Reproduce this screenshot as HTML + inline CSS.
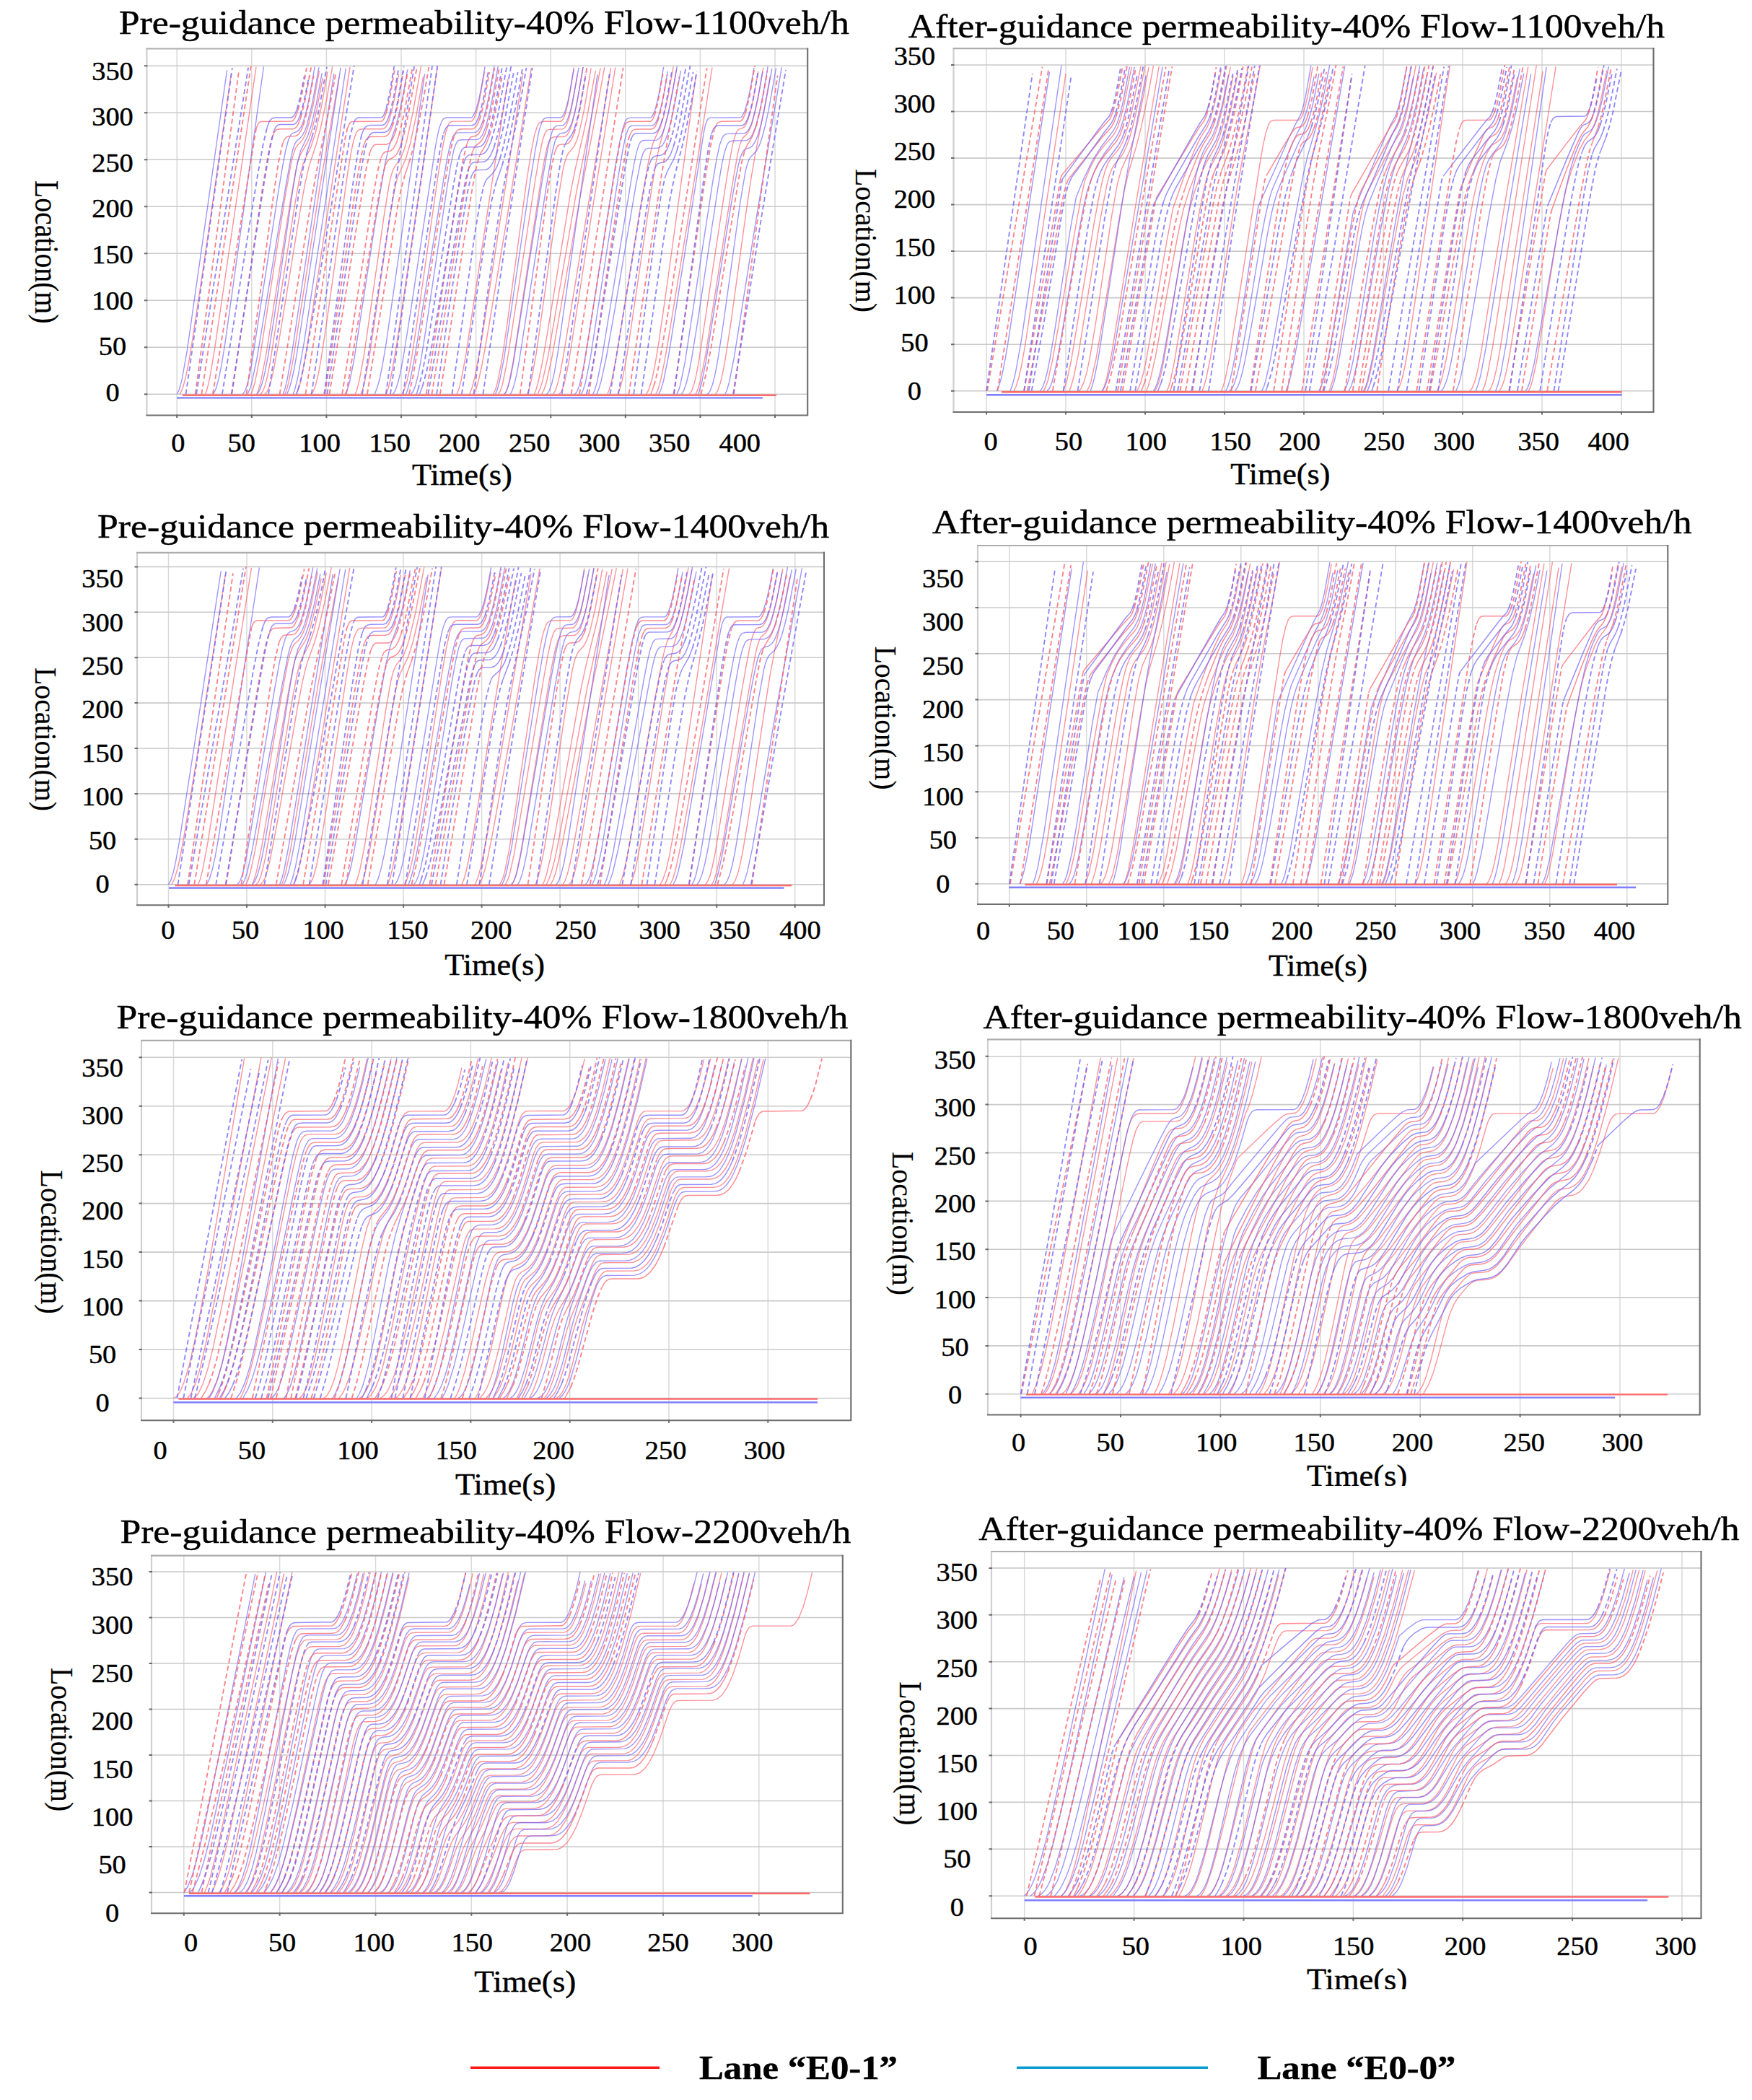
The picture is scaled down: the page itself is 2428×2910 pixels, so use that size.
<!DOCTYPE html>
<html lang="en"><head><meta charset="utf-8"><title>Trajectories</title>
<style>html,body{margin:0;padding:0;background:#fff}svg{display:block}text{font-family:"Liberation Serif","Times New Roman",serif;fill:#000;stroke:#000;stroke-width:.45px}</style></head><body>
<svg width="2428" height="2910" viewBox="0 0 2428 2910">
<rect width="2428" height="2910" fill="#fff"/>
<g>
<path d="M245.2 67.5V575.5M348.8 67.5V575.5M452.4 67.5V575.5M556.0 67.5V575.5M659.6 67.5V575.5M763.2 67.5V575.5M866.8 67.5V575.5M970.4 67.5V575.5M1074.0 67.5V575.5" stroke="#d9d9d9" stroke-width="1.5" fill="none"/>
<path d="M203.4 91.2H1119.2M203.4 156.2H1119.2M203.4 221.2H1119.2M203.4 286.2H1119.2M203.4 351.2H1119.2M203.4 416.2H1119.2M203.4 481.2H1119.2M203.4 546.2H1119.2" stroke="#cacaca" stroke-width="1.6" fill="none"/>
<g>
<path d="M249.3 546.2l3.7-7.7 4.1-14.7 4.2-20.2 4.6-27.4 16.6-110.7 37.8-262.6M284.6 546.2l2.6-7.6 3.1-12.9 6.7-38.8 58-394.1M347.8 546.2l2.6-6.5 3.1-10.9 6.7-33.6 34.2-218.1 8.8-49.5 3.1-12.9 3.1-8.8 2.6-4.2 5.2-5.4 3.1-4.3 3.1-6.5 3.1-9 7.3-30 8.8-48.6M356.1 546.2l2.5-7.4 3.2-11.7 6.7-34.3 33.7-212.6 7.7-44 2.6-11 2.6-8 2.6-5.5 8.3-14 3.1-7.6 3.1-9.7 6.7-28.2 8.3-44.4M361.2 546.2l3.1-4 3.1-8.3 3.2-12.4 3.6-18.6 33.1-211.6 7.8-44.9 5.2-20.1 10.9-23.5 6.2-19.3 8.3-37.1 8.3-46.9M366.9 546.2l3.1-3.5 3.1-6.7 3.2-10.4 3.1-13.5 8.2-45.8 28-171.8 6.8-38.5 5.7-25.1 10.8-33.2 5.7-21.7 8.3-39.7 7.8-44.2M394.9 546.2l2.6-7 2.6-9.5 6.2-31.8 36.8-238.1 26.9-153.5M410.4 546.2l3.1-6.4 3.2-10.8 7.2-38.2 61.1-398M430.6 546.2l1.6-1.1 1.6-2.1 3.6-9.1 3.6-14.6 3.6-19.4 7.8-51 29-206.2 5.2-32.1 3.6-16.8 3.6-10 2.1-2.8 2.1-1.4 4.6-.8 27.5-.1 2.6-.8 2.6-2.6 3.6-7.4 4.1-14.3 4.2-20 5.2-30.6M492.3 546.2l2.6-7.2 3.1-12 6.7-36.3 28-195 6.7-40.9 2.6-11.3 2.6-7.8 2.6-5 5.7-7.6 3.1-5.4 3.6-9 3.7-12.1 8.8-40.1 11.4-64.6M500.1 546.2l2.5-6.8 2.6-9.7 6.3-33 27.9-189.6 6.8-41.1 2.5-12 2.6-9 10.9-24.7 6.2-20.8 8.3-38.7 9.9-54.7M535.3 546.2l3.1-9.5 3.6-15.3 7.8-44.3 56.4-383.9M557 546.2l3.1-5.7 3.7-11.4 3.6-16.3 3.6-20.2 8.3-54.5 27.5-193.2 6.2-38.4 4.6-22.8 3.7-10.8 1.5-2.5 2.1-1.7 2.6-.6 25.4 0 1.5-.8 2.1-2.6 3.6-8.6 3.6-13.7 7.8-43.1M633.2 546.2l3.1-8.4 3.1-12.2 6.7-36.4 27.5-182.6 30.5-197.2M650.8 546.2l3.6-9.5 3.6-14 8.3-44.4 58.6-377.3M656.5 546.2l3.6-8.3 3.6-12.8 4.2-19.2 5.7-30.9 28-166.6 34.7-214.1M683.4 546.2l3.1-6 3.1-10.5 6.3-32.7 7.7-53.4 26.4-194.1 6.3-40 4.6-23.4 3.7-11.4 2-3.5 2.1-1.8 4.7-1.1 23.8-.1 1.5-.9 1.6-2.1 3.1-7.5 3.6-14.3 3.7-19.6 4.6-30.5M690.7 546.2l2.6-4.5 3.1-9.5 6.2-30 38.3-247.2 6.2-37.4 4.2-20.6 3.6-11.7 1.6-2.9 2-2.1 3.7-1.1 17.6-.3 2.6-1.6 2.6-3.8 3.1-8.1 3.6-14.1 8.8-49M699.5 546.2l2.6-5 3.1-10.1 6.2-31.2 37.3-243.8 5.2-31.6 3.6-18 3.1-10.2 1.6-3 2-2.3 3.7-1.3 12.4-.2 3.1-.6 3.1-2.5 3.1-5.5 3.6-10.6 4.2-17.4 5.2-27.7 5.1-32M730.6 546.2l2.6-7.1 3.1-11.8 6.7-36.3 29-205.9 7.8-47.7 3.1-13.4 2.6-7.5 2-3.8 5.7-6.5 3.2-5 3.1-7.3 3.1-10 7.2-33.2 9.3-56.2M740.4 546.2l2.6-6.7 2.6-9 5.2-24 7.2-41.3 32.7-198.1 6.7-33.8 15.5-67.6 12.5-67.9M745.1 546.2l3.6-8.2 3.1-9.8 7.8-34.9 39.3-227.7 22.3-111.8 10.9-59.6M750.8 546.2l3.6-7.4 3.1-9.8 7.8-35.7 40.4-229.8 23.3-121.7 8.8-48.7M766.8 546.2l3.1-5.6 3.1-9.7 3.2-13.3 4.1-21.8 66.3-401.7M775.1 546.2l3.1-4.1 3.1-8.4 3.7-14.9 3.6-19.3 32.6-210.5 31.6-195.4M841.9 546.2l2.6-6.8 3.1-11.4 6.2-31.4 33.2-206.4 11.9-67.8 5.7-23 2.6-6.5 7.3-14.8 5.1-16.5 6.3-28.3 7.2-41M855.9 546.2l3.1-7.3 3.1-11.2 6.8-35.2 32.1-217.6 7.8-48.2 4.6-22.2 8.8-32.3 4.7-19.5 10.9-57.5M895.3 546.2l2.1-2.8 2-4.5 4.2-13.6 4.1-19.5 4.7-27.4 11.9-82.4 40.4-293.4M908.8 546.2l3.1-6.6 3.6-12.5 4.1-19.4 4.7-25.8 28-170.6 34.7-217.8M955.4 546.2l3.1-4.3 3.1-8.6 3.1-12.6 3.6-19 35.3-232.3 6.7-41.6 4.6-25.1 3.2-12.8 3.1-7.9 2.6-3 5.1-1.4 2.6-1.7 3.1-4.8 2.6-6.6 3.1-10.9 3.1-14.1 7.3-40.7M964.2 546.2l3.1-7.2 3.1-10.7 7.3-36.1 36.7-233.5 7.8-45 2.6-11.1 2.6-7.6 2.1-3.6 5.7-5.8 2.5-3.8 3.1-6.8 2.6-7.9 6.8-29 7.7-44.2M991.6 546.2l3.1-5.1 3.7-10.7 3.1-13.1 3.6-19.3 7.3-47.3 21.2-154.1 7.2-49 6.3-36.3 12.9-65.4 7.3-40.4" stroke="#ff5a64" stroke-width="1.4" fill="none" opacity=".66"/>
<path d="M245.2 546.2l3.1-6.2 3.6-12.9 7.3-40.5 55.4-389.3M295.4 546.2l3.7-7 4.1-14.5 3.6-17.8 4.7-28.2 53.9-386.3M336.4 546.2l3.1-4.2 3.1-8.6 3.1-12.8 3.1-16.2 36.3-234.8 6.2-37.4 4.6-24.1 3.7-13.8 3.1-7 2.6-2.7 6.2-2.2 2.6-2 3.1-4.6 3.1-7.3 3.6-12.1 3.6-15.6 8.8-48.4M343.1 546.2l3.1-7.1 3.1-10.5 6.8-32.3 39.8-237.9 7.8-42.2 2.6-10.4 2.6-7 2.6-3.8 5.2-4.4 2.5-3.2 3.2-5.9 3.1-8.6 7.2-29.5 9.3-50.1M356.1 546.2l3.6-5.1 4.1-11.6 3.6-14.9 4.2-21.7 8.3-52.6 25.4-174 6.7-40.1 4.7-17.8 9.8-20.2 5.2-15.7 6.7-29.1 7.8-42.1M392.3 546.2l2.6-7.3 3.1-12.6 6.7-37.8 58.1-386.7M397.5 546.2l3.1-6.7 3.6-12.5 3.7-17 4.6-26.5 59.6-389.6M406.3 546.2l3.1-9.5 3.6-15.1 8.3-46.5 58-380.5M478.3 546.2l2.6-4.9 3.1-9.7 6.7-33 31.6-205.1 10.9-64.6 5.7-25.2 9.3-27.8 4.7-17.1 5.7-27.1 6.2-35.4M519.2 546.2l3.6-9.1 3.7-13.6 4.1-20.6 4.7-27.9 53.3-372.6M544.6 546.2l3.1-4.8 3.6-10.3 3.7-15.1 4.1-22 10.4-65.1 33.6-223.5 2.6-14.6 3.1-13.6 3.7-9.7 2-2.7 2.1-1.3 3.6-.5 32.1 0 1.6-.5 2.1-2.1 3.6-7.8 3.6-12.8 4.2-20.1 4.6-27.4M562.7 546.2l2.6-7.4 3.1-11.9 6.2-31.4 40.5-249.3 5.1-29.3 4.2-18.4 3.6-9.8 1.6-2.3 2-1.7 3.7-.8 23.3-.3 3.6-2.1 3.1-4.3 4.1-10.1 4.7-17.4 5.2-25.3 5.7-32.9M569.5 546.2l3.1-3.9 3.6-9.6 3.1-12.3 3.6-18.6 6.8-42.1 30-201.1 5.2-31.3 4.1-19.6 3.1-8.9 1.6-2.5 2.1-1.8 3.1-.7 22.8-.4 3.6-2.1 3.6-5 4.7-11.8 4.6-17.8 5.2-25.5 6.8-39.1M686.5 546.2l2.6-6.2 3.1-11 6.8-35 35.7-242.3 7.3-44.7 5.1-25.9 3.7-11.6 2-3.7 2.1-1.9 3.6-.9 18.7 0 1.5-.9 2.1-2.6 3.1-7.3 3.6-13.4 7.8-42.8M698.5 546.2l2.5-2.8 3.1-7.4 3.2-11.8 3.6-18.3 39.3-248.3 6.3-37 4.6-23.7 3.7-13.4 3.1-6.4 1.5-1.6 2.1-1.1 7.8-.6 2-.8 3.1-3.3 2.6-5.4 3.1-9.5 3.7-15.3 8.2-45.7M707.3 546.2l2.5-5 3.2-9.6 3.1-13.3 3.6-19.2 36.8-236.7 5.7-34.3 4.1-21.4 3.1-11.6 3.1-6.7 3.7-3.3 6.7-1.3 3.1-1.8 3.1-4.2 3.1-7.1 3.6-12.1 3.7-16 8.8-49.6M757.5 546.2l1.6-1.3 2-3.3 3.7-10.4 3.6-15.8 4.6-26.6 55-385.4M796.4 546.2l1.5-1.2 1.6-2.2 3.1-7.8 3.1-11.9 3.6-18.2 8.8-53.3 34.7-221.4 5.7-32.1 4.7-20.7 3.6-9.8 2.1-2.7 2-1.3 3.7-.5 26.4 0 1.5-.6 1.6-1.7 3.1-6.6 3.6-13.1 3.7-17.8 5.1-30.4M805.7 546.2l2.6-5.9 3.1-10.3 6.7-33.4 38.9-252.9 6.2-36.9 4.1-19.2 3.6-9.7 1.6-2.1 2.1-1.3 2.6-.4 26.4-.1 2.6-1 2.6-3 3.6-8.1 4.1-15.1 4.2-20.5 4.6-27.6M821.7 546.2l2.6-5.9 3.1-10.7 6.2-30.5 40.5-245.6 4.6-26.4 3.6-16.7 3.1-9.7 1.6-3 2.1-2.2 3.1-1 18.1-.4 3.6-2.3 3.7-5.7 4.1-11.3 4.7-18.6 5.7-28.7 6.2-35.7M826.9 546.2l3.1-7.8 3.1-10.3 7.3-33.6 12.4-70.1 28.5-167.9 7.3-36.2 3.1-9.2 3.1-4.4 3.6-1.3 12.4-.2 3.1-.6 4.2-3.2 3.6-6.2 4.2-11.4 4.6-18.3 5.7-27.7 7.3-39.9M912.9 546.2l3.1-6.5 3.6-12.2 7.3-36.4 48.7-309.1 2.1-9.6 2.5-6.2 1.6-1.9 2.1-1.2 41.4-.2 1.6-.5 1.5-1.4 3.6-7 4.2-14 4.1-19.7 4.7-26.5M937.8 546.2l2.6-5.1 2.5-8.2 6.3-30.7 38.3-248.8 5.7-33.5 4.1-18.9 3.7-10.2 2-3.1 2.1-1.6 4.7-1 21.2-.2 3.6-1.8 3.1-3.8 4.2-9.4 4.6-16.7 5.2-24.8 5.2-29.6M944.5 546.2l3.1-4.9 3.6-10.3 3.7-15 3.6-18.9 8.3-51.3 28.5-187.8 5.1-30.6 3.7-16.7 3.6-10.2 1.5-2.4 2.1-1.9 4.2-1.2 16-.1 3.7-.5 4.1-2.7 3.6-5.4 4.7-12 5.2-20 5.7-28.5 5.7-33.9M967.8 546.2l4.7-15.9 5.7-29.1 34.2-212.8 6.2-35.9 4.6-23.3 3.1-11.9 3.2-7.4 3.1-3.2 6.7-2.1 3.6-2.7 3.6-5.4 3.7-8.7 4.1-14 4.7-20.1 10.9-58.7M980.2 546.2l1.6-1.1 2.1-3 3.6-9.4 3.6-14.6 3.6-19.1 7.8-51 23.3-167.5 7.3-43.2 2.1-8.4 2.5-7.2 2.6-4.3 6.2-6.2 3.2-4.4 3.6-7.8 3.1-9.3 4.1-15.7 4.7-21.7 10.4-57.9M1005.1 546.2l2.6-6.5 3.1-11.1 6.7-34 30.6-192.3 35.2-209.2" stroke="#6c60ff" stroke-width="1.4" fill="none" opacity=".66"/>
<path d="M355 178.2l2.6-6.6 2.1-2.3 2.1-.9 42.9-.4 2.1-1.6 2.1-3.1 4.1-10.8M377.3 190l3.1-7.2 1.6-1.9 2-1.4 4.2-.7 17.6 0 3.1-1.1 2.1-1.9 2-3.3 3.7-9.1M391.3 200.3l2.6-6.7 3.1-3.8 3.1-1 9.3-.3 2.1-.7 2-1.5 3.7-5.4 3.1-7.7M481.4 177.9l3.1-6.9 1.6-1.6 2-1 41-.4 1.5-1.3 1.6-2.4 3.1-8M504.2 201l3.1-7.5 1.6-2 2-1.5 3.7-.6 17.6-.1 3.6-1 2.1-1.8 2-2.9 3.7-8.3M512.5 211.8l3.1-7.9 3.1-3 2.6-.6 14.5-.1 4.1-1.8 4.2-5.6 3.6-9M528 219l2.1-4.7 2.6-3.1 2.1-.9 6.2-1.1 4.1-3.4 4.2-7.6 3.6-10.6M533.7 230.1l2.1-4.9 2.1-2.9 2-1.6 5.7-2.7 3.7-3.7 3.6-6.6 3.6-10M560.7 244l6.2-18.4M629 189.6l3.1-7 1.6-1.9 2.1-1.3 3.6-.6 15-.1 3.1-1 3.7-4.3 3.1-7.2M646.6 200.8l2.6-6.7 2.6-3.5 2.1-1.2 5.7-1.1 3.6-2.9 3.1-5.1 3.1-8.1M654.4 211.6l2.1-5.6 2.1-3.4 6.7-5.4 3.6-4.6 3.1-6.6 3.1-9.2M663.7 218l2.6-5.9 7.3-12.2 4.6-11.9M768.4 212.5l2.1-6.1 2.5-4.3 3.2-1.9 8.2-.5 3.7-1.5 3.6-4.4 3.6-8.3M863.2 181.2l3.1-8.1 1.5-2.3 2.1-1.7 4.2-.8 27.4-.1 2.6-2.2 2.6-5.5M872 189.3l3.1-6.7 1.5-1.8 2.1-1.2 4.2-.6 19.6-.1 2.6-.6 3.1-3.2 3.1-6.7M902 546.2l4.2-11.6M989.6 181l3.1-8 1.5-2.3 2.1-1.6 4.1-.8 25.9-.3 3.2-3.1 3.6-8.4M1031.5 210.5l3.1-7.7 8.3-14.2 5.2-14.1" stroke="#ff5a64" stroke-width="1.5" fill="none" opacity=".7"/>
<path d="M370 177l3.1-8.3 1.6-2.5 2.1-1.9 4.6-1.2 23.3-.2 3.2-3.1 3.6-8M378.8 183.9l3.2-7.7 3.1-3.1 3.1-.5 17.6 0 3.1-.9 3.6-4 3.6-8.1M426 209.2l6.2-18.8M411 546.2l2-6.5M489.7 171.3l2.6-5.3 1.5-1.7 2.1-1 33.2-.5 1.5-1.4 1.6-2.5 3.1-8.4M501.1 187l3.1-8 2.1-2.9 2-1.5 4.7-1 17.1-.1 3.1-1.3 3.6-5.1 3.7-10.1M509.4 192.9l3.1-6.1 3.1-2.5 3.6-.7 13.5-.2 4.1-1.6 2.1-2.1 2.1-3.4 3.6-8.9M614.5 185.5l3.1-7.7 2.1-2.5 2.1-1.1 4.1-.5 28-.1 2.6-.5 2.1-1.6 2-2.9 3.7-8.7M577.2 546.2l2.1-6.4M637.3 213.6l3.1-6.7 3.1-2.5 3.7-.6 15.5-.1 4.7-1.6 2.6-2.5 2-3 4.7-10.9M581.4 546.2l4.1-10.9M643.5 223.2l2.6-5.4 3.1-2.7 3.1-.7 14-.1 4.7-1.9 2.6-2.5 2.6-3.9 4.6-11M649.2 234.2l2.6-5.6 3.1-3 3.1-.8 12-.5 2.5-.8 2.6-1.8 4.7-6.2 4.7-11.1M652.9 245.3l2.6-5.9 3.1-3.2 3.1-.7 10.8-.3 3.2-1 2.5-1.9 2.6-3 2.6-4.3 4.7-11.5M670 259.2l2-6.1 2.6-5 8.3-7.8 3.6-5.2 3.1-6.4 3.2-8.6M687.6 253l8.3-23.8M781.8 202.9l3.2-6.6 7.2-9.3 4.2-9.5M875.1 191.3l2.6-4.7 3.1-1.9 24.3-.2 3.1-.6 2.1-1.5 2.1-2.7 4.1-9.5M899.4 229.2l2.6-6.9 3.1-4.4 3.1-1.6 8.8-1.4 4.2-3 3.6-5.6 3.6-9M906.7 235.5l2.1-4.9 2.5-3.4 2.6-1.3 6.8-1.5 2.6-1.6 2-2.2 4.2-7.2 4.1-11.2M921.7 245.7l3.1-8.2 8.8-16.6 4.7-12.9M985.9 186l3.1-7.9 2.1-2.6 2.1-1.2 3.1-.4 30.6 0 3.1-.6 2-1.6 2.1-2.9 3.6-8.2" stroke="#6c60ff" stroke-width="1.5" fill="none" opacity=".7"/>
<path d="M270.6 546.2l60.1-445.8M279.4 546.2l68.4-454.7M294.9 546.2l60.1-368M413 152.5l5.2-21.4 6.7-36.9M321.3 546.2l41.5-279.2 8.8-52.4 3.1-15 2.6-9.6M416.7 163.4l6.2-25 8.3-45.1M341.5 546.2l37.9-278.6 6.7-43.4 5.2-23.9M420.3 173.2l3.1-10.7 3.6-15.8 7.8-42M387.6 546.2l44.1-270.1 7.7-42.2 17.7-87.6 8.3-45M423.4 546.2l54.9-354.4 3.1-13.9M535.3 156.3l5.2-22.2 6.2-36.8M450.3 546.2l42.5-285.2 6.7-39.9 4.7-20.1M543.6 175.3l3.1-10.5 3.6-16 8.8-49.9M456.5 546.2l46.7-287.2 5.1-29.2 4.2-18M547.7 183.8l3.6-12.8 3.7-16.2 9.8-54M474.2 546.2l42.4-271.6 6.8-37.4 4.6-18.2M552.9 187.6l7.8-33.4 10.8-59.9M479.9 546.2l44-268.5 5.7-31.2 4.1-16.4M556.5 197.7l4.2-15.4 4.6-21.2 12.5-67.9M508.9 546.2l41.4-255.4 5.2-27.1 5.2-19.7M566.9 225.6l5.7-20 6.2-27.4 8.3-42.7 7.2-42.3M566.9 546.2l5.7-26.2 7.2-40.5 40.4-248.2 5.2-27.6 3.6-14.1M664.3 166.2l3.1-10.4 3.1-13.3 7.7-42.4M590.7 546.2l43-278.5 7.8-44.8 5.1-22.1M669.4 172.2l3.7-13 3.6-16.4 8.8-48.7M598.5 546.2l45.6-282.1 6.2-35 4.1-17.5M675.1 176.8l3.7-14 4.1-19.2 9.3-51.4M609.9 546.2l43-275.5 6.2-35 4.6-17.7M678.2 188l3.7-12.9 4.1-18 10.4-54.4M720.7 546.2l37.3-274.1 5.7-37.4 4.7-22.2M795.3 185.5l3.6-12.4 4.2-18.8 10.3-61.2M791.7 546.2l72-452.3M803.1 546.2l49.2-309.9 6.2-35 4.7-20.1M906.7 160.5l2.6-8.5 2.6-11.4 6.7-38.2M816 546.2l44.1-294.1 7.2-43.3 4.7-19.5M911.3 168.4l2.6-8.5 3.1-13.3 7.8-43.3M871.5 546.2l44-295.8 7.2-42.8 18.7-101.1M906.2 534.6l3.6-13.3 3.6-16.7 9.3-52.4 57-358.1M933.6 546.2l44.1-302.1 6.7-40.2 5.2-22.9M1033.1 156.5l5.7-23 7.2-42.3M971.4 546.2l6.8-26.7 7.2-37.4 38.4-234.7 4.1-22.4 3.6-14.5M1048.1 174.5l7.3-30.3 8.2-45.9M1017 546.2l31.6-233.6 29-207.9" stroke="#ff5a64" stroke-width="1.85" stroke-dasharray="6.8 4" fill="none" opacity=".76"/>
<path d="M257.6 546.2l64.3-451.8M272.1 546.2l72-452.7M307.9 546.2l49.7-306.9 7.3-40.2 5.1-22.1M411.5 151.8l4.6-17.2 5.7-29.3M320.8 546.2l45.1-292.4 7.8-46.4 5.1-23.5M416.1 159.6l5.7-21.1 6.3-32.3M372.1 546.2l42.5-281.7 5.7-32.5 5.7-22.8M432.2 190.4l5.2-18.3 4.6-20.3 10.9-58.9M413 539.7l3.7-12.8 4.1-18.5 11.4-62.1 26.9-160.4 31.6-194.2M431.7 546.2l47.6-323.6 5.7-32.9 4.7-18.4M535.3 150.5l4.6-20.5 6.3-37.8M449.3 546.2l38.8-285 7.8-50.4 5.2-23.8M540.5 157l5.7-25.4 6.2-37.6M453.4 546.2l46.1-305 5.7-32.5 4.2-15.8M544.6 167.4l3.1-10.8 3.6-16.3 8.3-47.9M502.1 546.2l39.4-254.6 32.6-199.5M534.8 546.2l64.2-454.7M541 546.2l65.2-454.8M558.6 546.2l47.1-314.6 5.2-30.6 3.6-15.5M664.3 159.9l5.7-22.9 6.7-37.8M579.3 539.8l5.7-22 6.2-32.1 37.8-232.5 4.7-25.4 3.6-14.2M676.7 185.7l4.1-14.5 4.2-18.3 10.9-59.6M585.5 535.3l5.7-20.6 6.8-33 11.4-65.1 26.4-158.3 4.1-21.6 3.6-13.5M680.8 195l4.7-16.2 4.7-20.6 11.9-64.9M593.3 546.2l47.7-274.2 4.6-24.2 3.6-13.6M684.5 204.4l4.6-15.9 5.7-24.9 13.5-71.7M605.2 546.2l14.5-101.5 17.1-111.7 10.4-62.7 3.1-15.4 2.6-9.6M688.1 213.5l4.7-16.3 5.1-22.7 14-74.3M626.4 546.2l31.6-222.3 6.8-41.1 5.2-23.6M692.8 220.1l4.6-16.6 5.7-25.4 7.8-39.7 6.7-38.2M639.9 546.2l34.7-230.5 6.8-37.9 6.2-24.8M695.9 229.2l6.2-22 6.2-27.6 8.8-45 7.3-41.8M656.5 546.2l25.4-184.6 10.9-73.4 7.2-40.9 19.7-97.8 9.8-55.6M669.4 546.2l34.7-235.3 33.7-217M732.1 546.2l38.4-281.6 6.2-39.5 2.6-12.8 2.5-9.4M796.4 177.5l3.6-12.5 3.6-16 8.3-46.2M778.7 546.2l65.8-443.2M812.9 546.2l5.2-21.6 6.2-32.9 42-259.4 5.2-28 3.6-13M916.5 170.2l3.1-10.9 3.1-13.8 8.3-46.3M845.6 546.2l43.5-265.4 6.2-34.3 4.1-17.3M928.4 197.3l4.2-14.2 5.2-22.4 12.9-68.3M857 546.2l38.3-252.3 6.7-39.3 4.7-19.1M933.6 202.2l4.7-17.4 5.2-23.6 12.9-69.7M878.2 546.2l32.1-239.1 6.2-38.9 5.2-22.5M938.3 208l4.1-15.3 5.2-23.2 13-69.6M888.6 546.2l29.5-203.7 9.8-63.4 6.8-34.4 10.8-42.7 5.7-25.4 7.8-39.3 6.7-38.1M934.1 546.2l42.5-308 5.2-33.1 4.1-19.1M1037.7 160.6l3.1-10.5 3.2-13.5 6.7-37.2M1016 546.2l38.8-242.6 34.2-206.7" stroke="#6c60ff" stroke-width="1.85" stroke-dasharray="6.8 4" fill="none" opacity=".76"/>
</g>
<path d="M245.0 551.4H1057.0" stroke="#7f7fff" stroke-width="2.4" fill="none"/>
<path d="M253.0 547.7H1076.0" stroke="#ff6a6a" stroke-width="2.4" fill="none"/>
<path d="M203.4 575.5V67.5" stroke="#cfcfcf" stroke-width="2.2" fill="none"/>
<path d="M202.4 67.5H1120.2" stroke="#adadad" stroke-width="2.2" fill="none"/>
<path d="M1119.2 66.5V575.5M202.4 575.5H1120.2" stroke="#6e6e6e" stroke-width="2.1" fill="none"/>
<path d="M245.2 574.5v4.5M348.8 574.5v4.5M452.4 574.5v4.5M556.0 574.5v4.5M659.6 574.5v4.5M763.2 574.5v4.5M866.8 574.5v4.5M970.4 574.5v4.5M1074.0 574.5v4.5M204.4 91.2h-4.5M204.4 156.2h-4.5M204.4 221.2h-4.5M204.4 286.2h-4.5M204.4 351.2h-4.5M204.4 416.2h-4.5M204.4 481.2h-4.5M204.4 546.2h-4.5" stroke="#6a6a6a" stroke-width="2" fill="none"/>
<text transform="translate(164.70,47.30) scale(1.1245,1)" font-size="46.00">Pre-guidance permeability-40% Flow-1100veh/h</text>
<text transform="translate(49.03,250.00) rotate(90) scale(0.3972,0.4571)" font-size="100">Location(m)</text>
<text transform="translate(571.00,672.40) scale(1.0551,1)" font-size="42.00">Time(s)</text>
<text transform="translate(127.25,110.83) scale(1.0890,1)" font-size="35.20">350</text>
<text transform="translate(127.25,174.43) scale(1.0890,1)" font-size="35.20">300</text>
<text transform="translate(127.25,237.63) scale(1.0890,1)" font-size="35.20">250</text>
<text transform="translate(127.25,301.23) scale(1.0890,1)" font-size="35.20">200</text>
<text transform="translate(127.25,364.93) scale(1.0890,1)" font-size="35.20">150</text>
<text transform="translate(127.25,428.53) scale(1.0890,1)" font-size="35.20">100</text>
<text transform="translate(136.83,491.93) scale(1.0890,1)" font-size="35.20">50</text>
<text transform="translate(146.42,555.93) scale(1.0890,1)" font-size="35.20">0</text>
<text transform="translate(237.22,625.73) scale(1.0890,1)" font-size="35.20">0</text>
<text transform="translate(315.53,625.73) scale(1.0890,1)" font-size="35.20">50</text>
<text transform="translate(414.35,625.73) scale(1.0890,1)" font-size="35.20">100</text>
<text transform="translate(511.45,625.73) scale(1.0890,1)" font-size="35.20">150</text>
<text transform="translate(607.85,625.73) scale(1.0890,1)" font-size="35.20">200</text>
<text transform="translate(704.95,625.73) scale(1.0890,1)" font-size="35.20">250</text>
<text transform="translate(801.95,625.73) scale(1.0890,1)" font-size="35.20">300</text>
<text transform="translate(898.95,625.73) scale(1.0890,1)" font-size="35.20">350</text>
<text transform="translate(996.55,625.73) scale(1.0890,1)" font-size="35.20">400</text>
</g>
<g>
<path d="M1367.0 67.2V571.0M1477.0 67.2V571.0M1587.0 67.2V571.0M1697.0 67.2V571.0M1807.0 67.2V571.0M1917.0 67.2V571.0M2027.0 67.2V571.0M2137.0 67.2V571.0M2247.0 67.2V571.0" stroke="#d9d9d9" stroke-width="1.5" fill="none"/>
<path d="M1321.5 90.0H2291.5M1321.5 154.5H2291.5M1321.5 219.1H2291.5M1321.5 283.6H2291.5M1321.5 348.1H2291.5M1321.5 412.6H2291.5M1321.5 477.2H2291.5M1321.5 541.7H2291.5" stroke="#cacaca" stroke-width="1.6" fill="none"/>
<g>
<path d="M1405 541.7l3.2-6.4 3.9-12.6 3.9-17.6 4.9-28.1 56.1-374.5M1446.2 541.7l2.8-5 3.2-9.5 6.6-28.9 32-184.8 7.1-38.3 5.5-25.1 7.7-18.4 8.2-15.6 8.9-12 14.8-16.9 2.8-4.2 2.7-5.8 4.4-12.8 4.4-17.2 11-54.5M1473.7 541.7l5-14.8 6-28.4 31.3-187.8 6.7-36.4 4.9-23.4 3.9-14.2 4.3-11.1 4.4-7 8.3-9.6 3.8-5.5 3.9-7.5 3.3-8.7 5-16.8 4.9-20.7 11.6-58.2M1482 541.7l2.7-7.5 3.3-11.9 6.6-32.1 29.7-183.1 9.4-50 3.3-12.7 3.8-10.3 3.9-6.5 8.2-9.7 3.9-5.7 4.4-9.2 3.8-10.7 5-17.7 4.9-21.2 12.1-62.6M1494.6 541.7l2.2-1.6 1.7-2.2 3.8-8.8 3.9-13.5 4.3-20.8 8.3-49.3 22-147 7.7-43.3 5.5-20.3 11.5-25.5 7.2-22.4 9.3-41 10-52.9M1506.2 541.7l2.7-4.6 3.3-9.4 6.6-29.6 7.7-44.4 24.2-148.5 7.7-42.4 5.5-23.6 11-37 6.6-25.8 8.8-41 8.2-44.5M1527.6 541.7l2.7-6 3.4-11.2 7.1-35.7 31.9-197.4 33.5-199.4M1575.5 541.7l2.7-4.6 3.3-8.8 3.3-12.3 3.9-18 28-162.2 8.8-46.9 14.8-42.3 14.4-37 8.8-18.5 9.8-15.5 3.9-9.3 6.6-25 8.8-45.5M1588.7 541.7l2.7-7.2 3.3-11.1 6.6-29 29.7-161.9 5-24.5 4.3-18.7 7.7-25.2 13.8-35.5 7.7-16.5 11-18.2 5.5-13.6 4.4-15.3 4.4-18.7 10.4-53.9M1599.7 541.7l2.7-3.2 3.3-8 2.8-9.9 3.3-15.4 6-34.9 20.9-130.8 5.5-30 5-22.3 6.6-22.7 8.7-23.3 7.7-16.8 12.1-20.8 6.1-15.2 3.8-13.2 4.5-18.1 10.4-52.2M1617.2 541.7l2.3-5.4 2.7-9.6 5.5-26.4 28.6-173.6 6.6-36.9 5.5-27 3.8-15.5 3.9-11.8 3.3-7.5 9.9-18.6 3.9-9.7 3.3-10.4 9.3-38.3 9.9-50.7M1666.2 541.7l2.8-7.7 2.7-10.2 6.1-29.9 35.7-227.6 8.3-46 18.7-96.1 6-33.9M1692.6 541.7l2.7-6.9 2.8-10 6.1-30.4 42.8-273.8 3.9-21.6 3.9-16.9 3.8-10.7 2.2-3 2.2-1.4 3.8-.5 32.5 0 1.7-.6 1.6-1.7 3.3-6.8 3.9-13.5 4.4-21.6 4.9-29.2M1842.2 541.7l5-15.7 4.9-23.7 29.1-177.2 5-27.1 3.9-16.7 3.8-12.4 4.4-9.3 28.6-53.6 12.7-20.8 3.2-7.3 3.9-11.9 4.4-17.8 11-57.2M1891.2 541.7l2.7-6.6 2.8-9.2 6-27.3 33.5-186.2 8.3-42 6.1-22.4 12.1-28.9 7.1-22.5 9.4-39 11.5-57M1935.7 541.7l3.3-4.7 3.8-11.2 3.9-16.8 4.4-24.7 58.3-393.9M1991.8 541.7l2.8-5.4 3.2-9.8 6.7-29.5 7.1-40.7 24.7-150.6 6.1-32.5 5.5-24.6 6.6-21.5 4.4-11 3.9-8 4.9-6.9 7.7-4.8 3.3-2.9 3.3-4.9 3.3-7.2 3.9-11.5 3.8-14.8 9.9-48.5M2036.9 541.7l3.3-4.1 3.9-9.9 3.8-15.2 4.4-22.5 32.5-203.8 33-193.8M2054.5 541.7l3.3-8.4 3.3-12.6 7.7-41.3 60.5-388.9M2062.8 541.7l2.1-2 1.7-2.8 3.8-10.9 3.9-16.5 4.4-24.1 59.4-386.8M2077.6 541.7l3.3-4.5 3.9-10.9 3.8-16.4 4.4-23.5 63.2-394.2M2118.3 541.7l2.8-5.9 2.7-8.8 6-27.9 28.1-173.2 7.2-39.4 6-27.9 6.1-20.6 12-31.2 6.1-11.4 9.9-13 5-11.1 3.2-10.7 3.9-15.7 9.4-47.6" stroke="#ff5a64" stroke-width="1.4" fill="none" opacity=".66"/>
<path d="M1381.3 541.7l3.3-7.4 3.3-11.5 3.9-18.2 4.4-25 58.3-379.8M1400 541.7l3.3-9.1 3.9-15.2 8.8-49.3 55-377.4M1441.8 541.7l3.3-5.4 3.3-9.3 3.3-13.2 3.3-16.4 7.2-42.5 20.8-135.5 8.3-45.9 11-26.8 11.5-23.8 12.7-19.9 16.5-22 5-9.7 3.8-11.5 4.4-17.7 9.3-49.5M1451.2 541.7l3.3-3.9 3.3-7.9 3.2-11.9 3.3-15.2 7.2-39.7 23.7-142 6-32 5.5-24.4 6.6-19.5 7.7-17.2 9.3-15 16.5-22.3 3.4-6 2.7-6.6 4.4-13.9 4.4-17.9 10.5-53.7M1511.1 541.7l2.7-7.5 2.8-10.2 5.5-27.5 35.7-232.9 7.7-42.9 22.6-116.1M1527 541.7l1.7-1.7 2.2-3.7 3.9-10.4 4.4-17.4 4.9-24.7 67.1-391.4M1598.5 541.7l2.8-4.6 3.3-9 3.3-12.3 3.9-17.9 33.5-193.1 7.2-38.3 5.5-26 3.8-14.7 4.4-12.6 4.4-9 9.9-16.2 6-15.2 7.2-26.7 8.8-42.4M1698.7 541.7l2.7-5.5 3.3-10.2 3.3-13.9 3.8-20 7.2-43.8 24.8-162.3 44-98 7.7-16.1 7.1-13.2 3.3-10.5 3.3-14.1 7.7-43.2M1703.6 541.7l2.2-1.6 1.7-2.2 3.3-6.8 3.8-12.4 3.9-16.6 8.2-44.8 21.5-130.3 5.5-28.4 5.5-23.2 3.3-11 2.7-6.8 30.3-68.3 8.7-17.4 3.3-7.9 3.3-10.3 3.4-13 7.1-35.4M1711.8 541.7l3.4-5.5 3.3-8.6 3.3-11.8 3.8-17.2 8.2-44 22.6-129.7 5.5-28.1 3.9-16.3 3.8-12.8 5.5-14.3 23.7-53.6 9.3-19 3.9-9.7 3.8-12.4 3.9-15.5 8.2-41.2M1748.7 541.7l2.8-6.1 2.7-8.7 6.6-29.7 32.4-187.1 12.7-67.2 6.6-28.2 11-37.4 5.5-21.2 6.6-29.5 7.2-36.6M1782.2 541.7l3.3-8.7 3.3-12.3 7.7-38.3 67.2-390.7M1827.9 541.7l3.3-7 3.3-10.4 7.2-32.5 33.5-197.4 5-12.9 38.5-89.5 8.2-18.4 6.1-11.1 2.2-5.2 3.3-10.7 3.3-13.7 7.7-40.5M1844.4 541.7l4.9-14.2 5.5-24.5 28.7-163.6 4.9-25.7 4.4-19.3 4.4-13.3 7.7-19.5 24.2-58.8 10.5-22.1 3.8-9.6 7.2-25.4 8.2-39.8M1862.6 541.7l2.7-4.6 3.3-9 6.6-28.3 6-34 23.1-140.2 6.7-35.9 5.5-26 4.9-19.2 5.5-16.9 7.2-17.9 11-23.7 5.5-15.9 8.2-33.2 8.8-45.5M1869.2 541.7l3.3-6.7 2.7-8.2 7.1-30.9 31.9-182.3 10.5-52.8 4.4-17.2 4.4-13.9 5-12.6 10.4-23 6.6-19.5 8.8-36 8.8-44.8M1889.5 541.7l2.7-5.1 2.8-8.2 6.6-29.9 31.9-188.9 11.6-63.3 6.6-30.3 15.4-62.4 10.4-50.2M1997.3 541.7l3.3-4 3.9-9.4 3.3-11.9 3.8-17.9 7.7-43.7 25.3-154.7 6.1-33.3 4.9-23 3.8-13.5 3.9-9.2 4.4-6.9 8.2-9.9 3.9-5.6 3.9-7.5 3.2-8.7 4.4-14.8 4.5-18.4 10.4-54M2017.7 541.7l2.7-6 3.3-10.7 6.6-30.6 31.9-188.7 10.5-56 6.5-26.3 11.6-31.2 5.5-18.3 7.1-30.3 8.3-41.6M2045.2 541.7l3.2-8.7 3.4-12.4 7.1-36.8 29.7-183.2 33-198M2072.7 541.7l3.2-8.6 3.9-15.1 8.3-46.5 55-378.7M2114.4 541.7l2.8-4.6 2.7-7.5 6.1-25.3 34.7-195.3 8.2-42.4 6.6-29 7.2-24 4.4-11.4 4.3-9.6 2.8-4.6 2.2-2.6 7.2-3.9 2.7-2.4 3.3-5.1 2.7-6.4 3.9-12.3 3.9-15.8 9.3-47.5" stroke="#6c60ff" stroke-width="1.4" fill="none" opacity=".66"/>
<path d="M1469.8 248l1.2-4.2 1-2 52.3-61.8 12.7-13.4 2.7-4.9 2.8-7.4M1478.7 253.3l1.6-4.2 2.2-3.2 43.5-53.8 14.2-16.1 3.3-5.8 3.3-8.7M1511.7 250.8l4.9-12.6 5.5-10.6 8.2-11.8 17.1-20 4.4-8 3.9-10.2M1601.8 276.2l1.7-3.9 49-80.7 10.4-16.5 6.1-7.9 3.2-7.8M1581.5 541.7l4.4-10.5M1640.9 264.9l7.1-19.7 13.2-32.5 6.1-12.4 9.9-16 5.5-13.8M1621.7 541.7l2.1-6.1M1681 243.1l3.9-9.7 8.8-17.9 5-13.1M1692.6 237.5l8.8-23.5M1754.8 243.6l25.8-44.2 10.4-16.8 2.8-3.5 2.2-1.8 2.2-.8 5-.7 2.7-1.9 3.3-5.2 2.8-7.1M1787.8 206.2l3.8-9.5 3.9-6.3 3.8-3.5 7.2-1.6 2.7-1.7 3.8-5.3 3.3-7.8M1801.5 204.2l1.7-3.6 2.1-3.1 6.7-4.2 3.2-3.5 3.3-5.9 2.8-7M1871.3 273.8l2.3-5.9 22.5-39.4 25.3-43.9 6.6-10.7 5-6.7 2.2-4.7M1884 269.3l2.8-6.3 31.9-58.4 9.9-17.5 7.1-10.8 3.3-7.1M1918.7 241.2l7.6-17.7 6.7-12 9.3-15.1 4.9-11.1M1927.5 242l5.5-13.3 13.2-22.5 5.5-12.6M1935.7 240.9l4.4-9.8 10.5-18.1 4.9-11.8M1941.8 247.6l4.4-11.2 9.9-19.1 5.5-14.6M1958.8 249l8.8-23.9M2022.6 177.9l3.3-7.7 3.3-3.2 3.3-.6 31.3-.1 1.7-.8 1.7-1.7 3.8-7.6M2023.7 261.7l19.8-47.3 13.2-29 2.7-4.5 2.3-2.3 6.5-2.7 2.8-2.4 2.8-4.3 2.7-6.5M2036.9 250.5l9.3-23.6 13.8-30 4.4-6.2 8.3-4.8 3.2-3.5 3.9-6.9 3.3-8.8M2066.6 221.5l2.2-5.8 2.8-4.6 2.2-2.2 6-3.9 3.9-4.3 3.8-7.3 3.3-8.8M2141.9 239.2l1.7-4.2 28.6-37.6 17-22 7.7-8.4 2.3-4 2.1-5.7M2150.8 289.8l20.3-55.1 13.2-33.1 6.6-13.3 3.3-4.9 6.6-7.8 5-10.3M2205.8 200.1l8.8-23.4" stroke="#ff5a64" stroke-width="1.5" fill="none" opacity=".7"/>
<path d="M1472 249.5l1.2-2.6 46.1-63.3 11.6-15.3 6.1-6.8 3.2-7M1480.3 256.7l4.9-11.2 16.6-21.9 29.1-41.1 9.3-11.8 3.3-6.4 2.8-7.7M1522.1 246.2l3.3-8.6 3.8-7.5 6.6-9.9 14.4-19.3 3.8-7.1 3.3-8M1546.3 228.2l3.3-8.5 7.7-15.3 4.4-10.7M1599.1 282.8l55.6-98.4 8.8-14.8 6-8.5 4.4-11.3M1612.3 280.1l3.9-10.6 5.5-11.2 38.5-67.6 12-19 3.9-8.4M1621.7 278.7l3.8-10 4.4-9 33-57.7 12.6-20.4 5.5-12.4M1604.6 541.7l4.4-10.6M1668.4 228.9l5.5-14 11.6-20.6 4.9-13M1679.4 223.8l10.4-22.5 5-13.4M1788.8 243.9l7.7-20.3 15.5-33.1 5.5-14.7M1754.2 541.7l2.2-6M1885.1 289.9l3.9-10.5 15.3-34.1 23.7-56.2 8.8-18.1 3.3-8.4M1895 541.7l4.4-11.4M1901.1 541.7l2.1-6.2M2000.1 244.1l52.2-67.9 7.1-8.8 5.5-5.7 3.3-6.5M2014.9 245.9l3.9-10.1 4.4-7.7 32.4-42.3 12.1-14.2 3.3-5.7 3.3-8.6M2031.4 238l3.3-8.3 3.9-6.8 20.8-27.1 11.6-13.9 3.3-5.5 3.3-7.9M2041.3 242.4l4.4-11.3 4.4-8.4 6.1-8.5 18.6-23 4.4-8 3.9-10.1M2149.1 169.9l3.3-5.8 2.2-1.7 2.2-.8 39.6-.5 1.7-1.1 2.1-3.1 3.9-9.5M2144.7 285.1l28.1-68.2 14.8-34.1 2.7-5 2.8-3.6 2.2-1.4 4.9-1.9 2.8-2.5 2.8-4.5 2.7-6.8M2191.4 213.7l3.4-8.8 2.7-5.2 3.3-3.9 6.6-4.3 3.3-3.3 3.9-6.8 3.2-8.5M2206.3 214l3.3-8.3 8.2-14.4 3.9-9.5M2216.8 213.1l8.8-22.6" stroke="#6c60ff" stroke-width="1.5" fill="none" opacity=".7"/>
<path d="M1368.1 541.7l76.4-449.1M1382.4 541.7l70.9-446.6M1419.2 541.7l50.6-293.7M1542.5 154.3l6-24 7.2-37.7M1423.7 541.7l16.5-84.8 31.8-177.6 3.3-14.9 3.4-11.1M1546.8 161.5l6.7-25.8 8.7-45.2M1458.8 541.7l40.2-234.8 6.6-34.1 6.1-22M1555.7 177.6l3.8-13.2 4.4-18.5 10.4-52.8M1533.1 541.7l4.4-13.8 3.8-15 9.9-49.5 64.4-370.7M1549 541.7l75.4-449.6M1555.7 541.7l46.1-265.5M1672.2 159.4l5.6-22.4 7.7-43.8M1585.9 531.2l5.5-18.5 6.6-30.9 30.2-170 5.6-23.4 7.1-23.5M1682.7 170.5l3.8-13.6 3.9-16.6 9.4-49.2M1623.8 535.6l5.5-18.7 6.1-28.1 34.6-197.6 6.1-29.9 4.9-18.2M1698.7 202.4l5.5-19.1 5.5-23.3 6.5-31.8 6.6-35.8M1635.4 541.7l43.4-246.7 7.2-34.7 6.6-22.8M1701.4 214l6.1-19.6 6.5-26.4 7.8-35.8 7.7-40.3M1643.1 541.7l29.1-171 16.6-91.4 7.1-30.2 12.6-38.1 7.2-26.1 9.3-41.6 10-50.8M1652.5 541.7l22-140.2 19.7-115.6 7.2-31.7 13.2-43 7.2-27.1 8.2-37 8.8-44.5M1706.3 541.7l44-278.1 2.2-13.1 2.3-6.9M1812 161.6l6-24.1 8.2-45.5M1732.8 541.7l24.2-163.4 14.2-91.6 9.4-52.3 3.9-16.9 3.3-11.3M1816.3 170.5l3.4-10.8 3.8-16.3 8.3-44.4M1739.9 541.7l48.4-278.1 7.7-39.2 5.5-20.2M1821.3 176.9l3.9-13 3.8-16.2 9.3-47.9M1765.2 541.7l32.5-206.2 12.6-76.6 7.2-36.8 15.3-64.9 10.5-51.8M1776.2 541.7l26.4-176.6 16.5-105.4 7.7-43.2 17.6-86.8 7.1-39.6M1783.9 541.7l43.4-254.1 34.2-195.7M1804.2 541.7l68.8-434.7M1829.5 541.7l41.8-267.9M1935.2 162.5l3.3-10.7 3.3-14.5 8.2-47.2M1833.4 541.7l40.2-226.4 5.5-27 4.9-19M1939 169.2l3.3-10.2 3.9-15.8 9.9-51.9M1863.7 541.7l26.9-162.4 11.6-66.3 9.3-46.6 3.3-13 3.9-12.2M1947.2 185.3l3.9-12 4.4-17.5 11.6-57.1M1874.7 541.7l23.1-143.7 15.4-91.9 7.6-39.7 6.7-24.4M1951.7 193.6l4.9-16 5.5-22.6 6.6-31.7 6.1-32.8M1882.9 541.7l38.5-237.5 7.7-39.9 3.3-13.2 3.3-10.2M1955.5 201.2l5.5-17.9 5.5-22.7 7.2-34.1 6.5-35.7M1886.8 541.7l44-245.7 6-29.9 5-18.5M1961.6 202.7l4.9-17.2 6.1-25.4 7.1-34.2 6.6-35.1M1908.2 541.7l18.1-116.1 18.8-113.8 7.1-37.9 6.6-24.9M1967.6 225.1l6.6-21.1 6.6-26.1 8.3-37.9 7.7-39.5M1963.2 541.7l48.4-309.8 6.1-33.6 4.9-20.4M2071 156.2l3.3-10.6 3.3-13.8 7.7-41.8M1977.5 541.7l35.7-218.9 10.5-61.1M2076.5 162.7l3.3-10.7 3.3-13.5 8.8-45.4M1981.9 541.7l15.4-82.1 28.6-165.9 4.9-22.7 6.1-20.5M2083.1 166.7l7.1-27.8 8.9-46.2M2013.8 541.7l38.5-248.7 8.3-46.4 6-25.1M2090.8 184.6l4.4-15.4 5-21.5 10.4-55.3M2091.3 541.7l50.6-302.5M2201.3 157.3l2.8-9.5 3.3-14.6 7.2-39.9M2108.9 541.7l35.3-217.3 4.4-25.8 2.2-8.8M2205.8 165.3l3.3-10.5 3.8-15.6 8.8-45.7M2144.2 541.7l46.1-272.3 8.9-45.4 3.2-13.4 3.4-10.5M2214.6 176.7l3.8-13.3 4.4-18.2 10.4-52.8" stroke="#ff5a64" stroke-width="1.85" stroke-dasharray="6.8 4" fill="none" opacity=".76"/>
<path d="M1367 541.7l63.8-439.4M1419.2 541.7l65.5-437.5M1425.8 541.7l44.6-284.1 1.6-8.1M1540.2 154.5l2.8-8.9 3.3-14.2 7.2-40.4M1429.7 541.7l16.5-91.8 27-163.5 3.3-16.1 3.8-13.6M1546.3 156.6l6-24.6 7.2-39.3M1473.7 541.7l21.5-145.6 12.6-82.1 7.7-42.2 3.3-14.2 3.3-11.4M1557.3 185.8l3.9-12.2 4.3-17.3 10.5-52.1M1493.5 541.7l37.4-239.1 8.8-48.1 3.3-14.6 3.3-11.7M1561.7 193.7l5-15.9 5.5-22.6 6.6-32 5.4-30.8M1546.3 541.7l73.7-443.7M1552.9 541.7l44.6-252.1 1.6-6.8M1673.9 149.8l4.9-19.6 5.5-28.2M1566.1 541.7l34.7-209.5 6-30.8 5.5-21.3M1676.1 163.3l3.3-10.3 3.8-15.5 8.8-45.1M1573.2 541.7l35.8-207 6.6-33.2 6.1-22.8M1681 169.2l3.9-12.4 4.4-17.9 9.4-47.4M1609 531.1l5-17.2 5.5-25.5 37.3-207.9 6.7-32.6 4.9-19M1690.4 181.3l8.3-30.9 9.8-48.1M1626.6 541.7l22.6-149.9 16.5-105 7.6-41.5 2.8-11.2 3.3-10.3M1694.8 187.9l5-17.4 5.4-23.4 6.1-29.4 4.4-24.7M1632.1 541.7l40.7-235.5 8.8-48.1 6.6-29.1 11.6-37.5 6.5-25 7.7-34.7 7.2-37.3M1651.3 541.7l41.3-240.1 37.9-210.4M1662.3 541.7l36.9-220.5 39.6-230.3M1675 541.7l33.5-222.9 36.9-227.6M1733.8 541.7l38.5-226.5 8.9-43.3 7.6-28M1817.5 175.8l4.3-15.4 4.4-18.5 10-50.7M1756.4 535.7l6.1-20.9 6.5-31.7 32.5-183.9 9.9-52.3 6.1-26.4 11.5-41.7 5.5-22 6.6-30 6.6-33.8M1809.2 541.7l64.4-439.3M1814.7 541.7l33.5-193.7 43.5-257M1834.5 541.7l6.6-21.7 6.1-27.2 9.3-50.7 20.3-119 3.9-17.8 4.4-15.4M1940.1 162.6l3.3-11 3.8-16 8.3-43M1899.4 530.3l4.9-17.9 6.1-28.5 42.9-233.2 24.8-118.3 7.7-39.9M1903.2 535.5l6.1-21.1 7.2-32.8 41.7-227.6 30.9-150.9M1924.2 541.7l40.1-237 36.9-212.2M1936.8 541.7l35.8-234.3 35.2-215.9M1949.5 541.7l47.8-288 1.1-5.5 1.7-4.1M2068.2 155.2l2.8-8.5 3.3-13.3 7.7-40.5M1966.5 541.7l35.2-231.1 7.1-39.8 6.1-24.9M2074.3 157.3l6-23.6 7.8-40.5M1980.8 541.7l36.9-237.5 7.6-42.4 6.1-23.8M2077.6 168.5l3.8-12.7 3.9-16.1 9.4-49.1M1992.9 541.7l23.7-162.3 13.2-86.8 4.9-28.1 6.6-22.1M2083.1 173.1l7.1-27.3 8.9-45.6M2091.9 541.7l50.6-343.3 3.3-17.5 3.3-11M2204.1 147.4l4.4-17.1 4.4-22.8M2102.9 541.7l40.2-248.9 1.6-7.7M2208.5 157.1l3.3-11.1 3.3-14.1 7.7-41.4M2134.2 541.7l24.2-151.9 16.5-99.6 8.9-46.6 3.8-16.6 3.8-13.3M2217.8 172.9l7.2-27.1 8.8-43.4M2153.5 541.7l39.6-260.3 7.7-44.5 5.5-22.9M2221.7 181.8l4.4-14.7 4.4-18.3 10.4-53.7M2159.6 541.7l45.1-275.5 6.5-33.9 5.6-19.2M2225.6 190.5l4.9-15.9 4.9-19.7 11-54.9" stroke="#6c60ff" stroke-width="1.85" stroke-dasharray="6.8 4" fill="none" opacity=".76"/>
</g>
<path d="M1367.0 547.3H2247.8" stroke="#7f7fff" stroke-width="2.4" fill="none"/>
<path d="M1388.0 543.2H2247.8" stroke="#ff6a6a" stroke-width="2.4" fill="none"/>
<path d="M1321.5 571.0V67.2" stroke="#cfcfcf" stroke-width="2.2" fill="none"/>
<path d="M1320.5 67.2H2292.5" stroke="#adadad" stroke-width="2.2" fill="none"/>
<path d="M2291.5 66.2V571.0M1320.5 571.0H2292.5" stroke="#6e6e6e" stroke-width="2.1" fill="none"/>
<path d="M1367.0 570.0v4.5M1477.0 570.0v4.5M1587.0 570.0v4.5M1697.0 570.0v4.5M1807.0 570.0v4.5M1917.0 570.0v4.5M2027.0 570.0v4.5M2137.0 570.0v4.5M2247.0 570.0v4.5M1322.5 90.0h-4.5M1322.5 154.5h-4.5M1322.5 219.1h-4.5M1322.5 283.6h-4.5M1322.5 348.1h-4.5M1322.5 412.6h-4.5M1322.5 477.2h-4.5M1322.5 541.7h-4.5" stroke="#6a6a6a" stroke-width="2" fill="none"/>
<text transform="translate(1258.80,52.10) scale(1.1216,1)" font-size="46.00">After-guidance permeability-40% Flow-1100veh/h</text>
<text transform="translate(1186.43,233.90) rotate(90) scale(0.3984,0.4154)" font-size="100">Location(m)</text>
<text transform="translate(1705.30,671.30) scale(1.0505,1)" font-size="42.00">Time(s)</text>
<text transform="translate(1238.65,90.23) scale(1.0890,1)" font-size="35.20">350</text>
<text transform="translate(1238.65,156.33) scale(1.0890,1)" font-size="35.20">300</text>
<text transform="translate(1238.65,222.03) scale(1.0890,1)" font-size="35.20">250</text>
<text transform="translate(1238.65,287.83) scale(1.0890,1)" font-size="35.20">200</text>
<text transform="translate(1238.65,354.63) scale(1.0890,1)" font-size="35.20">150</text>
<text transform="translate(1238.65,421.23) scale(1.0890,1)" font-size="35.20">100</text>
<text transform="translate(1248.23,487.13) scale(1.0890,1)" font-size="35.20">50</text>
<text transform="translate(1257.82,553.73) scale(1.0890,1)" font-size="35.20">0</text>
<text transform="translate(1363.42,623.53) scale(1.0890,1)" font-size="35.20">0</text>
<text transform="translate(1461.83,623.53) scale(1.0890,1)" font-size="35.20">50</text>
<text transform="translate(1559.45,623.53) scale(1.0890,1)" font-size="35.20">100</text>
<text transform="translate(1676.55,623.53) scale(1.0890,1)" font-size="35.20">150</text>
<text transform="translate(1772.35,623.53) scale(1.0890,1)" font-size="35.20">200</text>
<text transform="translate(1889.45,623.53) scale(1.0890,1)" font-size="35.20">250</text>
<text transform="translate(1986.45,623.53) scale(1.0890,1)" font-size="35.20">300</text>
<text transform="translate(2103.45,623.53) scale(1.0890,1)" font-size="35.20">350</text>
<text transform="translate(2200.45,623.53) scale(1.0890,1)" font-size="35.20">400</text>
</g>
<g>
<path d="M233.5 765.8V1254.3M342.0 765.8V1254.3M450.6 765.8V1254.3M559.1 765.8V1254.3M667.6 765.8V1254.3M776.1 765.8V1254.3M884.6 765.8V1254.3M993.2 765.8V1254.3M1101.7 765.8V1254.3" stroke="#d9d9d9" stroke-width="1.5" fill="none"/>
<path d="M190.0 785.4H1142.0M190.0 848.3H1142.0M190.0 911.2H1142.0M190.0 974.1H1142.0M190.0 1037.0H1142.0M190.0 1099.9H1142.0M190.0 1162.8H1142.0M190.0 1225.7H1142.0" stroke="#cacaca" stroke-width="1.6" fill="none"/>
<g>
<path d="M237.8 1225.7l3.8-7.5 4.4-14.2 4.3-19.5 4.9-26.6 17.4-107.1 39.6-254M274.7 1225.7l2.8-7.3 3.2-12.6 7.1-37.5 60.7-381.4M340.9 1225.7l2.8-6.3 3.2-10.6 7.1-32.4 35.8-211.1 9.2-47.9 3.3-12.5 3.2-8.5 2.7-4.1 5.5-5.1 3.2-4.3 3.3-6.3 3.2-8.6 3.8-13.2 3.8-15.9 9.2-47M349.6 1225.7l2.7-7.1 3.3-11.4 7-33.2 35.3-205.7 8.2-42.6 2.7-10.6 2.7-7.8 2.7-5.3 8.7-13.5 3.2-7.4 3.3-9.4 7-27.3 8.7-42.9M355 1225.7l3.3-3.8 3.3-8.1 3.2-12 3.8-18 34.7-204.7 8.2-43.5 2.7-11.1 2.7-8.4 2.7-6.2 8.7-16.5 6.5-18.7 8.7-35.9 8.7-45.3M361 1225.7l3.3-3.4 3.2-6.5 3.3-10 3.2-13.1 8.7-44.3 29.3-166.2 7.1-37.3 5.9-24.3 11.4-32.1 6-21 8.7-38.5 8.1-42.8M390.3 1225.7l2.7-6.7 2.7-9.3 6.6-30.7 38.5-230.5 28.2-148.5M406.6 1225.7l3.3-6.2 3.2-10.4 7.6-37 64-385.2M427.8 1225.7l1.6-1.1 1.6-2 3.8-8.8 3.8-14.2 3.8-18.7 8.2-49.4 30.3-199.5 5.5-31 3.8-16.3 3.8-9.7 2.1-2.7 2.2-1.4 4.9-.7 28.7-.1 2.8-.8 2.7-2.5 3.8-7.2 4.3-13.9 4.4-19.3 5.4-29.5M492.3 1225.7l2.7-7 3.3-11.6 7.1-35.1 29.3-188.7 7-39.6 2.7-10.9 2.7-7.6 2.8-4.8 5.9-7.4 3.3-5.2 3.8-8.7 3.8-11.7 9.2-38.8 11.9-62.5M500.5 1225.7l2.7-6.5 2.7-9.4 6.5-32 29.3-183.4 7.1-39.8 2.7-11.7 2.7-8.7 11.4-23.8 6.5-20.2 8.7-37.4 10.3-53M537.4 1225.7l3.2-9.2 3.8-14.8 8.2-42.9 59.1-371.5M560.2 1225.7l3.2-5.5 3.8-11.1 3.8-15.7 3.8-19.6 8.7-52.7 28.8-186.9 6.5-37.2 4.8-22.1 3.8-10.5 1.7-2.4 2.1-1.6 2.8-.6 26.5 0 1.7-.8 2.1-2.5 3.8-8.3 3.8-13.3 3.8-17.6 4.4-24.1M639.9 1225.7l3.3-8.1 3.2-11.8 7.1-35.2 28.8-176.8 32-190.8M658.4 1225.7l3.8-9.2 3.8-13.5 8.7-43 61.3-365.1M664.3 1225.7l3.8-8.1 3.8-12.3 4.4-18.6 6-29.9 29.3-161.2 36.3-207.2M692.6 1225.7l3.2-5.8 3.3-10.2 6.5-31.6 8.1-51.7 27.7-187.8 6.5-38.7 4.9-22.7 3.8-11 2.2-3.4 2.1-1.7 4.9-1.1 25-.1 1.6-.9 1.6-2 3.3-7.3 3.8-13.8 3.8-18.9 4.9-29.5M700.2 1225.7l2.7-4.4 3.2-9.1 6.5-29.1 40.2-239.1 6.5-36.3 4.3-19.9 3.8-11.3 1.7-2.8 2.1-2.1 3.8-1.1 18.5-.2 2.7-1.6 2.7-3.7 3.3-7.8 3.8-13.6 9.2-47.5M709.4 1225.7l2.7-4.9 3.3-9.7 6.5-30.2 39-236 5.5-30.5 3.8-17.4 3.2-9.9 1.6-2.9 2.2-2.3 3.8-1.2 13-.1 3.3-.6 3.2-2.5 3.3-5.3 3.8-10.2 4.3-16.9 5.5-26.8 5.4-31M741.9 1225.7l2.8-6.8 3.2-11.5 7.1-35.1 7.6-47.5 22.7-151.7 8.2-46.2 3.2-13 2.8-7.2 2.1-3.7 6-6.3 3.3-4.8 3.2-7.1 3.3-9.7 7.6-32.1 9.7-54.4M752.2 1225.7l2.8-6.5 2.7-8.7 5.4-23.2 7.6-40 34.2-191.7 7-32.7 16.3-65.4 13-65.7M757.1 1225.7l3.8-7.9 3.3-9.5 3.8-14.2 4.3-19.6 41.3-220.3 23.3-108.2 11.4-57.7M763.1 1225.7l3.8-7.2 3.3-9.5 8.1-34.5 42.3-222.3 24.4-117.8 9.3-47.1M779.9 1225.7l3.3-5.4 3.2-9.4 3.3-12.9 4.3-21.1 69.5-388.7M788.6 1225.7l3.3-4 3.2-8.1 3.8-14.4 3.8-18.7 34.2-203.7 33.1-189M858.6 1225.7l2.7-6.6 3.3-11 6.5-30.4 34.7-199.8 12.5-65.5 3.2-13.5 2.8-8.8 2.7-6.3 7.6-14.3 5.4-16 6.5-27.4 7.6-39.7M873.3 1225.7l3.2-7.1 3.3-10.8 7-34.1 33.7-210.5 8.1-46.6 4.9-21.6 9.2-31.2 4.9-18.9 5.4-24.7 6-30.9M914.5 1225.7l2.2-2.8 2.1-4.3 4.4-13.2 4.3-18.8 4.9-26.5 12.5-79.7 42.3-284M928.6 1225.7l3.3-6.4 3.8-12.1 4.3-18.8 4.9-25 29.3-165.1 36.3-210.6M977.4 1225.7l3.3-4.2 3.3-8.3 3.2-12.2 3.8-18.4 36.9-224.7 7.1-40.3 4.8-24.3 3.3-12.4 3.3-7.7 2.7-2.9 5.4-1.3 2.7-1.7 3.3-4.6 2.7-6.3 3.2-10.6 3.3-13.6 7.6-39.5M986.7 1225.7l3.2-7 3.3-10.4 7.6-34.8 38.5-226 8.1-43.5 2.8-10.8 2.7-7.4 2.1-3.4 6-5.7 2.7-3.6 3.3-6.6 2.7-7.6 7-28.1 8.2-42.8M1015.4 1225.7l3.3-4.9 3.8-10.4 3.2-12.7 3.8-18.7 7.6-45.8 22.3-149 7.6-47.5 6.5-35.1 13.5-63.3 7.6-39.1" stroke="#ff5a64" stroke-width="1.4" fill="none" opacity=".66"/>
<path d="M233.5 1225.7l3.3-6 3.8-12.5 3.2-14.9 4.4-24.2 23.3-149.1 34.7-227.7M286.1 1225.7l3.8-6.7 4.4-14.1 3.8-17.2 4.9-27.4 56.4-373.8M329 1225.7l3.3-4 3.2-8.4 3.3-12.4 3.2-15.7 38-227.1 6.5-36.2 4.9-23.3 3.8-13.4 3.3-6.8 2.7-2.6 6.5-2.2 2.7-1.9 3.3-4.4 3.2-7.1 3.8-11.7 3.8-15.1 9.2-46.9M336.1 1225.7l3.2-6.9 3.3-10.1 7-31.3 41.8-230.2 8.1-40.9 2.8-10 2.7-6.7 2.7-3.8 5.4-4.2 2.7-3.1 3.3-5.7 3.2-8.4 3.8-12.9 3.8-15.6 9.8-48.5M349.6 1225.7l3.8-4.9 4.4-11.2 3.8-14.5 4.3-21 8.7-50.9 26.6-168.4 7-38.8 4.9-17.2 10.3-19.5 5.4-15.2 7.1-28.2 8.1-40.7M387.6 1225.7l2.7-7.1 3.3-12.1 7-36.6 60.8-374.3M393 1225.7l3.3-6.5 3.8-12.1 3.8-16.4 4.9-25.6 62.4-377.1M402.3 1225.7l3.2-9.1 3.8-14.7 8.7-45 60.8-368.2M477.7 1225.7l2.7-4.8 3.3-9.3 3.2-13.1 3.8-18.9 33.1-198.4 11.4-62.5 6-24.4 9.7-26.9 4.9-16.6 6-26.3 6.5-34.1M520.5 1225.7l3.8-8.8 3.8-13.2 4.4-19.9 4.9-27 55.9-360.6M547.1 1225.7l3.3-4.6 3.8-10 3.8-14.7 4.3-21.2 10.9-63 35.3-216.2 2.7-14.3 3.2-13.1 3.8-9.4 2.2-2.6 2.2-1.2 3.8-.5 33.6 0 1.6-.5 2.2-2 3.8-7.6 3.8-12.4 4.3-19.4 4.9-26.5M566.1 1225.7l2.7-7.2 3.3-11.5 6.5-30.4 42.3-241.2 5.5-28.3 4.3-17.9 3.8-9.5 1.6-2.2 2.2-1.6 3.8-.8 24.4-.3 3.8-2.1 3.3-4.1 4.3-9.8 4.9-16.8 5.4-24.5 6-31.8M573.2 1225.7l3.2-3.8 3.8-9.2 3.3-12 3.8-18 7-40.7 31.5-194.7 5.4-30.2 4.4-19 3.2-8.6 1.7-2.4 2.1-1.7 3.3-.7 23.9-.4 3.8-2 3.8-4.9 4.9-11.4 4.8-17.2 5.5-24.7 7-37.8M695.8 1225.7l2.7-6 3.3-10.7 7-33.8 37.5-234.5 7.6-43.2 5.4-25.1 3.8-11.3 2.2-3.5 2.1-1.8 3.8-.9 19.6-.1 1.6-.8 2.2-2.5 3.2-7.1 3.8-13 3.8-17.4 4.4-23.9M708.3 1225.7l2.7-2.7 3.3-7.2 3.2-11.4 3.8-17.7 41.3-240.3 6.5-35.8 4.9-22.9 3.8-12.9 3.2-6.3 1.6-1.5 2.2-1.1 8.1-.6 2.2-.7 3.3-3.3 2.7-5.1 3.2-9.3 3.8-14.7 8.7-44.3M717.5 1225.7l2.7-4.8 3.3-9.3 3.2-12.9 3.8-18.6 38.6-229 5.9-33.3 4.4-20.6 3.2-11.2 3.3-6.6 3.8-3.1 7-1.3 3.3-1.8 3.3-4 3.2-6.9 3.8-11.7 3.8-15.4 9.2-48M770.2 1225.7l1.6-1.2 2.2-3.2 3.8-10.1 3.8-15.3 4.8-25.8 57.6-372.9M810.9 1225.7l1.6-1.1 1.6-2.2 3.3-7.5 3.2-11.6 3.8-17.6 9.2-51.6 36.4-214.2 6-31 4.9-20.1 3.7-9.4 2.2-2.7 2.2-1.2 3.8-.6 27.7 0 1.6-.5 1.6-1.6 3.3-6.4 3.8-12.7 3.8-17.3 5.4-29.4M820.6 1225.7l2.7-5.7 3.3-10 7-32.3 40.7-244.7 6.6-35.8 4.3-18.5 3.8-9.4 1.6-2 2.2-1.3 2.7-.4 27.7-.1 2.7-1 2.7-2.9 3.8-7.8 4.3-14.6 4.4-19.8 4.9-26.7M837.4 1225.7l2.8-5.8 3.2-10.3 6.5-29.5 42.3-237.7 4.9-25.4 3.8-16.3 3.3-9.4 1.6-2.8 2.2-2.2 3.2-.9 19-.4 3.8-2.3 3.8-5.5 4.4-10.9 4.9-18 5.9-27.8 6.5-34.5M842.9 1225.7l3.2-7.5 3.3-10 7.6-32.5 13-67.8 29.8-162.5 4.4-21.7 3.2-13.4 3.3-8.9 3.3-4.2 3.8-1.3 13-.2 3.2-.6 4.4-3.1 3.8-5.9 4.3-11.1 4.9-17.7 6-26.8 7.6-38.6M932.9 1225.7l3.3-6.3 3.8-11.8 7.6-35.3 51-299 2.2-9.3 2.7-6 1.6-1.9 2.2-1.1 43.4-.2 1.6-.5 1.6-1.4 3.8-6.7 4.4-13.6 4.3-19 4.9-25.7M959 1225.7l2.7-4.9 2.7-8 6.5-29.7 40.2-240.8 6-32.4 4.3-18.2 3.8-9.9 2.2-3 2.1-1.5 4.9-1 22.3-.3 3.8-1.6 3.2-3.7 4.4-9.1 4.8-16.2 5.5-24 5.4-28.6M966 1225.7l3.3-4.7 3.8-10 3.8-14.5 3.8-18.3 8.7-49.6 29.8-181.8 5.4-29.6 3.8-16.1 3.8-9.9 1.7-2.4 2.1-1.8 4.4-1.1 16.8-.1 3.8-.6 4.3-2.6 3.8-5.2 4.9-11.5 5.5-19.4 5.9-27.6 6-32.8M990.5 1225.7l4.8-15.4 6-28.2 35.8-205.8 6.5-34.8 4.9-22.6 3.3-11.5 3.2-7.2 3.3-3.1 7-1.9 3.8-2.7 3.8-5.2 3.8-8.4 4.4-13.5 4.9-19.5 11.4-56.8M1003.5 1225.7l1.6-1.1 2.2-2.9 3.8-9.1 3.8-14.1 3.8-18.5 8.1-49.3 24.4-162.1 7.6-41.8 2.2-8.1 2.7-7.1 2.7-4.1 6.5-6 3.3-4.3 3.8-7.5 3.3-8.9 4.3-15.3 4.9-21 10.8-56M1029.5 1225.7l2.7-6.3 3.3-10.8 7.1-32.8 32-186.1 36.9-202.5" stroke="#6c60ff" stroke-width="1.4" fill="none" opacity=".66"/>
<path d="M348.5 869.6l2.7-6.4 2.2-2.3 2.2-.8 45-.4 2.2-1.5 2.2-3 4.3-10.5M371.9 881l3.2-7 1.7-1.8 2.1-1.4 4.4-.6 18.4-.1 3.3-1 2.1-1.9 2.2-3.2 3.8-8.8M386.5 891l2.7-6.5 3.3-3.7 3.2-.9 9.8-.3 2.2-.7 2.2-1.5 3.8-5.2 3.2-7.5M480.9 869.3l3.3-6.7 1.6-1.6 2.2-.9 42.9-.4 1.6-1.3 1.6-2.3 3.3-7.7M504.8 891.7l3.3-7.3 1.6-2 2.2-1.4 3.8-.6 18.4-.1 3.8-1 2.2-1.6 2.2-2.9 3.8-8M513.5 902.1l3.3-7.6 3.2-3 2.7-.5 15.2-.1 4.4-1.8 4.3-5.4 3.8-8.7M529.8 909.1l2.1-4.6 2.8-3 2.1-.9 6.5-1 4.4-3.3 4.3-7.4 3.8-10.2M535.7 919.9l2.2-4.8 2.2-2.9 2.2-1.5 5.9-2.6 3.8-3.5 3.8-6.4 3.8-9.7M564 933.3l6.5-17.9M635.6 880.6l3.2-6.8 1.7-1.8 2.1-1.3 3.8-.5 15.8-.1 3.2-1 3.8-4.2 3.3-6.9M654 891.4l2.7-6.4 2.8-3.4 2.1-1.1 6-1.1 3.8-2.8 3.3-5 3.2-7.8M662.2 901.9l2.1-5.4 2.2-3.3 7.1-5.2 3.8-4.5 3.2-6.4 3.3-8.9M671.9 908.1l2.8-5.7 7.6-11.8 4.8-11.6M781.6 902.8l2.1-5.9 2.7-4.2 3.3-1.8 8.7-.5 3.8-1.5 3.8-4.3 3.8-7.9M880.9 872.5l3.2-7.8 1.6-2.3 2.2-1.6 4.3-.8 28.8-.1 2.7-2.2 2.7-5.2M890.1 880.4l3.2-6.6 1.7-1.7 2.1-1.1 4.4-.6 20.6-.1 2.7-.6 3.3-3.1 3.2-6.5M921.5 1225.7l4.4-11.2M1013.3 872.3l3.2-7.7 1.6-2.2 2.2-1.6 4.3-.8 27.2-.2 3.2-3.1 3.8-8.1M1057.2 900.9l3.3-7.5 8.6-13.8 5.5-13.6" stroke="#ff5a64" stroke-width="1.5" fill="none" opacity=".7"/>
<path d="M364.3 868.4l3.2-8 1.7-2.4 2.1-1.9 4.9-1.1 24.4-.3 3.3-2.9 3.8-7.8M373.5 875.1l3.3-7.5 3.2-2.9 3.3-.6 18.4 0 3.3-.8 3.8-3.9 3.8-7.8M422.9 899.6l6.5-18.2M407.1 1225.7l2.2-6.3M489.6 862.9l2.7-5.2 1.7-1.6 2.1-.9 34.8-.5 1.6-1.3 1.6-2.5 3.3-8.1M501.6 878.1l3.2-7.8 2.2-2.8 2.2-1.4 4.8-.9 17.9-.2 3.3-1.2 3.8-5 3.8-9.7M510.2 883.8l3.3-5.9 3.3-2.4 3.7-.7 14.2-.2 4.3-1.5 2.2-2.1 2.1-3.2 3.8-8.6M620.4 876.6l3.2-7.4 2.2-2.4 2.2-1.1 4.3-.5 29.3 0 2.7-.6 2.2-1.5 2.2-2.8 3.8-8.4M581.3 1225.7l2.2-6.2M644.3 903.8l3.2-6.4 3.3-2.4 3.8-.6 16.3-.1 4.8-1.6 2.8-2.4 2.1-2.9 4.9-10.6M585.7 1225.7l4.3-10.5M650.8 913.2l2.7-5.3 3.2-2.6 3.3-.6 14.7-.2 4.8-1.8 2.8-2.4 2.7-3.8 4.8-10.6M656.7 923.8l2.8-5.5 3.2-2.9 3.3-.7 12.5-.5 2.7-.8 2.7-1.7 4.9-6 4.8-10.7M660.5 934.6l2.8-5.8 3.2-3 3.3-.8 11.4-.2 3.2-1.1 2.7-1.7 2.7-2.9 2.8-4.2 4.8-11.1M678.5 948l2.1-6 2.7-4.8 8.7-7.6 3.8-4.9 3.3-6.3 3.2-8.3M696.9 941.9l8.7-22.9M795.7 893.5l3.2-6.4 7.6-9 4.4-9.2M893.3 882.3l2.7-4.5 3.3-1.9 25.5-.2 3.3-.6 2.1-1.5 2.2-2.6 4.3-9.2M918.8 919l2.7-6.8 3.3-4.2 3.3-1.6 9.2-1.3 4.3-2.9 3.8-5.5 3.8-8.6M926.4 925l2.2-4.7 2.7-3.3 2.7-1.2 7.1-1.5 2.7-1.6 2.2-2.1 4.3-6.9 4.3-10.9M942.2 934.9l3.2-7.9 9.2-16.1 4.9-12.5M1009.5 877.2l3.2-7.7 2.2-2.6 2.2-1.1 35.2-.4 3.3-.6 2.1-1.5 2.2-2.8 3.8-8" stroke="#6c60ff" stroke-width="1.5" fill="none" opacity=".7"/>
<path d="M260.1 1225.7l62.9-431.4M269.3 1225.7l71.6-440M285.6 1225.7l62.9-356.1M409.3 844.7l5.4-20.7 7.1-35.7M313.3 1225.7l43.4-270.1 9.2-50.8 3.3-14.5 2.7-9.3M413.1 855.2l6.5-24.1 8.7-43.6M334.4 1225.7l39.6-269.6 7.1-42 5.4-23.1M416.9 864.7l3.3-10.3 3.8-15.2 8.1-40.8M382.7 1225.7l46.1-261.4 8.2-40.8 18.4-84.7 8.7-43.6M420.2 1225.7l57.5-342.9 3.2-13.5M537.4 848.4l5.4-21.5 6.5-35.6M448.4 1225.7l44.5-276 7-38.6 4.9-19.4M546.1 866.8l3.2-10.2 3.8-15.4 9.2-48.4M454.9 1225.7l48.8-277.9 5.5-28.3 4.3-17.4M550.4 875l3.8-12.4 3.8-15.7 10.3-52.2M473.3 1225.7l44.5-262.9 7.1-36.1 4.9-17.6M555.8 878.7l3.8-13.6 4.4-18.7 11.4-58M479.3 1225.7l46.1-259.8 6-30.2 4.3-15.8M559.6 888.5l4.4-14.9 4.8-20.6 13.1-65.6M509.7 1225.7l43.4-247.1 5.4-26.3 5.5-19M570.5 915.4l5.9-19.3 6.6-26.5 8.6-41.3 7.6-41M570.5 1225.7l5.9-25.3 7.6-39.2 42.4-240.2 5.4-26.7 3.8-13.7M672.5 858l3.2-10.1 3.3-12.9 8.1-41M595.4 1225.7l45.1-269.5 8.1-43.3 5.4-21.5M677.9 863.8l3.8-12.6 3.8-15.9 9.2-47.1M603.6 1225.7l47.7-273 6.5-33.9 4.4-16.9M683.9 868.2l3.8-13.5 4.3-18.6 9.8-49.7M615.5 1225.7l45-266.6 6.6-33.8 4.8-17.2M687.1 879l3.8-12.4 4.4-17.4 10.8-52.7M731.6 1225.7l39.1-265.3 6-36.1 4.9-21.5M809.8 876.7l3.8-12 4.3-18.2 10.9-59.2M806 1225.7l75.4-437.7M817.9 1225.7l51.6-299.9 6.5-33.8 4.9-19.5M926.4 852.5l2.7-8.3 2.8-11 7-36.9M831.5 1225.7l46.1-284.6 7.6-41.9 4.9-18.8M931.3 860.1l2.7-8.2 3.3-12.8 8.1-42M889.5 1225.7l46.2-286.2 7.6-41.4 19.5-97.9M925.9 1214.5l3.8-12.9 3.8-16.2 9.8-50.7 24.4-139.7 35.2-206.8M954.6 1225.7l46.2-292.3 7-39 5.5-22.1M1058.8 848.6l2.7-8.8 3.3-13.4 7.6-41M994.3 1225.7l7-25.9 7.6-36.2 11.4-62.3 28.8-164.7 4.3-21.8 3.8-13.9M1074.6 866l7.6-29.3 8.6-44.4M1042 1225.7l33.1-226 30.4-201.2" stroke="#ff5a64" stroke-width="1.85" stroke-dasharray="6.8 4" fill="none" opacity=".76"/>
<path d="M246.5 1225.7l67.3-437.2M261.7 1225.7l75.4-438.1M299.2 1225.7l52-297 7.6-38.9 5.5-21.4M407.7 844l4.9-16.6 5.9-28.4M312.7 1225.7l47.2-283 8.2-44.8 5.4-22.8M412.6 851.6l5.9-20.5 6.5-31.2M366.4 1225.7l44.5-272.6 6-31.4 6-22.1M429.4 881.4l5.4-17.7 4.9-19.7 6-28 5.4-29M409.3 1219.4l3.8-12.4 4.3-17.9 12-60.1 28.2-155.2 33.1-187.9M428.8 1225.7l50-313.1 5.9-31.9 4.9-17.8M537.4 842.8l4.9-19.9 6.5-36.6M447.3 1225.7l40.7-275.8 8.1-48.7 5.5-23.1M542.8 849.1l6-24.6 6.5-36.4M451.6 1225.7l48.3-295.1 6-31.5 4.3-15.3M547.1 859.2l3.3-10.6 3.8-15.6 8.7-46.5M502.6 1225.7l41.3-246.4 34.2-193.1M536.8 1225.7l67.3-440M543.3 1225.7l68.4-440.1M561.8 1225.7l49.4-304.4 5.4-29.6 3.8-15.1M672.5 851.9l6-22.2 7-36.5M583.5 1219.5l6-21.3 6.5-31.1 39.6-225 4.9-24.5 3.8-13.8M685.5 876.8l4.3-14 4.4-17.7 11.4-57.7M590 1215.2l6-20 7-31.9 12-63 27.6-153.2 4.4-20.9 3.8-13M689.8 885.9l4.9-15.7 4.9-20 12.5-62.8M598.1 1225.7l50-265.4 4.8-23.3 3.8-13.2M693.6 895l4.9-15.5 6-24 7.1-33 7-36.4M610.6 1225.7l15.2-98.2 17.9-108.1 10.9-60.6 3.2-15 2.7-9.2M697.4 903.8l4.9-15.8 5.5-22 14.6-71.9M632.9 1225.7l33.1-215.1 7-39.8 5.5-22.8M702.3 910.1l4.9-16.1 6-24.5 8.1-38.4 7.1-37M647 1225.7l36.3-223.1 7.1-36.6 3.2-13.4 3.3-10.7M705.6 919l6.5-21.3 6.5-26.7 9.2-43.6 7.6-40.5M664.3 1225.7l26.6-178.7 11.4-71 7.6-39.5 20.6-94.7 10.4-53.8M677.9 1225.7l36.4-227.7 35.2-210M743.6 1225.7l40.1-272.5 6.5-38.3 2.7-12.4 2.8-9M810.9 868.9l3.8-12 3.7-15.6 8.7-44.7M792.4 1225.7l68.9-428.9M828.2 1225.7l5.4-20.9 6.6-31.9 43.9-251 5.4-27.1 3.8-12.5M936.7 861.8l3.3-10.5 3.3-13.3 8.6-44.8M862.4 1225.7l45.6-256.8 6.5-33.2 4.3-16.7M949.2 888.1l4.4-13.7 5.4-21.8 7.6-35.2 6-30.9M874.3 1225.7l40.2-244.1 7-38.1 4.9-18.5M954.6 892.8l4.9-16.8 5.5-22.8 13.5-67.5M896.6 1225.7l33.6-231.4 6.5-37.6 5.5-21.8M959.5 898.4l4.4-14.7 5.4-22.6 13.6-67.2M907.4 1225.7l31-197.1 10.3-61.4 7-33.3 11.4-41.3 6-24.5 8.1-38.1 7.1-36.9M955.2 1225.7l44.5-298.1 5.4-31.9 4.4-18.5M1063.7 852.5l3.3-10.1 3.2-13.1 7.1-36M1040.9 1225.7l40.7-234.7 35.8-200.1" stroke="#6c60ff" stroke-width="1.85" stroke-dasharray="6.8 4" fill="none" opacity=".76"/>
</g>
<path d="M234.0 1230.5H1086.5" stroke="#7f7fff" stroke-width="2.4" fill="none"/>
<path d="M242.5 1227.0H1097.0" stroke="#ff6a6a" stroke-width="2.4" fill="none"/>
<path d="M190.0 1254.3V765.8" stroke="#cfcfcf" stroke-width="2.2" fill="none"/>
<path d="M189.0 765.8H1143.0" stroke="#adadad" stroke-width="2.2" fill="none"/>
<path d="M1142.0 764.8V1254.3M189.0 1254.3H1143.0" stroke="#6e6e6e" stroke-width="2.1" fill="none"/>
<path d="M233.5 1253.3v4.5M342.0 1253.3v4.5M450.6 1253.3v4.5M559.1 1253.3v4.5M667.6 1253.3v4.5M776.1 1253.3v4.5M884.6 1253.3v4.5M993.2 1253.3v4.5M1101.7 1253.3v4.5M191.0 785.4h-4.5M191.0 848.3h-4.5M191.0 911.2h-4.5M191.0 974.1h-4.5M191.0 1037.0h-4.5M191.0 1099.9h-4.5M191.0 1162.8h-4.5M191.0 1225.7h-4.5" stroke="#6a6a6a" stroke-width="2" fill="none"/>
<text transform="translate(135.10,744.60) scale(1.1244,1)" font-size="46.00">Pre-guidance permeability-40% Flow-1400veh/h</text>
<text transform="translate(48.59,924.90) rotate(90) scale(0.3984,0.4319)" font-size="100">Location(m)</text>
<text transform="translate(616.30,1351.30) scale(1.0551,1)" font-size="42.00">Time(s)</text>
<text transform="translate(113.35,814.03) scale(1.0890,1)" font-size="35.20">350</text>
<text transform="translate(113.35,875.03) scale(1.0890,1)" font-size="35.20">300</text>
<text transform="translate(113.35,935.33) scale(1.0890,1)" font-size="35.20">250</text>
<text transform="translate(113.35,995.23) scale(1.0890,1)" font-size="35.20">200</text>
<text transform="translate(113.35,1055.73) scale(1.0890,1)" font-size="35.20">150</text>
<text transform="translate(113.35,1116.13) scale(1.0890,1)" font-size="35.20">100</text>
<text transform="translate(122.93,1177.03) scale(1.0890,1)" font-size="35.20">50</text>
<text transform="translate(132.52,1236.93) scale(1.0890,1)" font-size="35.20">0</text>
<text transform="translate(223.22,1301.13) scale(1.0890,1)" font-size="35.20">0</text>
<text transform="translate(320.93,1301.13) scale(1.0890,1)" font-size="35.20">50</text>
<text transform="translate(419.25,1301.13) scale(1.0890,1)" font-size="35.20">100</text>
<text transform="translate(536.25,1301.13) scale(1.0890,1)" font-size="35.20">150</text>
<text transform="translate(652.05,1301.13) scale(1.0890,1)" font-size="35.20">200</text>
<text transform="translate(769.15,1301.13) scale(1.0890,1)" font-size="35.20">250</text>
<text transform="translate(885.55,1301.13) scale(1.0890,1)" font-size="35.20">300</text>
<text transform="translate(982.55,1301.13) scale(1.0890,1)" font-size="35.20">350</text>
<text transform="translate(1080.15,1301.13) scale(1.0890,1)" font-size="35.20">400</text>
</g>
<g>
<path d="M1398.8 756.0V1253.0M1505.8 756.0V1253.0M1612.8 756.0V1253.0M1719.8 756.0V1253.0M1826.8 756.0V1253.0M1933.8 756.0V1253.0M2040.8 756.0V1253.0M2147.8 756.0V1253.0M2254.8 756.0V1253.0" stroke="#d9d9d9" stroke-width="1.5" fill="none"/>
<path d="M1355.0 778.2H2311.3M1355.0 842.0H2311.3M1355.0 905.8H2311.3M1355.0 969.6H2311.3M1355.0 1033.4H2311.3M1355.0 1097.2H2311.3M1355.0 1161.0H2311.3M1355.0 1224.8H2311.3" stroke="#cacaca" stroke-width="1.6" fill="none"/>
<g>
<path d="M1436.3 1224.8l3.2-6.3 3.8-12.5 3.8-17.4 4.9-27.8 55.4-370.2M1477 1224.8l2.7-4.9 3.3-9.4 6.5-28.6 31.5-182.7 7-37.9 5.5-24.8 7.6-18.2 8.1-15.4 8.7-11.9 14.7-16.7 2.7-4.2 2.7-5.7 4.3-12.7 4.4-17 10.8-53.8M1504.1 1224.8l4.9-14.6 6-28.2 31-185.6 6.5-35.9 4.9-23.2 3.8-14 4.3-11 4.3-7 8.2-9.4 3.8-5.4 3.8-7.5 3.2-8.5 4.9-16.7 4.9-20.4 11.4-57.6M1512.3 1224.8l2.7-7.4 3.3-11.8 6.5-31.7 29.3-181.1 9.2-49.4 3.3-12.6 3.8-10.1 3.8-6.4 8.1-9.7 3.8-5.6 4.4-9 3.8-10.6 4.9-17.5 4.9-21 11.9-61.9M1524.8 1224.8l2.1-1.6 1.7-2.2 3.8-8.6 3.8-13.4 4.3-20.5 8.2-48.8 21.7-145.4 7.6-42.7 5.4-20.2 11.4-25.1 7.1-22.2 9.2-40.5 9.8-52.3M1536.2 1224.8l2.7-4.5 3.3-9.3 6.5-29.3 31.5-190.7 7.6-41.9 5.4-23.4 10.9-36.6 6.5-25.5 8.7-40.5 8.1-44M1557.4 1224.8l2.7-6 3.2-11 7.1-35.3 31.5-195.2 33.1-197.1M1604.6 1224.8l2.7-4.5 3.3-8.8 3.2-12.1 3.8-17.8 27.7-160.3 8.7-46.5 14.7-41.7 14.1-36.7 8.7-18.3 9.8-15.2 3.8-9.3 6.5-24.7 8.7-45M1617.6 1224.8l6-18.1 6.5-28.7 29.3-160.1 4.9-24.2 4.4-18.4 7.6-24.9 13.5-35.2 7.7-16.3 10.8-18 5.4-13.4 4.4-15.1 4.3-18.5 10.3-53.3M1628.5 1224.8l2.7-3.2 3.3-7.8 2.7-9.9 3.2-15.2 6-34.5 20.6-129.3 5.5-29.7 4.9-22 6.5-22.5 8.7-23 7.6-16.6 11.9-20.6 6-15 3.8-13 4.3-17.9 10.3-51.7M1645.9 1224.8l2.1-5.4 2.8-9.4 5.4-26.2 28.2-171.5 6.5-36.6 5.5-26.7 3.8-15.3 3.8-11.7 3.2-7.3 9.8-18.4 3.8-9.7 3.3-10.2 9.2-37.8 9.8-50.2M1694.2 1224.8l2.7-7.6 2.7-10.1 6-29.6 35.3-224.9 8.1-45.6 18.5-94.9 6-33.6M1720.3 1224.8l2.7-6.8 2.7-9.9 6-30.1 42.3-270.6 3.8-21.4 3.8-16.8 3.8-10.5 2.2-3 2.2-1.4 3.8-.5 32 0 1.6-.6 1.7-1.6 3.2-6.8 3.8-13.3 4.4-21.4 4.8-28.8M1868 1224.8l4.8-15.5 4.9-23.4 28.8-175.2 4.9-26.8 3.8-16.5 3.8-12.3 4.3-9.2 28.3-53 12.5-20.5 3.2-7.3 3.8-11.7 4.4-17.7 10.8-56.5M1916.3 1224.8l2.7-6.5 2.7-9.1 6-27 33.1-184.1 8.2-41.6 5.9-22.1 12-28.5 7-22.3 9.3-38.6 11.4-56.3M1960.3 1224.8l3.2-4.7 3.8-11 3.8-16.6 4.4-24.4 57.5-389.5M2015.6 1224.8l2.8-5.3 3.2-9.8 6.5-29.1 31.5-189.1 6-32.1 5.4-24.4 6.6-21.2 4.3-11 3.8-7.8 4.9-6.9 7.6-4.7 3.2-2.9 3.3-4.8 3.3-7.1 3.8-11.4 3.8-14.6 9.7-48M2060.2 1224.8l3.2-4.1 3.8-9.8 3.8-15 4.4-22.2 32-201.5 32.6-191.6M2077.6 1224.8l3.2-8.3 3.3-12.4 7.6-40.9 59.7-384.5M2085.7 1224.8l2.2-2 1.6-2.8 3.8-10.7 3.8-16.4 4.3-23.8 58.7-382.4M2100.4 1224.8l3.2-4.5 3.8-10.7 3.8-16.2 4.4-23.3 62.4-389.7M2140.5 1224.8l2.8-5.9 2.7-8.6 5.9-27.6 27.7-171.2 7.1-39 6-27.6 5.9-20.4 12-30.8 6-11.3 9.7-12.8 4.9-11 3.3-10.6 3.8-15.5 9.2-47.1" stroke="#ff5a64" stroke-width="1.4" fill="none" opacity=".66"/>
<path d="M1412.9 1224.8l3.3-7.3 3.2-11.4 3.8-18 4.4-24.7 57.5-375.5M1431.4 1224.8l3.2-9 3.8-15 8.7-48.8 54.3-373.1M1472.6 1224.8l3.3-5.3 3.3-9.3 6.5-29.2 7-42 20.7-133.9 8.1-45.5 10.9-26.5 11.4-23.5 12.5-19.7 16.3-21.8 4.8-9.5 3.8-11.4 4.4-17.4 9.2-49M1481.9 1224.8l3.2-3.8 3.3-7.9 3.3-11.7 3.2-15.1 7.1-39.2 23.3-140.4 6-31.6 5.4-24.1 6.5-19.3 7.6-17 9.3-14.9 16.3-22.1 3.2-5.9 2.7-6.5 4.4-13.7 4.3-17.7 10.3-53.1M1541.1 1224.8l2.7-7.4 2.7-10.1 5.4-27.2 35.3-230.2 7.6-42.5 22.3-114.8M1556.8 1224.8l1.6-1.7 2.2-3.7 3.8-10.3 4.4-17.1 4.8-24.4 66.3-387.1M1627.4 1224.8l2.7-4.6 3.3-8.8 3.2-12.2 3.8-17.7 33.2-190.9 7-37.9 5.4-25.6 3.8-14.6 4.4-12.5 4.3-8.9 9.8-16 6-15 7-26.4 8.7-41.9M1726.2 1224.8l2.7-5.5 3.3-10.1 3.3-13.7 3.8-19.8 7-43.3 24.5-160.4 43.4-96.9 7.6-16 7.1-13 3.2-10.3 3.3-13.9 7.6-42.8M1731.1 1224.8l2.2-1.6 1.6-2.1 3.3-6.8 3.8-12.2 3.8-16.4 8.1-44.4 21.2-128.8 5.4-28 5.5-22.9 3.2-11 2.7-6.7 29.9-67.5 8.7-17.2 3.2-7.8 3.3-10.2 3.3-12.9 7-35M1739.3 1224.8l3.2-5.4 3.3-8.5 3.2-11.7 3.8-17 8.2-43.6 22.2-128.2 5.5-27.7 3.8-16.2 3.8-12.6 5.4-14.1 23.4-53 9.2-18.8 3.8-9.6 3.8-12.3 3.8-15.3 8.1-40.7M1775.6 1224.8l2.8-6 2.7-8.6 6.5-29.4 32-185 12.5-66.4 6.5-27.9 10.9-37 5.4-20.9 6.5-29.2 7.1-36.2M1808.8 1224.8l3.2-8.6 3.3-12.2 7.6-37.8 66.2-386.3M1853.8 1224.8l3.3-6.9 3.2-10.3 7.1-32.1 33.1-195.2 4.9-12.8 38-88.5 8.2-18.1 5.9-11 2.2-5.2 3.3-10.5 3.2-13.6 7.6-40.1M1870.1 1224.8l4.9-14 5.4-24.2 28.3-161.8 4.9-25.5 4.3-19 4.4-13.2 7.6-19.2 23.8-58.1 10.4-22 3.8-9.4 7-25.2 8.2-39.3M1888 1224.8l2.8-4.6 3.2-8.9 6.5-28 6-33.6 22.8-138.5 6.5-35.5 5.5-25.7 4.8-19 5.5-16.7 7-17.7 10.9-23.5 5.4-15.7 8.2-32.8 8.7-45M1894.6 1224.8l3.2-6.6 2.7-8.1 7.1-30.5 31.5-180.4 10.3-52.1 4.3-17 4.4-13.8 4.9-12.4 10.3-22.8 6.5-19.3 8.7-35.5 8.7-44.3M1914.7 1224.8l2.7-5.1 2.7-8 6.5-29.6 31.5-186.8 11.4-62.5 6.5-30 15.2-61.7 10.3-49.6M2021.1 1224.8l3.2-3.9 3.8-9.3 3.3-11.9 3.8-17.7 7.6-43.1 25-153 5.9-32.9 4.9-22.8 3.8-13.2 3.8-9.1 4.4-6.9 8.1-9.8 3.8-5.5 3.8-7.5 3.3-8.5 4.3-14.7 4.4-18.1 10.3-53.4M2041.2 1224.8l2.7-6 3.2-10.5 6.6-30.3 31.5-186.5 10.3-55.4 6.5-26 11.4-30.9 5.4-18.1 7.1-29.9 8.1-41.2M2068.3 1224.8l3.3-8.6 3.2-12.3 7.1-36.3 29.3-181.2 32.6-195.8M2095.5 1224.8l3.2-8.5 3.8-14.9 8.2-46.1 54.3-374.3M2136.7 1224.8l2.8-4.6 2.7-7.4 5.9-25 34.2-193.1 8.2-41.9 6.5-28.7 7.1-23.7 4.3-11.3 4.4-9.5 2.7-4.5 2.1-2.5 7.1-3.9 2.7-2.4 3.3-5.1 2.7-6.3 3.8-12.2 3.8-15.6 9.2-46.9" stroke="#6c60ff" stroke-width="1.4" fill="none" opacity=".66"/>
<path d="M1500.3 934.4l1.1-4.2 1.1-2 51.6-61 12.5-13.3 2.7-4.8 2.7-7.3M1509 939.7l1.7-4.2 2.1-3.1 42.9-53.2 14.1-15.9 3.3-5.8 3.3-8.6M1541.6 937.2l4.9-12.5 5.4-10.4 8.2-11.7 16.8-19.8 4.3-7.9 3.8-10M1630.7 962.3l1.6-3.9 48.3-79.7 10.3-16.4 6-7.7 3.3-7.8M1610.6 1224.8l4.3-10.4M1669.2 951.2l7.1-19.6 13-32.1 6-12.2 9.8-15.8 5.4-13.7M1650.2 1224.8l2.2-6.1M1708.9 929.6l3.8-9.6 8.6-17.7 4.9-13M1720.3 924l8.6-23.2M1781.6 930.1l25.5-43.8 10.4-16.6 2.7-3.4 2.1-1.8 2.2-.8 4.9-.7 2.7-1.8 3.3-5.2 2.7-7M1814.2 893.1l3.8-9.4 3.8-6.2 3.8-3.4 7.1-1.7 2.7-1.6 3.8-5.3 3.2-7.7M1827.8 891.1l1.6-3.6 2.2-3 6.5-4.2 3.2-3.4 3.3-5.9 2.7-6.9M1896.7 959.9l2.2-5.8 22.3-39 24.9-43.3 6.6-10.7 4.8-6.6 2.2-4.7M1909.2 955.5l2.7-6.3 31.5-57.7 9.8-17.3 7.1-10.7 3.2-6.9M1943.4 927.7l7.6-17.5 6.5-11.8 9.3-15 4.9-10.9M1952.1 928.5l5.4-13.1 13.1-22.3 5.4-12.5M1960.3 927.4l4.3-9.7 10.3-17.9 4.9-11.6M1966.2 934l4.4-11.1 9.8-18.9 5.4-14.3M1983.1 935.4l8.7-23.6M2046.1 865.2l3.2-7.7 3.3-3.2 3.2-.6 31 0 1.6-.8 1.6-1.7 3.8-7.6M2047.1 948l19.6-46.8 13-28.7 2.7-4.4 2.2-2.3 6.5-2.7 2.7-2.3 2.8-4.3 2.7-6.4M2060.2 936.9l9.2-23.3 13.6-29.7 4.3-6.1 8.2-4.8 3.2-3.4 3.8-6.8 3.3-8.7M2089.5 908.2l2.2-5.7 2.7-4.6 2.2-2.1 5.9-3.9 3.8-4.3 3.8-7.1 3.3-8.7M2163.9 925.7l1.6-4.1 28.3-37.2 16.8-21.8 7.6-8.3 2.2-3.9 2.1-5.6M2172.6 975.7l20.1-54.4 13-32.8 6.5-13.1 3.3-4.8 6.5-7.8 4.9-10.2M2226.9 887.1l8.7-23.2" stroke="#ff5a64" stroke-width="1.5" fill="none" opacity=".7"/>
<path d="M1502.5 935.9l1.1-2.5 45.6-62.6 11.4-15.2 6-6.7 3.2-6.9M1510.7 943.1l4.8-11.1 16.3-21.7 28.8-40.6 9.2-11.7 3.3-6.3 2.7-7.6M1551.9 932.7l3.3-8.5 3.8-7.4 6.5-9.9 14.1-19 3.8-7 3.3-8M1575.8 914.9l3.3-8.5 7.6-15.1 4.3-10.5M1627.9 968.8l54.9-97.2 8.7-14.6 6-8.5 4.3-11.1M1641 966.2l3.8-10.5 5.4-11.1 38-66.8 12-18.8 3.8-8.3M1650.2 964.8l3.8-9.9 4.4-8.9 32.5-57.1 12.5-20.1 5.5-12.3M1633.4 1224.8l4.3-10.5M1696.4 915.6l5.4-13.9 11.4-20.4 4.9-12.8M1707.2 910.5l10.3-22.2 4.9-13.3M1815.3 930.4l7.6-20.1 15.2-32.8 5.4-14.5M1781.1 1224.8l2.1-6M1910.3 975.9l3.8-10.5 15.2-33.7 23.4-55.5 8.6-17.9 3.3-8.3M1920.1 1224.8l4.3-11.3M1926.1 1224.8l2.1-6.1M2023.8 930.6l51.6-67.1 7-8.7 5.5-5.7 3.2-6.5M2038.5 932.4l3.8-10 4.3-7.7 32-41.7 12-14.1 3.2-5.6 3.3-8.5M2054.7 924.5l3.3-8.2 3.8-6.7 20.6-26.8 11.4-13.7 3.3-5.5 3.3-7.8M2064.5 928.9l4.4-11.1 4.3-8.4 6-8.4 18.4-22.8 4.4-7.9 3.8-10M2170.9 857.2l3.3-5.7 2.2-1.7 2.1-.8 39.1-.5 1.7-1.1 2.1-3 3.8-9.5M2166.6 971.1l27.7-67.4 14.7-33.7 2.7-5 2.7-3.5 2.2-1.5 4.8-1.8 2.8-2.5 2.7-4.5 2.7-6.7M2212.8 900.5l3.2-8.7 2.7-5.1 3.3-3.8 6.5-4.3 3.3-3.3 3.8-6.7 3.2-8.5M2227.4 900.8l3.3-8.2 8.1-14.3 3.8-9.4M2237.7 899.9l8.7-22.3" stroke="#6c60ff" stroke-width="1.5" fill="none" opacity=".7"/>
<path d="M1399.9 1224.8l75.5-444M1414 1224.8l70.1-441.6M1450.4 1224.8l49.9-290.4M1572 841.8l6-23.8 7-37.2M1454.7 1224.8l16.3-83.8 31.5-175.6 3.3-14.8 3.2-10.9M1576.4 848.9l6.5-25.5 8.7-44.7M1489.5 1224.8l39.6-232.1 6.5-33.8 6-21.7M1585 864.9l3.8-13.2 4.4-18.2 10.3-52.2M1562.8 1224.8l4.3-13.6 3.8-14.9 9.8-48.9 63.5-366.5M1578.5 1224.8l74.4-444.5M1585 1224.8l45.7-262.5M1700.2 846.8l5.4-22.1 7.6-43.3M1614.9 1214.4l5.4-18.3 6.6-30.5 29.8-168.1 5.5-23.1 7-23.2M1710.5 857.8l3.8-13.5 3.8-16.4 9.2-48.6M1652.4 1218.7l5.4-18.4 6-27.8 34.2-195.4 6-29.5 4.9-18M1726.2 889.3l5.5-18.9 5.4-23 6.5-31.4 6.5-35.4M1663.8 1224.8l42.9-243.9 7-34.3 6.6-22.6M1728.9 900.8l6-19.3 6.5-26.2 7.6-35.4 7.6-39.8M1671.4 1224.8l28.8-169.1 16.3-90.4 7-29.8 12.5-37.7 7.1-25.8 9.2-41.1 9.8-50.2M1680.6 1224.8l21.7-138.7 19.6-114.2 7-31.3 13.1-42.6 7-26.8 8.2-36.5 8.7-44.1M1733.8 1224.8l43.5-274.9 2.1-13 2.2-6.8M1838.1 849l6-23.8 8.1-45M1759.9 1224.8l23.9-161.5 14.1-90.6 9.2-51.7 3.8-16.8 3.3-11.1M1842.4 857.8l3.3-10.7 3.8-16.1 8.1-43.9M1767 1224.8l47.7-274.9 7.6-38.8 5.5-20M1847.3 864.1l3.8-12.8 3.8-16.1 9.3-47.3M1791.9 1224.8l32.1-203.8 12.5-75.8 7-36.4 15.2-64.2 10.3-51.2M1802.8 1224.8l26.1-174.6 16.2-104.2 7.6-42.7 17.4-85.8 7.1-39.2M1810.4 1224.8l76.6-444.7M1830.5 1224.8l67.9-429.8M1855.5 1224.8l41.2-264.9M1959.7 849.8l3.3-10.5 3.2-14.4 8.2-46.6M1859.3 1224.8l39.6-223.8 5.4-26.8 4.9-18.7M1963.5 856.6l3.3-10.2 3.8-15.6 9.8-51.3M1889.1 1224.8l26.6-160.5 11.4-65.6 9.3-46.1 3.2-12.9 3.8-12M1971.7 872.5l3.8-12 4.3-17.2 11.4-56.5M1900 1224.8l22.8-142 15.2-90.9 7.6-39.3 6.5-24.1M1976 880.6l4.9-15.8 5.4-22.4 6.5-31.3 6-32.4M1908.1 1224.8l38-234.8 7.6-39.5 3.3-13 3.3-10.1M1979.8 888.2l5.4-17.8 5.5-22.3 7-33.8 6.5-35.3M1911.9 1224.8l43.5-242.9 5.9-29.6 4.9-18.3M1985.8 889.7l4.9-17 5.9-25.2 7.1-33.8 6.5-34.7M1933.1 1224.8l17.9-114.8 18.5-112.5 7.1-37.4 6.5-24.7M1991.8 911.8l6.5-20.9 6.5-25.8 8.1-37.5 7.6-39.1M1987.4 1224.8l47.8-306.3 6-33.3 4.9-20M2093.8 843.6l3.3-10.4 3.3-13.7 7.6-41.3M2001.5 1224.8l35.3-216.4 10.3-60.4M2099.3 850.1l3.2-10.6 3.3-13.3 8.7-44.9M2005.9 1224.8l15.2-81.2 28.2-164 4.9-22.4 6-20.3M2105.8 854.1l7-27.5 8.7-45.7M2037.4 1224.8l38-245.9 8.1-45.8 6-24.9M2113.4 871.8l4.3-15.3 4.9-21.3 10.3-54.7M2113.9 1224.8l50-299.1M2222.5 844.8l6-23.8 7.1-39.5M2131.3 1224.8l34.8-214.9 4.3-25.5 2.2-8.7M2226.9 852.6l3.2-10.3 3.8-15.4 8.7-45.2M2166.1 1224.8l45.6-269.2 8.7-44.9 3.2-13.3 3.3-10.3M2235.6 863.9l3.8-13.1 4.3-18 10.3-52.2" stroke="#ff5a64" stroke-width="1.85" stroke-dasharray="6.8 4" fill="none" opacity=".76"/>
<path d="M1398.8 1224.8l63-434.4M1450.4 1224.8l64.6-432.5M1456.9 1224.8l44-280.9 1.6-8M1569.8 842l2.8-8.8 3.2-14.1 7.1-39.9M1460.7 1224.8l16.3-90.8 26.6-161.6 3.3-15.9 3.8-13.4M1575.8 844.1l6-24.3 7-38.9M1504.1 1224.8l33.7-225.1 7.6-41.7 3.3-14.1 3.2-11.2M1586.7 872.9l3.8-12 4.3-17.2 10.3-51.4M1523.7 1224.8l36.9-236.4 8.7-47.6 3.3-14.4 3.2-11.5M1591 880.8l4.9-15.8 5.4-22.3 6.6-31.7 5.4-30.5M1575.8 1224.8l72.8-438.6M1582.3 1224.8l44-249.2 1.6-6.8M1701.8 837.4l4.9-19.5 5.4-27.8M1595.4 1224.8l34.2-207.1 5.9-30.5 5.5-21M1704 850.7l3.2-10.2 3.8-15.3 8.7-44.6M1602.4 1224.8l35.3-204.7 6.5-32.8 6-22.5M1708.9 856.5l3.8-12.3 4.3-17.7 9.2-46.9M1637.7 1214.3l4.9-16.9 5.4-25.3 37-205.5 6.5-32.2 4.9-18.8M1718.1 868.5l8.1-30.6 9.8-47.5M1655.1 1224.8l22.3-148.2 16.2-103.8 7.7-41 2.7-11.1 3.2-10.2M1722.4 875l4.9-17.2 5.4-23.2 6-29 4.4-24.4M1660.5 1224.8l40.2-232.8 8.7-47.6 6.5-28.8 11.4-37 6.5-24.8 7.6-34.3 7.1-36.8M1679.5 1224.8l40.8-237.4 37.4-208M1690.4 1224.8l36.4-218 39.1-227.7M1702.9 1224.8l33.1-220.4 36.4-225M1761 1224.8l38-223.9 8.7-42.9 7.6-27.6M1843.5 863l4.4-15.2 4.3-18.3 9.8-50.2M1783.2 1218.8l6-20.6 6.5-31.3 32.1-181.9 9.7-51.7 6-26.1 11.4-41.2 5.4-21.8 6.6-29.6 6.5-33.4M1835.4 1224.8l63.5-434.4M1840.8 1224.8l33.1-191.5 42.9-254.1M1860.3 1224.8l6.6-21.5 5.9-26.8 9.3-50.2 20.1-117.6 3.8-17.6 4.3-15.2M1964.6 850l3.3-10.9 3.8-15.8 8.1-42.5M1924.4 1213.5l4.9-17.7 6-28.2 42.3-230.5 24.5-117 7.6-39.4M1928.2 1218.7l6-20.9 7.1-32.5 41.2-224.9 30.4-149.2M1948.9 1224.8l39.6-234.4 36.4-209.7M1961.3 1224.8l35.3-231.7 34.8-213.5M1973.8 1224.8l47.3-284.8 1.1-5.4 1.6-4M2091.1 842.6l2.7-8.3 3.3-13.1 7.6-40.1M1990.7 1224.8l34.7-228.5 7.1-39.4 6-24.5M2097.1 844.8l6-23.4 7.6-40.1M2004.8 1224.8l36.4-234.8 7.6-42 5.9-23.5M2100.4 855.8l3.8-12.5 3.8-15.9 9.2-48.6M2016.7 1224.8l36.4-246.3 4.9-27.8 6.5-21.8M2105.8 860.3l7-26.9 8.7-45.1M2114.5 1224.8l49.9-339.4 3.3-17.4 3.2-10.8M2225.2 834.9l4.4-16.9 4.3-22.5M2125.3 1224.8l39.7-246.1 1.6-7.6M2229.6 844.5l3.2-11 3.3-13.9 7.6-40.9M2156.3 1224.8l23.9-150.2 16.3-98.4 8.7-46.1 3.8-16.4 3.8-13.2M2238.8 860.1l7.1-26.7 8.7-42.9M2175.3 1224.8l39.1-257.3 7.6-44 5.4-22.7M2242.6 868.9l4.4-14.4 4.3-18.1 10.3-53.2M2181.3 1224.8l44.5-272.4 6.5-33.5 5.4-19M2246.4 877.6l4.9-15.7 4.9-19.5 10.9-54.3" stroke="#6c60ff" stroke-width="1.85" stroke-dasharray="6.8 4" fill="none" opacity=".76"/>
</g>
<path d="M1398.3 1229.8H2267.2" stroke="#7f7fff" stroke-width="2.4" fill="none"/>
<path d="M1420.5 1225.8H2241.0" stroke="#ff6a6a" stroke-width="2.4" fill="none"/>
<path d="M1355.0 1253.0V756.0" stroke="#cfcfcf" stroke-width="2.2" fill="none"/>
<path d="M1354.0 756.0H2312.3" stroke="#adadad" stroke-width="2.2" fill="none"/>
<path d="M2311.3 755.0V1253.0M1354.0 1253.0H2312.3" stroke="#6e6e6e" stroke-width="2.1" fill="none"/>
<path d="M1398.8 1252.0v4.5M1505.8 1252.0v4.5M1612.8 1252.0v4.5M1719.8 1252.0v4.5M1826.8 1252.0v4.5M1933.8 1252.0v4.5M2040.8 1252.0v4.5M2147.8 1252.0v4.5M2254.8 1252.0v4.5M1356.0 778.2h-4.5M1356.0 842.0h-4.5M1356.0 905.8h-4.5M1356.0 969.6h-4.5M1356.0 1033.4h-4.5M1356.0 1097.2h-4.5M1356.0 1161.0h-4.5M1356.0 1224.8h-4.5" stroke="#6a6a6a" stroke-width="2" fill="none"/>
<text transform="translate(1292.00,739.00) scale(1.1239,1)" font-size="46.00">After-guidance permeability-40% Flow-1400veh/h</text>
<text transform="translate(1213.40,895.40) rotate(90) scale(0.3986,0.4187)" font-size="100">Location(m)</text>
<text transform="translate(1758.00,1351.90) scale(1.0421,1)" font-size="42.00">Time(s)</text>
<text transform="translate(1278.05,813.73) scale(1.0890,1)" font-size="35.20">350</text>
<text transform="translate(1278.05,873.83) scale(1.0890,1)" font-size="35.20">300</text>
<text transform="translate(1278.05,934.63) scale(1.0890,1)" font-size="35.20">250</text>
<text transform="translate(1278.05,995.03) scale(1.0890,1)" font-size="35.20">200</text>
<text transform="translate(1278.05,1055.43) scale(1.0890,1)" font-size="35.20">150</text>
<text transform="translate(1278.05,1115.83) scale(1.0890,1)" font-size="35.20">100</text>
<text transform="translate(1287.63,1176.33) scale(1.0890,1)" font-size="35.20">50</text>
<text transform="translate(1297.22,1236.73) scale(1.0890,1)" font-size="35.20">0</text>
<text transform="translate(1352.92,1301.73) scale(1.0890,1)" font-size="35.20">0</text>
<text transform="translate(1450.63,1301.73) scale(1.0890,1)" font-size="35.20">50</text>
<text transform="translate(1548.35,1301.73) scale(1.0890,1)" font-size="35.20">100</text>
<text transform="translate(1645.95,1301.73) scale(1.0890,1)" font-size="35.20">150</text>
<text transform="translate(1761.85,1301.73) scale(1.0890,1)" font-size="35.20">200</text>
<text transform="translate(1877.75,1301.73) scale(1.0890,1)" font-size="35.20">250</text>
<text transform="translate(1994.75,1301.73) scale(1.0890,1)" font-size="35.20">300</text>
<text transform="translate(2111.75,1301.73) scale(1.0890,1)" font-size="35.20">350</text>
<text transform="translate(2208.75,1301.73) scale(1.0890,1)" font-size="35.20">400</text>
</g>
<g>
<path d="M240.5 1441.8V1968.3M377.8 1441.8V1968.3M515.1 1441.8V1968.3M652.4 1441.8V1968.3M789.7 1441.8V1968.3M927.0 1441.8V1968.3M1064.3 1441.8V1968.3" stroke="#d9d9d9" stroke-width="1.5" fill="none"/>
<path d="M196.0 1465.2H1179.3M196.0 1532.7H1179.3M196.0 1600.2H1179.3M196.0 1667.6H1179.3M196.0 1735.1H1179.3M196.0 1802.6H1179.3M196.0 1870.0H1179.3M196.0 1937.5H1179.3" stroke="#cacaca" stroke-width="1.6" fill="none"/>
<g>
<path d="M240.5 1937.5l3.4-2 3.5-3.9 3.4-6.1 4.1-9.8 7.6-25.2 7.5-32.9 8.9-45.6 11.7-64.7 48.1-280.9M259.7 1937.5l2.8-2.9 2.7-4.2 6.2-14.5 6.2-20.8 7.5-32.1 19.9-99.4 57-298.2M268 1937.5l3.4-2.5 3.4-4.2 6.2-12.6 6.9-21.1 7.5-30 22-104.7 59-296.8M287.2 1937.5l3.4-3.8 3.4-5.3 6.2-14 6.9-22.1 7.5-30.4 27.5-130 53.5-265.6M333.2 1937.5l4.8-10.4 4.8-13.9 4.8-16.8 5.5-22.3 13-60.3 37.8-185.1 6.2-27.1 4.8-16 2-4.9 2.8-4.5 2-2.1 2.8-1.5 4.8-.7 36.4-.2 3.4-1 2.8-1.4 5.4-5.2 4.2-6.2 3.4-6.7 7.5-20 8.3-29.1 8.2-35.3M414.9 1937.5l2.7-2.1 2.1-2.6 4.1-7.7 4.8-13.1 4.8-17.2 9.6-43.2 29.5-148.5 5.5-22.5 4.8-13.3 3.5-5.1 3.4-2.4 3.4-.9 11.7-.7 6.9-2.7 6.1-5.2 5.5-7.3 5.5-10.1 6.2-14.7 6.9-20.2 12.3-42 3.5-8 3.4-4.9 3.4-2.3 4.8-.9 46.7-.1 2.8-1.2 2.7-2.7 4.1-6.9 4.8-12.4 4.8-16.7 4.8-20.5M448.5 1937.5l2.1-1.2 2.7-2.8 4.8-8.3 4.8-12.6 4.8-16.7 9.6-42.5 24.8-126 6.1-25.1 5.5-15.4 4.8-7.7 9-8.8 4.1-5 4.1-6.5 4.1-8 4.8-11.5 4.8-13.6 15.1-49.4 3.5-7.9 2.7-4.1 2.8-2.2 4.1-1.1 48-.4 2.8-.9 2.7-1.7 5.5-6.3 6.2-12.1 6.2-17.6 6.8-25.4 6.9-30.4M469.8 1937.5l4.8-6.4 4.8-9.8 4.8-13.3 5.5-18.8 10.3-42.6 22.7-104.2 8.2-31.6 6.2-16.6 13-24.6 6.2-13.8 6.9-19 10.9-34.6 3.5-8.8 4.1-6.7 2.1-1.9 2.7-1.2 4.1-.4 43.3-.2 6.1-2.1 3.5-2.5 2.7-3 4.1-6 4.2-8 8.2-22.2 8.9-32 9.6-41.4M497.9 1937.5l2.8-1.4 2.7-2.7 4.8-7.6 4.8-11.4 5.5-17.5 10.3-43.4 20.6-104.7 8.9-40.3 11-39.5 11.7-36.8 5.5-14.9 4.8-8.3 2.1-2 2.7-1.4 4.1-.7 44-.3 3.4-.9 3.4-1.7 3.5-2.6 3.4-3.8 4.8-7.3 4.1-8.3 8.3-22.1 8.9-31.6 10.3-43.9M508.2 1937.5l3.5-2 2.7-2.6 5.5-8.8 5.5-13.7 5.5-18.2 11-46.5 21.9-107.4 9.7-43.9 10.9-44.1 4.2-13.9 3.4-9.2 4.1-7.2 2.1-2 2.7-1.5 3.4-.4 45.4-.4 4.1-1.3 3.4-2 3.4-3.1 3.5-4.2 4.8-7.8 4.1-8.7 4.8-12.4 4.8-14.7 11-40.8 11-48.7M526.8 1937.5l3.4-2 2.7-2.5 3.5-4.6 2.7-4.9 6.2-14.9 6.9-22.2 13-53.9 33-152.4 4.8-19.3 4.1-12.7 4.1-7.5 2.8-2.3 2.7-1 40.5-.3 6.2-1.1 3.4-1.7 3.4-2.7 6.9-8.6 4.8-8.7 4.8-11 4.8-13.3 5.5-17.5 12.4-46.8 13.7-59.8M539.8 1937.5l6.2-9.6 5.5-12 5.5-15.7 5.5-19.2 13-54.2 30.2-137.7 4.8-19 3.5-10.4 4.1-7.6 2-2 2.8-1.3 39.1-.4 6.9-1.3 4.1-2.3 3.4-3 6.9-9.3 4.8-9.2 5.5-13.3 10.3-31.9 13-49.8 14.4-62.3M548.1 1937.5l2.7-2 2.7-2.9 5.5-9.2 5.5-13.6 6.2-20.3 11.7-49 30.2-143.8 4.8-18.7 4.8-12.3 3.4-4.3 3.5-1.5 41.1-.5 6.2-2.2 5.5-4.5 4.1-5.2 4.2-6.8 7.5-16.7 8.2-24.3 12.4-43.4 2.7-7.2 2.8-5 3.4-3.4 3.5-1.1 49.4-.1 2.7-.6 2.8-1.8 2.7-3.1 2.8-4.3 6.2-14.2 6.1-20.1 6.9-28.4M585.8 1937.5l4.8-9.1 4.8-11.4 4.8-14.1 4.8-16.5 11-44.6 23.4-105.3 4.8-17.6 4.1-9.9 3.4-4.2 4.1-1.7 30.2-.2 5.5-.7 6.2-3 6.2-6.1 6.9-10.8 6.8-15.1 7.6-21.4 14.4-47.3 3.4-8 4.1-5.5 2.8-1.5 3.4-.6 46-.4 3.4-.9 2.8-1.5 5.5-5.1 4.1-6.2 3.4-6.6 4.2-10 4.1-11.9 8.9-32.2 9.6-41.9M630.4 1937.5l3.5-6.7 3.4-8.5 6.9-22.3 7.5-30.7 20.6-92.3 5.5-20.1 4.8-12.7 3.4-5.4 4.2-3.1 3.4-.7 11-.6 4.1-1.2 3.4-1.7 6.2-5.3 5.5-7.4 6.2-11.4 6.8-16.6 19.9-61.2 3.5-7.3 3.4-4.5 3.4-2.1 4.2-.9 37.7 0 6.2-.7 4.1-1.5 4.1-2.6 3.5-3.4 3.4-4.4 4.8-8.2 4.1-8.9 4.8-12.7 4.8-14.8 11-40.6 11.7-50.6M658.6 1937.5l3.4-6.2 3.4-8 7.6-23.7 7.5-30.6 17.2-78.8 4.1-15.4 4.1-11.3 2.8-4.9 2.7-2.9 11-5.2 5.5-4.2 4.8-5.7 4.8-7.7 5.5-11.4 6.2-15.8 17.8-55.6 3.5-7.6 3.4-4.8 3.4-2.3 3.5-.8 38.4 0 6.9-1 4.8-2.1 4.1-3.1 4.1-4.5 4.1-6 4.9-9 4.8-11.3 9.6-29 11.6-44.2 13.1-57.4M664.8 1937.5l4.8-5.2 4.8-8.3 4.1-9.8 4.8-14.5 8.2-31.4 16.5-73.6 5.5-18.7 2.7-6 2.8-4.1 3.4-2.9 8.3-4.9 4.1-3.6 5.5-7 4.8-8.5 4.8-10.5 4.8-12.6 15.8-50.2 5.5-13.4 4.1-5.2 4.1-1.8 41.2-.2 7.5-1.4 5.5-3.3 4.8-4.7 4.9-6.6 4.8-8.8 8.9-22 9.6-31.3 11.7-45.9 12.3-55.2M673.7 1937.5l5.5-6.5 4.1-7.2 4.1-9.3 4.8-13.8 8.9-32.7 15.8-67.4 5.5-17.8 2.8-5.8 2.7-3.9 11-8.8 4.8-5.2 4.1-6 4.1-7.7 4.8-11 4.9-13.2 15.7-50.4 4.8-10.4 3.5-3.8 4.1-1.4 40.5-.1 4.8-.4 5.5-2 5.5-4.3 4.1-4.8 4.1-6.3 8.3-17.2 8.2-23.2 12.4-41.9 2.7-6.9 2.8-4.7 2.7-2.6 3.4-1.2 50.1-.1 2.8-.6 2.7-1.8 2.8-2.9 3.4-5.4 6.2-14.2 6.2-19.7 6.8-27.3M683.3 1937.5l4.8-6.6 4.1-7.4 4.1-9.7 4.2-11.9 8.2-29.7 14.4-60 6.2-19.8 2.7-5.8 3.5-5.1 10.3-9.7 4.8-5.7 7.5-13 8.9-22.4 15.1-47.7 2.8-6.9 2.7-5 3.5-3.7 4.8-1.8 38.4-.2 5.5-.6 6.2-2.4 5.5-4.4 4.1-5 4.1-6.4 8.3-17.3 7.5-21 12.4-40.5 2.7-7.1 2.8-5.2 3.4-3.7 4.8-1.8 47.4-.4 4.1-1.1 4.1-2.9 3.4-4.3 3.5-5.9 6.1-14.9 6.9-22.7 7.6-30.8M716.2 1937.5l5.5-10.8 6.2-18.7 5.5-21 11.7-49.4 6.2-21 5.4-12 13.1-18 7.5-14.1 7.6-19.3 13-39.9 4.8-10.6 4.2-4.8 4.8-1.9 37-.2 6.2-.8 6.2-2.8 6.2-5.4 7.5-10.7 6.9-13.9 8.2-21.8 14.4-44.4 4.2-8.8 4.1-4.9 2.7-1.5 4.1-.6 44-.4 6.2-2.2 5.5-4.7 4.1-5.7 4.1-7.7 4.1-9.7 4.1-11.6 9-31.1 9.6-40.4M733.4 1937.5l5.5-10.5 6.2-16.9 5.5-18.6 11.6-44 6.2-19.2 5.5-12.2 11-18.9 6.2-12.5 6.8-17.1 11-31.6 5.5-11.7 4.1-4.5 4.8-2 34.4-.4 6.8-.8 6.9-2.9 6.2-5.3 7.5-10.3 6.9-13.5 8.2-20.9 15.1-45.1 4.1-8.8 2.1-3.1 2.8-2.6 3.4-1.7 4.1-.5 35.7-.1 6.2-.5 4.1-1.2 3.4-1.9 6.2-5.9 4.8-7.1 4.1-8 4.8-11.5 4.8-13.9 10.3-36.2 11.7-48.8M754.7 1937.5l3.4-5.1 2.8-5.3 6.1-16 5.5-18.5 12.4-47.2 6.2-19.5 15.8-38.4 11.6-31 4.8-10.3 4.2-5.1 4.1-2.1 4.1-.5 36.4-.4 4.1-1.1 3.4-1.5 4.2-2.9 3.4-3.2 7.5-10.3 7.6-14.8 8.2-21.1 15.1-45 4.1-8.5 4.2-4.7 2.7-1.5 4.1-.7 37.1 0 5.5-.5 4.1-1.2 4.1-2.4 3.5-2.9 3.4-3.9 5.5-8.6 4.8-9.8 4.8-12.2 5.5-16.5 12.3-45.2 12.4-53.6M761.6 1937.5l3.4-2.6 3.4-4.4 2.8-5.1 3.4-8.2 6.2-19.5 13-50.7 6.2-20.5 22-57.6 3.4-7.8 3.4-5.9 4.1-4 4.2-1.4 35.7-.2 5.5-.6 6.8-3 6.2-5.3 7.6-10.2 7.5-14.7 8.2-21 15.1-45 4.2-8.8 4.1-4.9 2.7-1.4 3.5-.7 39.1 0 5.5-.7 4.8-1.9 4.1-2.9 4.1-4.3 4.1-5.7 4.9-8.8 4.8-11 4.8-13.1 5.5-17.5 12.3-46.3 12.4-53.6M771.2 1937.5l4.1-3 3.4-4.4 3.4-6.3 3.5-8.4 6.2-19.6 13.7-54 6.9-23.5 13.7-38.1 4.1-9 3.4-5.3 3.5-3.2 4.1-1.4 38.4-.3 6.2-1.4 5.5-3.2 4.8-4.4 4.8-6.1 4.8-7.9 4.1-8.2 9-22.2 15.1-45.2 3.4-7.9 3.4-5.2 3.5-2.8 4.1-1 39.8-.1 6.2-.8 4.8-2.2 4.1-3.1 4.1-4.6 4.1-6 4.8-9.1 5.5-13 10.3-31.5 13.1-49.9 13-57.5" stroke="#ff5a64" stroke-width="1.4" fill="none" opacity=".66"/>
<path d="M289.2 1937.5l2.8-3.5 3.4-6.3 6.9-18.3 6.2-22.8 7.5-34.3 14.4-76.7 55-309.2M327.7 1937.5l5.5-7.6 6.2-14 6.1-19.5 6.2-24.2 13.1-61.6 35.7-184.4 6.1-28.2 4.8-16.7 2.1-5 2.7-4.6 2.1-2.2 2.7-1.5 4.9-.7 34.3-.3 5.5-2 4.8-4.2 3.4-4.7 3.4-6.2 6.9-17 6.9-23.1 7.5-31.4M336.6 1937.5l6.9-12.4 5.5-13.6 6.1-19.6 6.2-23.6 15.1-67.6 35.7-172.4 5.5-23.4 4.1-13.6 4.2-8.7 2-2.4 2.8-1.8 4.1-.8 26.8 0 4.8-.5 3.4-1.2 2.7-1.7 3.5-3.3 2.7-3.5 4.1-6.9 3.5-7.4 7.5-21.2 8.3-30.1 8.2-35.9M375.1 1937.5l2.7-1.4 2.7-2.8 4.9-8.6 4.8-13 5.4-19.4 11.7-50.7 36.4-170.7 5.5-23.1 4.1-13.8 3.4-7.9 2.1-3 2.1-1.8 4.1-1.3 17.8-.3 5.5-1.5 4.1-2.6 3.5-3.3 4.1-5.5 3.4-5.9 8.3-19.4 8.2-25.8 10.3-38.7 11.7-49.4M393.6 1937.5l4.1-5.9 4.8-11.2 4.8-15.4 4.8-18.9 10.3-47.3 30.9-152.2 5.5-24.5 4.1-15 3.5-8.8 4.1-5.9 4.1-2 13.7-.8 3.5-.9 3.4-1.7 4.1-3.4 3.4-3.9 4.2-6.3 3.4-6.6 8.2-20.6 9-29.1 10.9-41.9 11.7-49.6M460.9 1937.5l4.1-6.9 4.1-9.9 4.1-12.6 4.8-17.8 9.6-42.8 20.6-100.5 4.8-20.7 4.2-14.7 2.7-7.8 3.4-7.2 3.5-5.2 10.3-13.2 4.1-7 4.1-8.6 7.6-19.8 13-42.1 4.1-11.1 4.1-7.1 2.1-1.9 2.7-1.3 3.5-.5 46.7-.2 5.5-1.7 5.4-4.8 4.2-5.9 3.4-6.6 7.5-19.8 9-31.4 9.6-41M494.5 1937.5l3.4-5.7 4.2-9.9 4.1-13.1 4.1-16 8.2-38.2 19.9-101.9 9.7-41.6 7.5-25.9 19.9-60.9 4.1-11.1 4.8-8.4 2.1-2 2.7-1.3 4.2-.5 46-.4 3.4-.9 3.4-1.8 6.2-6.1 4.1-6.4 4.1-8.3 4.2-10.2 4.8-14.2 9.6-34.8 11-47.4M592 1937.5l4.1-4 4.1-7.3 4.1-10.6 4.9-16.2 9.6-41.2 24.7-118.9 5.5-21.3 4.8-12.5 3.4-4.9 4.1-2.5 4.1-.6 17.2-.2 6.2-1.4 6.2-3.9 6.1-7 6.2-10.3 6.2-13.8 7.5-21.2 13.8-44.4 4.1-9.4 3.4-4.6 3.5-2.2 4.1-.8 44.6-.3 3.4-1 2.8-1.4 5.5-5.3 4.1-6.2 3.4-6.9 7.6-20.2 8.2-29.1 9.6-40.6M601.6 1937.5l4.8-6.6 4.8-9.6 4.8-12.8 4.8-15.9 10.3-41.6 23.4-106.7 4.8-18.1 4.1-10.8 3.4-5 3.4-2.1 3.5-.5 14.4-.1 6.9-1.9 6.1-4.3 6.2-7.5 6.2-10.8 6.2-14.2 6.8-19.5 13.8-44.1 4.1-9.5 3.4-4.6 2.8-1.8 3.4-.8 46-.4 3.4-1 3.5-1.9 6.1-6.4 4.2-6.6 3.4-7.1 8.2-22.3 9-31.6 10.3-43.5M612.6 1937.5l4.1-7.6 4.1-10 8.3-26.6 10.3-41.9 21.9-97.8 4.8-17.7 4.1-10.5 3.5-4.7 3.4-1.9 15.8-.7 6.9-2 6.1-4.4 6.2-7.6 5.5-9.5 6.2-13.8 7.5-21.1 13.8-43.6 4.1-9.4 3.4-4.7 2.8-1.9 4.1-1 40.5 0 4.8-.5 3.4-1 3.5-2 3.4-3.1 3.4-4.2 4.2-6.8 4.1-8.8 8.9-25.2 9.6-34.9 11-46.4M634.6 1937.5l2.7-1.4 2.1-2 4.1-6.2 4.8-11.1 4.8-15 8.9-36.5 18.5-90.5 4.2-16 4.1-11.2 2.7-4.6 3.5-3.1 2.7-1.1 9.6-1.7 6.2-3.2 5.5-5.4 5.5-7.9 6.2-12.1 6.1-15.2 19.3-58.9 3.4-7.5 3.4-4.6 3.5-2.2 4.1-.8 39.1-.1 5.5-.6 4.1-1.4 3.5-2.2 4.1-3.9 3.4-4.6 4.8-8.4 4.1-9.1 4.8-12.9 4.8-15.1 11-40.7 12.4-53.4M677.1 1937.5l5.5-12.4 6.2-20.1 6.8-28.7 15.2-71.2 4.8-17.8 4.1-10.8 4.8-7.6 8.9-8.7 4.1-4.8 4.1-6.2 4.2-7.7 4.8-10.9 4.8-12.9 15.8-48.8 4.1-9.4 3.4-4.8 3.4-2.6 4.9-1.1 37-.1 7.6-1.1 4.8-2.2 4.8-3.9 4.1-4.8 4.1-6.4 4.8-9.4 5.5-13.5 10.3-32.3 13.1-50.1 13.7-60M697.7 1937.5l4.1-3.8 4.1-6.3 4.2-9 4.1-11.6 6.8-24.7 13.8-58 6.2-20.2 4.8-10.4 13-19.6 7.6-14.6 7.5-19.3 13.1-39.2 5.4-11.5 4.2-4.6 2.7-1.5 2.8-.7 35-.3 7.5-1 6.9-3 6.2-5.2 7.5-10.5 6.9-13.9 8.2-22 13.7-43.7 4.2-9 4.1-5.1 3.4-1.9 4.1-.7 43.3-.2 4.8-1.4 4.8-3.7 3.4-4.5 3.5-6.2 6.8-17.5 6.9-24.2 7.5-33M707.3 1937.5l3.5-2.7 3.4-4.3 3.4-6.1 3.4-7.9 7.6-23.6 15.1-60.7 6.2-20.8 5.5-13.1 12.3-21.7 6.2-13 6.2-15.9 11.7-34.3 5.5-12.1 4.1-5 2.7-1.6 2.8-.8 35-.3 7.5-1 6.9-3.1 6.9-5.9 7.5-10.7 6.9-14 7.5-19.9 14.4-44.8 4.2-9 4.1-5.1 3.4-1.9 4.1-.6 42.6-.3 5.5-1.7 5.5-4.5 4.1-5.7 3.4-6.5 7.6-19.6 7.5-26.5 9-38.3M726.5 1937.5l8.3-14.7 6.8-17.9 6.2-20.8 12.4-47 6.2-19.2 4.8-11.3 15.1-30.8 15.8-42.7 4.8-10.3 4.1-5.1 4.8-2.2 36.4-.3 6.2-.8 6.8-3 6.9-5.8 7.5-10.3 7.6-14.9 8.2-21.5 14.4-44.1 4.2-8.8 4.1-4.8 2.7-1.4 3.5-.6 43.2-.3 6.2-2.1 6.2-5.4 4.8-6.9 4.1-8 8.2-22.1 9.6-34.5 11-47.9M734.8 1937.5l4.1-3.1 4.1-5.4 3.5-6.2 4.1-9.7 6.8-21 13.8-52.1 6.1-20.2 4.8-12.7 13.8-32.2 11.6-30.8 4.9-9.9 4.1-4.9 2.7-1.7 2.8-.7 35-.2 6.8-.9 6.9-3 6.9-5.8 7.5-10.2 7.6-14.6 8.2-21.1 15.1-45.6 3.4-7.3 4.2-5.2 2.7-1.5 4.1-.8 37.8-.1 5.5-.4 3.4-1.1 3.4-1.8 6.2-5.8 4.8-7.1 4.8-9.6 4.8-12 4.8-14.6 11-41 11-49.8M745.1 1937.5l4.8-2.4 4.1-4.6 4.1-6.9 4.8-11.2 7.6-23.8 13.7-53.7 6.9-23.6 18.5-50.5 4.1-9.9 3.5-6.5 4.1-5 2.7-1.7 2.8-.7 35.7-.4 6.8-.9 6.9-3.1 6.9-5.9 7.5-10.2 7.6-14.4 8.2-20.8 15.1-45.5 4.1-8.5 4.1-4.7 2.8-1.4 4.1-.6 36.4 0 5.5-.4 4.1-1.2 3.4-1.9 3.5-2.7 3.4-3.7 5.5-8.3 4.8-9.7 4.8-12.2 5.5-16.7 11-41.3 12.3-56.6M757.4 1937.5l4.2-4.2 4.1-6.1 3.4-7 4.1-10.7 6.9-22.5 14.4-56.2 6.9-24 11.6-34 4.8-11.7 3.5-6.4 4.8-5.5 4.8-2 36.4-.2 6.2-.8 6.8-3 6.9-5.7 4.1-4.9 4.1-6.2 7.6-14.6 8.2-20.7 15.1-45.1 4.1-8.6 4.2-4.7 2.7-1.3 3.4-.5 37.8-.1 5.5-.5 4.1-1.3 3.4-2.1 3.5-2.9 3.4-3.9 5.5-8.6 4.8-10 5.5-14.1 5.5-16.9 11.6-43.7 13.8-60.7M775.3 1937.5l4.1-3.9 4.1-6.3 3.5-7.1 4.1-10.7 7.5-25.2 15.1-59.9 6.9-24.8 6.2-17.8 2.7-5.7 2.8-4.1 3.4-3.1 4.1-1.4 39.8-.4 6.2-1.4 6.2-3.7 4.8-4.4 4.8-6.1 4.8-7.6 4.8-9.3 9.6-23.5 15.1-44.5 3.5-7.6 3.4-4.8 2.7-2 4.2-1 39.1-.1 6.2-.8 4.8-2.1 4.1-3.1 4.1-4.6 4.1-6 4.8-9 5.5-12.9 5.5-15.6 5.5-18 13.1-49.8 14.4-62.7" stroke="#6c60ff" stroke-width="1.4" fill="none" opacity=".66"/>
<path d="M278.9 1937.5l6.2-10.2 4.8-10.5M300.2 1937.5l2.8-6.4M390.8 1550.1l2.1-4 2.7-3.4 2.8-1.8 2.7-.8 50.8-.5 2.1-1 2.7-2.6 2.8-4.1 2.7-5.5M306.4 1937.5l5.5-12.2M399.8 1560.1l4.1-6.6 2-1.5 2.8-.8 44.6-.1 4.8-.9 3.5-2.2 3.4-3.9 6.2-11.7M405.3 1569.7l3.4-5.3 2.1-1.6 2.7-.9 44.6-.2 5.5-1 4.1-2.6 4.2-4.7 4.1-7 3.4-7.6M423.8 1597l2.1-5 2.7-4.7 2.1-2.2 2.7-1.5 4.1-.6 30.9-.1 4.1-.6 3.5-1.5 4.1-3 4.1-4.8 4.1-6.6 4.1-8.7M438.2 1606l4.1-8.2 2.1-2.4 2.7-1.6 4.2-.8 22.6-.1 4.1-.8 4.1-2 4.2-3.5 4.1-5.2 4.1-7 4.1-8.9M446.4 1616.1l4.2-7.7 2-2.1 2.8-1.5 4.1-.7 19.9-.3 4.1-1 4.1-2.2 4.2-3.6 4.1-5.2 4.1-6.9 4.1-8.8M454 1624.4l4.1-6.9 4.1-2.8 4.2-.7 18.5-.4 4.8-1.4 4.1-2.5 4.8-4.7 4.1-5.7 4.2-7.4 4.8-10.9M459.5 1639.5l4.1-8.9 2.1-2.5 2-1.6 4.2-1 17.8-.5 4.8-1.6 4.8-3.1 4.8-5 4.1-6.1 4.2-7.7 4.8-11.2M466.4 1648l3.4-7.2 2.1-2.6 2-1.5 3.4-.8 17.9-.4 4.8-1.7 4.1-2.7 4.8-5.1 4.1-6 4.2-7.6 4.1-9.3M472.5 1661.6l4.2-8.9 2-2.6 2.1-1.5 4.1-1.2 11.7-.1 4.8-.7 4.8-2 4.1-3 4.8-5.3 4.1-6.2 8.3-17.1M489 1679.3l3.4-6.3 3.5-2.9 2.7-.8 8.9-.2 4.2-.7 4.8-2.1 4.1-3.2 4.8-5.4 4.1-6.3 4.1-7.8 4.8-11M560.4 1563.6l2.1-4.8 2.7-4.4 2.8-2.5 2.7-1.2 48.1-.4 4.8-1.1 3.4-2.5 3.4-4.1 3.5-6 3.4-7.7M521.3 1696.6l4.8-9 9.6-11.8 4.1-5.9 4.8-8.8 4.1-9.3M570.7 1584.7l2.8-5.8 2-3 2.8-2.5 2.7-1.2 4.1-.3 41.9-.1 3.4-.4 3.5-1.3 4.1-3 4.1-5 4.1-7.3 4.1-9.6M545.3 1698.9l16.5-34.7M581 1609.2l2.8-6.2 2.7-4.4 2.7-2.7 3.5-1.6 4.8-.5 39.1-.1 4.1-.5 4.1-1.6 4.9-3.6 4.8-5.8 4.8-8.3 4.1-9.3M519.9 1937.5l6.2-10.2 4.8-10.2M596.8 1640.3l2.7-6.7 2.1-3.4 2.1-2.2 2.7-1.5 3.4-.4 42.6-.1 4.1-.6 3.5-1.3 4.8-3.5 4.8-5.6 4.8-7.9 4.8-10.2M559 1937.5l6.2-9.1 4.8-9.8M627.7 1679.7l4.1-5.9 2.1-1.4 2.7-1 4.8-.4 30.9-.1 4.8-.8 4.1-1.7 5.5-4.3 4.8-6 4.8-8.1 5.5-12M726.5 1561.4l2.1-4 2.7-3.5 2.8-1.9 2.7-.8 46-.4 5.5-1.2 4.1-3.1 3.5-4.3 4.1-7.5 3.4-8.2M568 1937.5l6.1-10.2 4.8-10.6M631.1 1696.2l2.1-5.1 2.7-4.8 2.8-2.7 2.7-1.3 4.1-.6 32.3-.1 4.8-1.1 4.8-2.4 5.5-5.1 4.8-6.6 4.8-8.9 5.5-12.7M730 1575.5l4.8-9.2 2.7-2.7 3.5-1.6 4.8-.4 41.2 0 5.4-1.2 4.2-2.6 3.4-3.8 3.4-5.4 3.5-7M576.2 1937.5l6.2-10.9 4.8-10.8M639.4 1704.3l4.1-8.2 2-2.1 2.8-1.4 34.3-.3 4.8-.9 4.1-2 4.8-4 4.8-6 4.8-8.1 4.9-10.3M735.5 1585l2.7-5.9 2.1-3.1 2.7-2.5 2.8-1 46-.3 3.4-.4 3.4-1.2 4.1-2.9 4.2-4.8 4.1-7 4.1-9.2M594.7 1937.5l5.5-12.2M652.4 1722.8l4.1-6.8 4.1-2.6 4.2-.5 28.1-.2 4.8-.9 4.8-2.5 5.5-5 5.5-7.6 4.8-8.9 5.5-12.8M745.8 1606.5l4.8-9.3 2.7-2.7 2.8-1.3 4.1-.5 41.2 0 4.1-.5 4.1-1.6 4.8-3.6 4.8-6 4.8-8.6 4.1-9.5M657.9 1739.3l2.1-5.2 2.7-4.9 2.1-2.4 2.7-1.7 4.8-.8 25.4-.3 4.8-1 4.8-2.4 4.8-4.1 4.8-6.1 4.8-8.1 4.8-10.3M751.3 1617.7l4.8-8.9 2.7-2.7 3.4-1.5 4.8-.5 38.5 0 4.8-.7 4.1-1.5 4.8-3.6 4.8-5.7 4.8-8.2 4.8-10.7M687.4 1757.2l3.4-6.6 4.2-4.1 4.1-1.3 8.2-.5 4.8-1 4.8-2.1 4.8-3.8 4.8-5.4 4.2-6.3 4.1-7.7 4.8-10.9M761.6 1641.5l2.7-6.4 2.7-4.6 2.8-3 3.4-1.9 5.5-.8 37.1-.1 5.5-1 4.8-2.2 5.5-4.5 4.8-6.2 5.5-9.8 4.8-11M692.2 1937.5l6.2-9.9 4.8-10M736.2 1802.6l2.7-6.4 3.4-5.9 11.7-12.9 5.5-7.7 4.8-8.9 4.8-11.1M788.3 1691.8l2.8-6.4 2.7-4.6 2.8-2.9 2.7-1.4 4.8-.7 37.1-.1 5.5-1 4.8-2.3 5.5-4.6 5.5-7 5.5-9.7 5.5-12.3M895.4 1573.1l4.8-8.7 2.8-2.5 3.4-1.4 45.3-.4 3.4-.4 3.5-1.2 4.1-2.9 4.1-4.9 4.1-7.1 4.2-9.3M702.5 1937.5l8.3-17.4M743.7 1808l5.5-10.2 11-12.9 4.8-6.8 4.8-8.6 4.1-9.1M793.1 1703.6l2.8-6.8 2.7-5 2.8-3.2 3.4-2 4.8-.7 36.4-.2 5.5-1 4.8-2.2 5.5-4.4 5.5-6.9 5.5-9.4 5.5-12.1M900.2 1584.6l2.8-6 2.7-4.1 2.8-2.5 2.7-1.3 4.8-.5 40.5-.1 6.9-1.5 4.1-2.7 4.1-4.4 4.1-6.4 4.2-8.5M723.1 1937.5l8.2-17M761.6 1819l4.8-9.7 13-20.5 6.9-14.4M805.5 1720.2l4.8-8.6 2.7-2.7 2.8-1.3 4.8-.6 35-.1 4.8-.8 4.8-2 6.2-4.9 5.5-6.7 5.5-9.2 5.5-11.7M909.8 1607.9l2.8-6.4 2.7-4.7 2.8-3 3.4-1.8 4.8-.6 39.1-.1 4.8-.6 4.2-1.7 4.8-3.6 4.1-4.9 4.8-7.9 4.1-8.8M780.8 1823.6l13.7-27.7 5.5-12.5M813.7 1745.4l5.5-11.3 2.8-3.2 3.4-2 4.8-.7 35-.1 5.5-1.1 5.5-2.8 6.2-5.5 5.5-7.3 5.5-9.7 5.5-12.1M920.8 1626.2l2.8-5.7 2.7-3.9 2.8-2.4 2.7-1.1 4.1-.5 39.2-.1 4.1-.6 4.1-1.5 5.5-3.9 4.8-5.6 4.8-7.8 4.8-10.2M782.8 1937.5l8.3-15.7M832.3 1787.3l5.5-9.9 2.7-2.9 3.4-1.8 4.8-.7 35.7-.1 5.5-1.1 4.8-2.4 6.9-6.2 6.2-8.4 6.2-11.4 6.1-14.3M939.4 1672.3l2.7-6.3 2.7-4.6 2.8-2.9 3.4-1.7 4.1-.4 39.2-.1 4.8-.8 4.8-2.1 5.5-4.4 4.8-5.9 5.5-9.3 4.8-10.3M1046.5 1554.2l2-5.2 2.8-4.8 2.7-2.7 3.4-1.5 54.3-.7 2.7-1.7 2.8-2.9 2.7-4.4 3.4-7.2" stroke="#ff5a64" stroke-width="1.5" fill="none" opacity=".7"/>
<path d="M297.5 1937.5l8.2-17.2M304.3 1937.5l6.2-10.9 4.8-10.9M395 1559.1l2-5.1 2.8-4.8 2.7-2.7 2.8-1.2 45.3-.3 2.7-.6 2.8-2 3.4-4.2 3.4-6.3 3.5-8.2M311.9 1937.5l6.2-9.2 4.8-9.8M405.3 1566.8l4.1-7 2.7-2.3 2.8-1.1 5.5-.5 32.9 0 4.8-1 3.5-2.2 3.4-3.8 6.2-11.4M427.9 1598.9l4.1-7.8 2.1-2 2.7-1.3 30.9-.4 4.2-.6 3.4-1.5 4.1-3.2 4.1-5 4.1-6.9 3.5-7.3M433.4 1612.7l2.1-5.2 2.7-4.7 2.1-2.1 2.7-1.5 4.1-.6 26.1-.2 4.1-.9 3.5-1.6 4.1-3.3 4.1-5.1 4.1-6.9 3.5-7.3M443 1621.6l4.1-8.1 2.1-2.2 2.7-1.5 4.2-.7 21.9-.3 4.8-1.1 4.2-2.2 4.1-3.7 4.1-5.4 4.1-7.2 4.1-9.1M473.2 1652.2l3.5-6.2 3.4-3.1 3.4-1.2 8.3-.7 4.1-.9 4.1-1.8 4.1-3.2 4.1-4.7 4.2-6.3 7.5-16M480.8 1660.7l2.7-4.4 3.5-2.9 2.7-.9 11-1.6 4.1-2 4.1-3.2 4.1-4.6 4.2-6.3 7.5-15.8M487.6 1673.2l2.8-5.1 3.4-3.5 2.8-1.2 7.5-1.3 4.1-1.3 4.2-2.5 3.4-3 4.1-5.1 4.1-6.6 7.6-16.3M553.5 1556.8l2.1-4.4 2.7-4 2.8-2.2 2.7-.9 51.5-.2 2.8-.6 2.7-1.8 3.5-3.8 6.1-11.5M495.2 1687.6l3.4-7.2 3.5-4.1 2.7-1.7 11-4.3 3.4-2.5 3.5-3.5 6.8-10 6.9-14.5M558.3 1571.9l2.8-6.4 2.7-4.5 2.8-2.7 3.4-1.5 5.5-.5 42.6 0 5.5-1.1 4.1-2.9 3.4-4.1 3.5-5.8 3.4-7.4M501.4 1699l3.4-7.7 3.4-4.4 2.8-1.9 10.3-4.4 4.1-3.3 3.4-3.9 6.9-11.1 6.9-15.5M564.5 1579.5l2.1-4.3 2.7-4 2.8-2.3 2.7-1 47.4-.3 6.2-1.3 4.1-2.8 4.1-4.9 3.4-5.8 4.2-9.1M528.8 1711.1l5.5-11.7 13.1-20.7 6.1-13M575.5 1601.4l2.1-4.3 2.7-3.9 2.8-2.2 2.7-1 46-.3 4.1-.5 3.5-1.2 4.8-3.3 4.8-5.8 4.8-8.3 4.1-9.4M501.4 1937.5l5.5-11.5M583.8 1623.3l4.8-8.3 2.7-2.4 2.7-1.1 48.1-.3 4.1-.6 3.5-1.3 4.8-3.6 4.8-5.9 4.8-8.4 4.8-10.9M508.2 1937.5l8.3-16.6M587.9 1635.6l4.8-9.1 2.7-2.6 2.8-1.3 48.7-.3 4.1-.5 3.5-1.2 4.8-3.3 4.8-5.5 4.8-7.8 4.1-8.7M594.7 1642.3l4.2-6.5 2-1.6 2.8-1.1 48-.2 4.1-.5 3.5-1.1 5.5-3.8 4.8-5.6 5.5-9.4 4.8-10.7M600.2 1653l4.1-6.9 2.8-2.2 2.7-.8 47.4-.3 4.1-.6 3.5-1.2 5.4-3.9 4.9-5.6 5.4-9.2 4.9-10.6M605 1667.4l2.1-5.3 2.7-4.8 2.1-2.1 2.7-1.4 48.1-.4 4.1-.6 3.4-1.4 5.5-4.1 4.8-5.9 4.9-8.1 4.8-10.5M613.3 1677.5l2-4.9 2.8-4.3 2.7-2.4 2.8-1.1 4.8-.4 38.4-.1 4.8-.7 4.1-1.7 5.5-4.3 4.8-6.1 4.8-8.2 4.8-10.6M720.4 1554.8l2-3.8 2.8-3.2 2.7-1.7 2.8-.7 50.8-.4 2-1 2.8-2.7 2.7-4.1 2.8-5.7M623.6 1685.5l4.1-6.8 2-1.7 2.8-1.2 4.1-.4 35.7-.1 4.8-.8 4.1-1.7 5.5-4.3 5.5-6.8 5.5-9.7 5.5-12.5M725.2 1570.1l2.7-6.1 2.1-3.3 2.7-2.7 3.5-1.5 46.6-.3 5.5-1.1 3.5-2.4 3.4-3.8 3.4-5.6 3.5-7.2M638 1698.4l4.1-7.9 2.1-2.2 2.7-1.5 3.4-.6 28.2-.1 4.8-1.1 4.1-2.1 4.8-4 4.8-6.1 4.8-8.1 4.8-10.3M731.3 1578.9l2.1-4.4 2.8-4 2.7-2.3 2.7-.9 46-.3 6.2-1.3 4.8-3.6 4.1-5.2 4.2-7.4 4.1-9.7M676.4 1735.5l2.8-4.4 3.4-2.6 2.8-.5 15.1-.6 4.8-1.8 4.1-2.9 4.8-5.1 4.8-7.1 4.8-9.1 4.8-11.1M750.6 1623.7l2.7-6.4 2.8-4.4 2.7-2.7 2.8-1.1 45.3-.4 4.1-.6 3.4-1.3 4.8-3.6 4.8-5.8 4.8-8.3 4.1-9.1M694.3 1762.8l3.4-7.8 3.4-4.3 3.5-1.8 6.8-1.3 4.2-1.4 4.1-2.7 3.4-3.3 4.1-5.3 3.5-5.5 7.5-16M762.9 1640.4l2.1-4 2.7-3.7 2.1-1.6 2.7-1 44-.4 4.1-.6 4.1-1.5 5.5-4.1 4.8-5.9 5.5-9.4 4.8-10.7M701.1 1774.1l3.5-7.8 3.4-4.5 3.4-2.3 7.6-2.5 4.1-2.1 4.1-3.2 3.5-3.8 6.8-10.7 7.6-16.5M767 1655l2.8-6 2.7-4.3 2.8-2.6 2.7-1.2 5.5-.7 37.8-.1 4.8-.7 4.8-2.1 5.5-4.4 5.5-7 4.8-8.5 5.5-12.6M683.3 1937.5l8.2-18.2M727.2 1785.4l4.8-8.3 10.3-12.1 4.8-7 4.8-8.9 5.5-12.7M776.7 1679.2l3.4-7.8 2.7-4.5 2.8-2.9 3.4-1.9 6.2-.8 35.7-.3 5.5-1 4.8-2.2 5.5-4.4 4.8-5.9 5.5-9.3 4.8-10.4M883.8 1559.7l4.8-9.5 2.7-2.8 3.4-1.6 5.5-.6 44.6 0 2.1-.4 2.8-1.9 2.7-3.5 5.5-11.4M690.2 1937.5l8.2-15.6M734.1 1794.9l4.8-8.9 10.3-13.6 4.1-6.2 8.3-16.6M783.5 1686.6l2.8-5.5 2.7-4 2.8-2.5 3.4-1.6 6.2-.7 33.6-.3 6.2-1.1 4.8-2.2 6.2-5 5.5-7 5.5-9.6 5.4-12.4M890.6 1568.2l2.1-4.1 2.7-3.8 2.8-2.3 3.4-1.3 5.5-.5 40.5 0 4.1-.8 3.4-2.1 3.5-3.9 3.4-5.7 2.8-6M718.3 1937.5l6.2-10 4.8-10.3M759.5 1812.7l4.1-9.4 11.7-22.1 6.2-13.6M797.9 1721.9l3.5-7.5 2.7-4.3 2.8-2.7 3.4-1.8 4.8-.6 34.3-.2 6.9-1.6 5.5-2.8 6.2-5.5 6.1-8.3 5.5-10 6.2-14.2M905 1605l2.8-6.3 2.7-4.5 2.8-2.9 3.4-1.8 4.8-.6 39.1-.1 4.2-.6 3.4-1.3 4.1-2.9 4.1-4.6 4.1-6.7 4.2-8.6M767.7 1937.5l6.2-10.4 4.8-10.5M819.9 1776.9l6.2-12.6 3.4-4 3.4-2.1 4.9-.8 37-.2 5.5-1.2 5.5-2.9 6.2-5.4 6.2-7.9 6.1-10.7 6.2-13.5M932.5 1653.3l4.8-8.3 2.7-2.3 2.8-1.1 42.6-.4 4.8-.8 4.1-1.8 5.5-4.2 4.8-5.8 5.5-9.1 4.8-10.4" stroke="#6c60ff" stroke-width="1.5" fill="none" opacity=".7"/>
<path d="M289.9 1916.8l4.8-13.5 5.5-19.1 13.8-58.8 30.2-145.8 41.8-208.1M303 1931.1l4.8-13 5.5-17.8 11.6-46.4 21.3-97.7 39.2-188.3 2.7-10.4 2.7-7.4M462.2 1526.4l3.5-9 4.1-13.5 8.9-38M311.9 1925.3l4.8-12.6 4.8-15 11.7-44.5 19.9-87.8 36.4-168.5 5.5-22.5 4.8-14.3M471.2 1532.4l4.1-11.1 4.8-16 9.6-39.7M320.1 1937.5l8.3-25.6 8.9-35.8 56.3-264.1 6.9-28.5 4.8-13.8M479.4 1538.8l4.1-11.4 4.8-16 10.3-43.2M349.7 1937.5l62.4-294.4 6.9-29.8 4.8-16.3M492.4 1557.7l5.5-14.6 6.2-20.2 6.9-26.4 6.8-29.5M369.6 1937.5l54.9-276.1 7.5-34.2 6.2-21.2M498.6 1565.5l5.5-14.8 5.5-17.8 13.1-51.1M375.1 1937.5l27.4-124.7 33.7-158.4 5.4-23 4.8-15.3M504.1 1576.1l6.2-16.6 6.9-22.5 8.2-31.4 6.9-29.3M382.6 1937.5l7.6-29.3 9.6-41.9 44.6-208 5.5-21.9 4.1-12M511.7 1581l6.8-19.6 7.6-26.1 8.9-35.4 7.6-34.1M396.3 1937.5l14.5-72.6 35-168.9 8.2-37.1 5.5-19.4M517.2 1590.3l6.8-19.7 8.3-28.6 8.9-35.4 8.9-39.5M403.2 1937.5l9.6-47.3 42.6-199.2 6.2-26.7 4.8-16.3M521.3 1603.1l7.5-21.1 9-30.8 10.3-41 9.6-42.3M409.4 1937.5l18.5-78.6 36.4-166.2 4.8-19.8 3.4-11.3M527.5 1613l8.2-23.4 8.9-31.1 11.7-46.7 10.3-45.8M431.3 1937.5l6.9-23 7.6-31.2 9.6-45.9 24-121.8 5.5-23.7 4.1-12.6M538.4 1632.6l7.6-21.5 14.4-47.5M637.3 1528.9l4.1-11.7 4.1-14.2 8.3-34.8M463.6 1937.5l6.9-20.3 7.5-28.6 9.6-43.1 23.4-112.4 5.5-22.2 4.8-14.3M548.7 1651.8l6.9-19 11-36.2 4.1-11.9M650.3 1545.2l4.2-11.8 4.8-16.5 9.6-39.7M487.6 1937.5l6.9-22.4 7.6-30.8 31.5-148.2 5.5-20.3 6.2-16.9M561.8 1664.2l6.2-16.1 13-38.9M663.4 1564.6l6.2-17.5 6.1-21.5 6.9-27.5 6.9-30.8M530.9 1917.1l7.5-22 9-34 8.9-39.7 28.1-132.8 7.6-32 4.8-16.3M679.2 1596.9l7.5-20.8 8.3-28.5 9.6-38.8 9.6-43.5M570 1918.6l6.9-19.6 7.5-28.5 9.6-42.9 24.1-115 5.5-21.8 4.1-11.1M701.8 1638l7.6-21 12.3-42.2 4.8-13.4M803.4 1526.5l6.2-19.2 6.9-27.1M578.9 1916.7l6.9-20.8 7.6-29.4 30.2-141.7 4.1-17.1 3.4-11.5M708 1644.8l6.9-19.8 11-37.3 4.1-12.2M806.9 1541.6l4.8-12.7 5.5-18.5 5.5-22 4.8-22.5M587.2 1915.8l6.8-20.2 8.3-30.8 9.6-41.6 19.9-91.5 4.1-16.6 3.5-10.8M710.8 1661l8.2-22.5 12.3-41.4 4.2-12.1M815.1 1546.7l4.8-13.5 5.5-18.7 11.7-49.3M600.2 1925.3l7.6-21.1 8.2-29.2 9.6-40.1 19.2-86.8 4.2-15.6 3.4-9.7M723.8 1675l6.9-19.6 15.1-48.9M828.1 1562.9l5.5-15.6 6.2-21.5 6.9-27.8 6.8-31.5M611.2 1937.5l5.5-17.6 6.2-24.4 27.4-127.5 4.2-17.2 3.4-11.5M726.5 1692l8.3-22.2 12.3-40.4 4.2-11.7M833.6 1573.7l6.2-17.6 6.2-21.3 6.9-27.3 7.5-33.7M640.7 1937.5l6.2-18 6.9-24.4 7.5-31.3 17.9-79.1 4.1-15.5 4.1-12M739.6 1707.5l6.9-18.8 15.1-47.2M846.7 1590l7.5-21.9 7.6-26.6 8.9-36 8.9-40M703.2 1917.6l4.8-12.8 4.8-15.4 17.2-66.7 6.2-20.1M769.1 1749.7l6.2-17.2 13-40.7M873.5 1638.8l6.8-18.8 11-35.3 4.1-11.6M975.1 1534.3l4.1-11.5 4.8-16 10.3-41.4M710.8 1920.1l4.8-13.1 4.8-15.4 17.1-65 6.2-18.6M773.9 1760.4l6.9-18.5 12.3-38.3M878.3 1649.7l6.8-18.4 15.1-46.7M979.9 1546.6l5.5-14.6 5.4-18 11.7-47.4M731.3 1920.5l7.6-22 15.8-59 6.9-20.5M786.3 1774.4l5.5-14.3 13.7-39.9M887.9 1671.6l7.5-19.9 14.4-43.8M992.2 1563.8l6.2-16.7 6.2-20.5 7.5-28.9 6.9-29.4M750.6 1937.5l7.5-26.3 15.1-64.2 3.5-11.9 4.1-11.5M800 1783.4l13.7-38M898.9 1689.6l6.1-16.5 15.8-46.9M1003.2 1582.9l6.9-18.6 6.8-23 7.6-28.9 8.2-35.1M791.1 1921.8l4.8-12.5 4.8-15.3 20.6-75.3 6.2-18.9 4.8-12.5M920.1 1728.1l19.3-55.8M1024.5 1623.5l9.6-26.8 12.4-42.5M1123.3 1523.1l3.5-9.2 4.1-13.6 8.2-33.7" stroke="#ff5a64" stroke-width="1.85" stroke-dasharray="6.8 4" fill="none" opacity=".76"/>
<path d="M245.3 1937.5l89.9-469.6M254.2 1937.5l52.2-253.1 41.2-203.5M264.5 1937.5l61.8-292.9 33.7-162.3M270 1937.5l15.1-63 23.4-105.6 41.2-193.3 21.9-106.9M305.7 1920.3l5.5-15.8 5.5-19.7 13-57.2 25.4-125.2 46-233.4M315.3 1915.7l4.1-11.7 4.9-16.2 10.3-42.3 16.4-78 35-173.9 4.8-20.8 4.2-13.7M466.4 1523.7l6.1-19.6 6.2-24.9M322.9 1918.5l4.1-10.9 4.8-15.4 10.3-40.7 17.2-77.9 35-166.6 6.2-25.7 4.8-14.5M471.2 1537.5l4.1-10.8 4.8-15.7 9.6-39.6M353.8 1937.5l6.8-22.3 8.3-34.7 47.3-235.3 6.9-30.5 4.8-15.8M491.1 1562.9l6.2-16.7 6.1-20.9 6.9-27.3 6.9-30.7M362 1937.5l7.6-26.6 8.9-37.9 45.3-221.8 5.5-24.3 4.1-14.2M496.6 1573.3l6.8-18.6 6.9-23.6 7.5-30.4 7.6-34.6M371.6 1937.5l28.2-124.5 33.6-155.9 5.5-22.6 4.1-12.9M503.4 1580.1l6.9-19.2 6.9-23.5 8.2-32.6 8.9-39.5M410.1 1937.5l6.8-25.1 8.3-36.4 38.4-189 5.5-22.6 4.1-12.2M519.9 1608.1l7.6-21.3 8.9-30.9 11.7-45.9 9.6-41.7M420.4 1937.5l6.1-24.2 7.6-34.6 36.4-182 5.5-22.7 4.8-13.3M524.7 1619l8.2-23.4 9.7-33.6 13-52.1 9.6-42.8M424.5 1937.5l9.6-30.5 8.2-31.9 11-49.1 25.4-121.6 4.8-19.2 4.1-12M531.6 1627.3l8.2-23.7 11-38.9 2.7-7.9M630.4 1527.4l6.9-19.4 6.9-25.8M434.8 1937.5l6.8-22.3 8.3-32.1 11.7-50.6 24.7-112.7 4.8-19.3 4.1-12.9M536.4 1639.8l8.2-22.9 13.7-45M638 1535l4.1-11.1 4.1-13.2 8.9-35.3M443.7 1937.5l6.2-20.8 6.8-27 36.4-160.7 4.8-19.1 3.5-10.9M542.6 1646.8l6.1-17.5 11.7-38.3 4.1-11.5M644.2 1543.7l4.8-13.5 5.5-18.7 10.9-45.7M479.4 1937.5l36.4-176.7 7.5-32.2 5.5-17.5M553.5 1665.7l6.9-18.2 11-34.8 4.1-11.3M657.9 1561.2l5.5-15.4 6.2-21.1 6.8-27.1 6.9-30.4M506.9 1926l4.1-10.6 4.1-12.8 8.2-31.7 8.3-37.7 18.5-90.8 8.9-38.7 13.1-45.6 7.5-23.8 4.2-11M668.9 1580.5l6.8-20 6.9-24.3 8.2-33.7 7.6-34.3M516.5 1920.9l7.5-21.1 7.6-27.4 8.9-38.3 28.1-130 11-42.7 8.3-25.8M673 1595.3l7.5-20.6 7.6-26 9.6-38.7 9.6-43.5M523.3 1937.5l6.9-20.5 7.6-28.7 9.6-42.4 31.5-147.5 9.7-38.3 3.4-11 2.7-6.8M679.9 1601.8l6.8-19.4 7.6-26.1 8.9-35.7 9.6-42.3M542.6 1937.5l17.8-99.1 20.6-106.6 11.7-53.8 4.1-15.4 3.4-9.6M685.4 1611.7l7.5-21.3 8.2-29 9.7-39.1 10.2-46.6M547.4 1937.5l45.3-219.6 7.5-33.6 4.8-16.9M690.2 1622.8l8.2-23.2 9.6-34.1 11.7-48.2 11-50.5M558.3 1937.5l13.1-66.5 29.5-143.8 6.9-30.8 5.5-18.9M695.6 1632.7l8.3-23.1 12.3-43.6 4.2-11.2M791.8 1531.5l6.8-20.5 8.3-34.4M568.6 1937.5l42.6-205.9 6.9-29.3 5.5-16.8M703.2 1639.5l7.6-21.7 10.2-35.3 4.2-12.4M802.1 1536.1l4.1-10.9 4.1-13.2 8.9-35.3M588.6 1937.5l37-190.4 6.9-30.6 5.5-18.1M706.6 1654.4l8.3-22.5 12.3-41.3 4.1-11.7M811 1539.8l4.8-14.1 4.8-16.8 10.3-43.5M624.3 1937.5l6.8-20.1 6.9-24.9 8.9-36.9 21.3-93.6 4.1-15.4 4.1-11.1M728.6 1690.3l7.6-21.1 14.4-45.5M832.9 1580l6.9-19.1 6.9-23.4 8.2-31.9 8.9-38.2M650.3 1937.5l6.9-19.5 7.6-27.2 7.5-32.3 15.1-70.2 6.9-25.5M738.2 1713.4l6.9-18.5 13-41.6 4.8-12.9M845.3 1597.5l7.6-21.5 8.2-28.9 10.3-41.5 8.9-39.9M662.7 1937.5l5.5-25.9 24.7-107.4 4.8-19.1 3.4-11M745.1 1720.7l6.8-19 15.1-46.7M852.2 1604.8l7.5-21.7 8.3-28.8 10.3-40.8 10.3-45.2M691.5 1919.3l4.8-14.3 4.8-17.5 19.3-81.8 3.4-11.5 3.4-8.8M757.4 1736.4l5.5-15.1 13.8-42.1M861.8 1627.8l8.2-22.6 13.8-45.5M957.9 1528l3.4-10.1 4.1-14.8 8.3-36.9M698.4 1921.9l4.8-12.6 4.8-15.7 18.5-75.7 4.2-14 3.4-9M761.6 1749.6l6.1-16.2 11.7-35.8 4.1-11M868.6 1634.7l6.2-17.1 11.7-38.2 4.1-11.2M964.8 1537.7l4.1-11.4 4.8-16.6 9.6-42.2M729.3 1917.2l7.5-22.5 15.8-60.7 6.9-21.3M781.5 1767.6l16.4-45.7M885.8 1662.4l5.5-15.3 13.7-42.1M984.7 1564.1l6.1-17 6.2-21.3 7.6-30.6 6.2-28.5M778.7 1916.6l4.8-13.4 4.8-16 20.6-77.3 5.5-17.7 5.5-15.3M910.5 1715.6l6.2-16.2 11.7-35.2 4.1-10.9M1014.9 1609.1l8.2-22.9 8.9-30.8 10.3-41.2 11-48.7" stroke="#6c60ff" stroke-width="1.85" stroke-dasharray="6.8 4" fill="none" opacity=".76"/>
</g>
<path d="M240.4 1943.3H1133.0" stroke="#7f7fff" stroke-width="2.4" fill="none"/>
<path d="M247.4 1938.5H1133.0" stroke="#ff6a6a" stroke-width="2.4" fill="none"/>
<path d="M196.0 1968.3V1441.8" stroke="#cfcfcf" stroke-width="2.2" fill="none"/>
<path d="M195.0 1441.8H1180.3" stroke="#adadad" stroke-width="2.2" fill="none"/>
<path d="M1179.3 1440.8V1968.3M195.0 1968.3H1180.3" stroke="#6e6e6e" stroke-width="2.1" fill="none"/>
<path d="M240.5 1967.3v4.5M377.8 1967.3v4.5M515.1 1967.3v4.5M652.4 1967.3v4.5M789.7 1967.3v4.5M927.0 1967.3v4.5M1064.3 1967.3v4.5M197.0 1465.2h-4.5M197.0 1532.7h-4.5M197.0 1600.2h-4.5M197.0 1667.6h-4.5M197.0 1735.1h-4.5M197.0 1802.6h-4.5M197.0 1870.0h-4.5M197.0 1937.5h-4.5" stroke="#6a6a6a" stroke-width="2" fill="none"/>
<text transform="translate(161.40,1425.20) scale(1.1244,1)" font-size="46.00">Pre-guidance permeability-40% Flow-1800veh/h</text>
<text transform="translate(56.55,1621.60) rotate(90) scale(0.3986,0.4440)" font-size="100">Location(m)</text>
<text transform="translate(631.00,2071.00) scale(1.0589,1)" font-size="42.00">Time(s)</text>
<text transform="translate(113.35,1491.63) scale(1.0890,1)" font-size="35.20">350</text>
<text transform="translate(113.35,1557.93) scale(1.0890,1)" font-size="35.20">300</text>
<text transform="translate(113.35,1624.13) scale(1.0890,1)" font-size="35.20">250</text>
<text transform="translate(113.35,1690.13) scale(1.0890,1)" font-size="35.20">200</text>
<text transform="translate(113.35,1756.53) scale(1.0890,1)" font-size="35.20">150</text>
<text transform="translate(113.35,1822.73) scale(1.0890,1)" font-size="35.20">100</text>
<text transform="translate(122.93,1889.43) scale(1.0890,1)" font-size="35.20">50</text>
<text transform="translate(132.52,1956.03) scale(1.0890,1)" font-size="35.20">0</text>
<text transform="translate(212.42,2021.53) scale(1.0890,1)" font-size="35.20">0</text>
<text transform="translate(329.83,2021.53) scale(1.0890,1)" font-size="35.20">50</text>
<text transform="translate(467.25,2021.53) scale(1.0890,1)" font-size="35.20">100</text>
<text transform="translate(603.45,2021.53) scale(1.0890,1)" font-size="35.20">150</text>
<text transform="translate(738.35,2021.53) scale(1.0890,1)" font-size="35.20">200</text>
<text transform="translate(893.85,2021.53) scale(1.0890,1)" font-size="35.20">250</text>
<text transform="translate(1030.65,2021.53) scale(1.0890,1)" font-size="35.20">300</text>
</g>
<g>
<path d="M1414.6 1440.3V1960.5M1553.0 1440.3V1960.5M1691.4 1440.3V1960.5M1829.8 1440.3V1960.5M1968.2 1440.3V1960.5M2106.6 1440.3V1960.5M2245.0 1440.3V1960.5" stroke="#d9d9d9" stroke-width="1.5" fill="none"/>
<path d="M1369.0 1463.8H2355.7M1369.0 1530.6H2355.7M1369.0 1597.5H2355.7M1369.0 1664.4H2355.7M1369.0 1731.2H2355.7M1369.0 1798.1H2355.7M1369.0 1864.9H2355.7M1369.0 1931.8H2355.7" stroke="#cacaca" stroke-width="1.6" fill="none"/>
<g>
<path d="M1430.5 1931.8l6.2-14.8 6.3-20.3 6.2-25 7.6-35.4 18-94.2 50.5-276.4M1447.1 1931.8l3.5-4.4 2.8-4.8 6.2-15.6 6.2-21.4 6.9-29.3 13.9-68.2 62.2-322.3M1463 1931.8l8.3-14.6 7-17.2 7.6-25.2 8.3-33.6 10.4-47.1 15.9-76.6 50.5-251.5M1470.7 1931.8l3.4-2.1 2.8-2.9 2.7-4.1 3.5-6.8 6.9-18.9 6.9-24.8 8.4-35 11-50.6 44.3-212.4 2.8-10.8 2.7-8 2.1-4.5 2.8-4 2.8-2.3 2.7-1.1 5.6-.5 44.3 0 2.7-.7 2.8-2 2.8-3.5 2.7-4.8 6.3-15.8 6.2-22 6.9-30M1481.7 1931.8l3.5-1.6 2.8-2.5 2.7-3.8 3.5-6.4 6.2-16.4 6.9-24.5 14.6-64.8 42.9-209.1 5.5-23.7 4.2-13.4 4.1-8 2.1-2.1 2.7-1.4 47.1-.4 4.2-1 4.1-3.2 3.5-4.4 2.7-4.9 7-17.3 6.9-24 7.6-32.5M1494.2 1931.8l4.8-6.5 4.9-9.4 4.1-10.6 4.9-15.4 11.7-47.2 19.4-90.6 7.6-21.7 47.1-116.7 11-26.1 6.3-13 4.1-6.4 3.5-2.9 4.1-1.3 9.7-.7 5.6-2.7 5.5-6.3 4.8-8.9 4.9-12.1 5.5-17.5 6.2-23.9 6.3-27.4M1528.8 1931.8l2.7-5.1 3.5-8.2 6.9-22.5 7.6-31.6 16.6-78.1 7-30 6.2-21.8 8.3-23.9 34.6-86.7 4.8-11.2 4.2-8 3.5-4.7 4.1-3.2 3.5-1.1 11-1.7 6.3-3.3 6.2-6.8 6.2-10.8 6.3-15.1 6.9-21.6 7.6-28.7 8.3-36M1599.4 1931.8l4.1-7.9 4.2-10.9 4.8-16.1 4.9-19.3 9.6-44.9 25.6-128.5 5.6-24.8 4.8-18.6 4.2-12.4 3.4-7.2 3.5-4.9 10.4-10 5.5-7.2 6.2-11.3 5.6-13.2 6.9-20.3 7.6-26.5 9.7-37.8 9-38.6M1619.4 1931.8l4.9-8.3 4.8-12.1 4.9-15.7 5.5-21.7 10.4-48.9 23.5-122.1 9-39.1 6.9-21.4 15.2-32.9 9-24.1 11.8-40 5.5-13.5 4.9-15.2 6.2-24 6.2-28.2M1626.4 1931.8l5.5-6.5 4.8-9.1 5.6-14.5 5.5-18.7 11.8-50 24.9-122.8 8.3-37.8 8.3-30.3 12.4-34.4 1.4-2.6 13.2-12.7 31.8-30.3 14.5-12.9 4.9-3.5 4.1-2 11.8-1.4 2.8-1.8 2.7-3 5.6-9.6 5.5-14.2 6.2-21.2 6.3-25.8M1652.6 1931.8l5.6-9 4.1-8.4 4.2-10.5 4.8-15 9.7-36.8 18-79 5.5-18.6 6.3-16.1 13.1-27.5 15.9-29.9 28.4-56.1 11.8-22 9-15.5 4.8-7 4.2-4 3.4-1.7 9-2.3 5.6-3.6 4.8-5.6 4.2-7 5.5-12.7 6.2-18.5 6.2-22.6 7-29M1668.6 1931.8l4.8-4.4 4.9-7.5 4.8-10.7 4.8-13.9 9.7-35.4 20.8-87.9 6.2-21.3 6.2-16.5 6.3-12.9 18-33 27-53.6 15.9-28.1 4.8-6.4 4.2-3.5 3.4-1.5 10.4-2.5 5.5-3.4 5.6-6 5.5-9.2 6.9-16.3 7.6-23.7 8.3-31.5 8.4-36.1M1687.2 1931.8l4.9-4.2 4.8-7.4 4.2-9.2 4.8-13.9 9-33.2 20.8-88.8 5.5-19 5.6-14.8 5.5-11.5 17.3-31.8 23.5-46.9 13.9-24 4.8-6.2 4.2-3.5 4.1-1.9 10.4-2.8 6.2-3.6 6.2-6.6 6.3-10.4 7.6-18.1 7.6-23.7 9-33.8 9.7-41.9M1703.9 1931.8l3.4-6.3 3.5-8.1 7.6-23.8 7.6-30.2 18.7-82.8 5.5-20.4 5.6-15.9 6.2-13.6 15.2-28.4 20.8-41.3 7.6-14 6.2-10 4.9-6 4.1-3.4 4.2-1.9 11-3.2 6.9-4.2 7-7.9 6.2-11 8.3-20.5 9-29.3 10.4-40.8 9.7-43.9M1744.7 1931.8l4.1-6.6 4.2-9.5 4.1-12.3 4.9-17.4 8.3-35.7 25.6-120 7.6-30.3 6.2-20.1 7-16.3 3.4-5.9 4.2-5.4 3.4-3.1 3.5-2.1 14.5-4.2 6.9-4.1 4.2-4.1 3.4-4.5 7.7-13.7 9-23.1 9-29.8 11.7-45.9 11.1-49M1751.6 1931.8l5.5-6.9 4.9-9.2 4.8-12.6 4.9-15.9 10.4-42.8 26.9-127.2 7.7-28.2 3.4-9.7 3.5-7.8 4.1-6.6 4.2-4.3 4.8-2.8 12.5-3.3 5.5-2.5 6.2-5.1 6.3-8.1 6.2-11.4 6.9-16.9 17.3-54.8 2.8-5.8 3.4-4.4 3.5-1.9 4.2-.6 47.7-.1 2.8-.9 3.4-3 4.9-7.4 5.5-13.2 5.5-18 5.6-22.2M1773.7 1931.8l3.5-6.9 4.2-10.7 8.3-28.2 9.7-40.3 26.9-121 6.3-22.9 4.8-12.6 3.5-5.6 3.4-3.2 3.5-1.7 9-2.2 4.8-1.7 4.9-3 5.5-4.9 22.2-25.8 47.7-60.1 9.7-11.1 3.5-2.8 3.4-1.6 9.7-1.2 3.5-1.1 3.4-2.3 3.5-3.7 3.4-5.3 3.5-6.9 6.9-18.9 6.9-24.8 8.3-35.6M1786.9 1931.8l2.8-1.2 2.7-2.2 5.6-7.8 5.5-12.3 5.5-16.7 5.6-20.5 5.5-23.5 23.5-110.9 4.9-18.4 4.1-11 2.8-4.5 2.8-2.7 2.7-1.5 9-2.3 4.9-2.2 5.5-4 5.6-5.5 24.9-30.1 41.5-54 8.3-9.3 3.4-2.7 3.5-1.7 11.1-1.6 4.8-1.8 4.9-3.6 4.1-4.9 4.2-6.8 3.4-7.1 8.3-22.7 9-32.7 9-39.4M1799.4 1931.8l5.5-7.8 4.8-9.6 4.9-12.8 4.8-15.8 10.4-42.2 21.5-99.8 4.1-15.6 4.2-11.1 2.7-4.6 2.8-2.7 2.8-1.5 8.3-2.6 4.1-2 4.9-3.4 5.5-5.5 28.4-35.1 36.6-47.8 8.3-9.6 4.2-3.4 3.5-1.7 11.7-1.9 4.9-1.7 4.8-3.5 4.9-5.6 4.1-6.7 4.2-8.7 8.3-22.9 9-32.4 9.6-41.9M1818.7 1931.8l4.2-7.1 4.1-9.7 4.2-12.1 4.8-17 9-38.7 19.4-95.3 4.2-16.1 4.1-11.3 2.1-3.8 2.7-3.3 12.5-7.9 8.3-8.2 59.5-77.2 9.7-11.5 4.2-3.6 4.1-2.1 12.5-1.8 5.5-2 5.5-4.2 5.6-7 4.1-7.3 4.2-9.1 9-25.8 9.7-36.2 10.3-46.5M1825.6 1931.8l4.9-8.1 4.1-9.2 4.2-11.6 4.1-14.1 9-37.3 19.4-91.9 3.5-13.2 3.4-8.2 4.2-7.5 3.5-4.6 12.4-10.6 6.9-7.5 54.7-71.6 10.4-12.6 4.8-4.4 4.2-2.4 4.1-1 9.7-1.1 5.5-2.1 6.3-5.1 5.5-7.5 4.9-9.1 4.1-9.7 9-26.9 10.4-39.5 11.1-49.8M1833.3 1931.8l4.8-4.9 4.2-7 4.1-9.8 4.9-14.7 9.6-38.1 18.7-86.1 4.9-17.6 4.8-12.5 2.8-4.8 2.7-3.5 10.4-9.2 6.3-6.9 52.5-69.3 11.1-13.4 4.2-3.6 4.1-2.3 4.2-1.1 10.4-1.2 5.5-2.1 6.2-5.1 6.2-8.4 4.9-9.2 4.1-9.8 9.7-29.1 11.1-42.2 12.5-55.6M1842.9 1931.8l4.9-4.1 4.8-7.6 4.2-9.4 4.8-14.1 9-34.1 20.1-89.5 4.1-14.7 4.2-10.7 4.2-6.8 15.2-16.4 18.7-25.5 33.2-43.2 8.3-9.9 4.8-4.3 4.2-2.3 4.1-1 10.4-1 6.2-2.3 6.3-5.1 6.2-8.3 4.8-9 4.2-9.6 9.7-28.5 11-41.1 12.5-53.3M1861.6 1931.8l4.9-3.7 4.1-6 4.2-8.6 4.8-13.3 9-32.6 20.1-86.6 5.5-17.4 5.6-10.9 15.2-18.6 15.9-21.8 28.4-36.8 9-10.5 4.8-3.9 4.2-1.9 13.8-1.5 6.2-2.1 6.3-4.4 5.5-6.5 6.9-11.9 6.2-14.5 7.7-22.3 11-38.4 2.8-6.8 2.8-4.5 2.7-2.4 3.5-1 51.9-.1 2.1-.4 2.7-1.6 2.8-2.9 2.8-4.2 5.5-12.3 5.5-17.1 6.3-24.2M1872.7 1931.8l4.8-7.3 4.2-8 4.2-9.9 4.1-12 9-31.9 19.4-78.9 5.5-16.8 5.5-11 54-70.6 9-10.5 4.2-3.4 3.4-1.8 4.2-1 9.7-.5 4.1-.8 4.9-1.9 4.8-3.4 4.2-4.3 5.5-7.5 58.1-71 17.3-20.1 4.2-3.7 3.4-2 2.8-.6 6.9-.2 3.5-1.1 3.4-2.4 2.8-2.9 6.2-10.5 6.3-15.7 6.9-23 7.6-30.7M1905.2 1931.8l4.9-3.7 4.1-5.3 4.2-7.6 4.8-11.7 8.3-26.7 18.7-71.8 5.5-15.5 5.6-10.5 38-49.4 10.4-12.1 4.2-3.5 4.1-2.2 4.2-1 10.4-.6 4.8-.9 5.5-2.2 5.6-3.9 7.6-7.6 11.7-14.3 21.5-26.9 32.5-42.5 8.3-9.8 4.2-3.8 4.1-2.3 11.8-2 4.8-1.7 4.9-3.3 4.1-4.5 4.2-6.3 4.1-8.1 4.2-9.9 4.8-13.8 10.4-36.5 10.4-43.9M1916.3 1931.8l4.2-3.1 4.1-5.2 4.2-7.7 4.1-10 8.3-26.6 13.9-54.2 4.8-17.1 5.5-15.1 5.6-10.4 35.3-45.6 5.5-6.6 4.8-4.7 4.2-2.8 4.1-1.5 13.9-1.3 6.2-1.5 6.2-3.4 7-6.1 7.6-8.9 25.6-32.3 36-46.9 9-10.2 3.4-2.7 4.2-2.1 11.7-2.1 4.9-1.8 4.8-3.3 4.9-5.3 4.1-6.3 4.2-8.1 4.1-9.8 4.9-13.5 9.7-33.1 11-45M1962 1931.8l3.4-2.5 3.5-4.7 3.5-6.7 3.4-8.8 6.9-23.1 11.8-48.6 4.8-17.8 5.6-15 3.4-6.4 3.5-5 16.6-19.9 7.6-6.8 3.5-1.8 3.4-.9 12.5-.7 6.2-1.1 6.2-2.9 5.6-4.2 8.3-9.2 18.7-25.7 42.2-54.6 8.3-9.8 4.8-4.3 4.2-2.3 4.1-1.3 11.1-1.6 6.2-2.7 7-5.9 6.2-8.6 4.8-9.1 5.6-13 10.3-31.1 13.9-51.1 13.8-58.5M1972.4 1931.8l7.6-13.5 6.2-15.9 6.2-20.8 12.5-47 4.8-15.3 5.6-12.8 6.2-9.6 12.4-14.5 4.2-3.9 3.5-2.3 6.2-2.2 12.4-.7 5.6-1.1 6.2-2.6 5.5-4 9-9.8 20.1-27.9 40.8-52.7 8.3-9.7 4.9-4.1 4.1-2.3 4.2-1.2 10.4-1.6 4.8-1.7 4.8-3 4.9-4.7 7.6-11.2 6.9-14.6 8.3-22.6 12.5-39.9 3.4-7.7 3.5-4.8 3.5-2.2 4.8-.8 47.1-.1 2-.7 2.8-2.2 4.9-7.5 4.8-11.9 5.5-18.4 5.6-22.4" stroke="#ff5a64" stroke-width="1.4" fill="none" opacity=".66"/>
<path d="M1443.7 1931.8l2.7-2.4 2.8-4 2.8-5.3 3.4-8.8 6.3-21 6.9-29.8 14.5-73.8 58.1-310.8M1453.4 1931.8l3.4-2.7 3.5-4.3 3.4-6.2 3.5-7.9 6.9-20.8 8.3-32.1 22.2-102.9 58.8-289.6M1476.9 1931.8l5.5-11.8 5.6-15.7 5.5-19.1 6.9-27.5 19.4-87.4 40.8-195.2 3.5-14 3.4-10.6 2.1-4.7 2.8-4.3 2.7-2.4 2.8-1.1 48.5-.4 2-.4 2.8-1.6 4.8-5.9 5.6-11.5 5.5-16.4 6.2-23.5M1483.8 1931.8l5.5-9.9 4.9-11.4 4.8-14.5 4.9-17 11-45.9 23.6-108.7 2-7.4 8.3-18.2 40.2-82.9 18.7-37.8 9-17 4.1-6.4 3.5-3.6 2.7-1.5 7-2 4.1-2.9 4.2-5.1 3.4-6.2 4.9-11.5 4.8-14.9 4.9-18 5.5-24.3M1501.8 1931.8l4.1-6.2 4.2-8.7 4.1-11.4 4.2-13.8 9.7-38.4 22.1-96.8 4.9-17.4 5.5-15.9 5.5-13.2 19.4-40.2 30.5-66.9 9.7-19.5 4.1-6.2 3.5-3.4 2.7-1.6 8.3-3.5 4.9-3.5 4.8-6 4.9-8.9 5.5-13.8 5.5-17.5 6.3-23.4 6.9-29.6M1508.7 1931.8l4.9-5.3 4.1-7.1 4.2-9.8 4.8-14.6 9.7-37.1 22.8-99.3 4.2-14.6 6.9-19.1 9-21.3 37.4-82.8 13.1-27.1 4.2-6.2 3.4-3.5 3.5-2.2 9-4 4.8-3.7 5.6-7 4.8-9.1 6.2-15.8 6.3-20 6.9-26.4 6.9-29.9M1517 1931.8l4.9-2.9 4.8-6.2 4.8-9.9 4.9-13.7 9.7-36 18-79.8 6.2-25.3 6.2-20.7 8.3-22.8 9.7-23 26.3-58.7 8.3-17.9 5.6-10.5 4.1-6.1 3.5-3.5 3.4-2.3 9.7-4.6 5.6-4.5 5.5-7.3 4.8-9 6.3-15.5 6.9-21.9 7.6-28.8 8.3-35.8M1536.4 1931.8l5.5-6.3 4.9-8.6 4.8-11.8 4.9-14.8 9-34.3 22.1-96.7 6.9-24.7 6.9-20 7.7-18.1 24.2-52.8 6.2-13 4.8-8.7 3.5-4.7 4.2-3.9 13.1-6.3 6.2-4.7 6.3-7.8 6.2-11.6 6.9-17.5 7.6-24.6 8.3-32.1 9-39.3M1546.8 1931.8l4.8-4.8 4.9-7.9 4.8-11.2 5.5-16.6 9.7-37.2 22.9-101.3 6.2-22.9 6.9-20.3 7.6-18 18.7-40.1 6.2-12.7 4.2-7 3.4-4.5 4.2-3.6 13.1-5.8 6.3-4.5 6.9-8.6 6.2-11.5 7.6-19.3 8.3-27.1 9.7-37.8 9.7-43M1559.9 1931.8l4.9-5 4.8-8.6 4.9-12.2 4.8-15.5 9-35.7 24.2-108.9 6.2-23.2 7-21 6.2-15.4 9.7-21.2 7.6-15.4 5.5-9.2 3.5-4.1 3.4-2.9 13.9-6.3 6.2-4.5 6.9-8.5 7-12.6 8.3-21.2 8.3-27.2 9.6-37.3 10.4-45.1M1580 1931.8l3.4-6.7 4.2-10.7 7.6-26.7 8.3-36.7 22.9-110.6 6.9-28 6.2-20.3 4.8-12.8 5.6-12.5 4.8-9.4 4.9-7.4 3.4-3.9 3.5-2.6 13.1-5.7 7-4.9 4.1-4.5 3.5-4.9 6.9-13 8.3-21.4 9-29.6 10.4-40.2 11-48.2M1586.9 1931.8l4.2-6.5 3.4-7.5 4.2-11.4 4.1-14 9-37.2 20.1-95.6 8.3-36.5 8.3-29.5 4.1-11.5 4.9-10.9 4.8-8.3 4.9-5.8 4.8-3.4 11.1-4.5 5.5-3.3 6.3-6 5.5-7.9 5.5-10.6 5.6-13.4 6.9-20.5 10.4-35.4 2.7-6.6 3.5-5 2.8-1.9 4.1-.9 51.2-.1 2.8-1.1 2.8-2.6 4.8-8 5.5-14.4 5.6-19.7 5.5-24M1605.6 1931.8l4.8-7.3 4.9-10.8 4.8-14 4.9-17 10.3-43.6 27.7-128.2 6.9-26.6 5.6-14.9 2.8-4.6 2.7-2.8 11.8-6.2 6.2-5.3 7.6-10 47.1-56 18.7-22 9-9.7 3.4-2.9 3.5-1.8 9-.7 3.4-1 3.5-2.3 2.8-2.9 6.2-10.6 6.2-16.1 6.2-21 7-28.1M1636.7 1931.8l2.8-1.3 2.1-1.8 2.7-3.6 2.8-4.9 4.9-11.5 5.5-17.4 10.4-41.8 28.3-128.7 7.7-28.4 6.9-19 4.1-7.9 4.9-6.7 18-20.8 41.5-51.1 9.7-11.2 4.1-3.7 3.5-2 3.4-.8 7.7-.7 4.8-1.6 4.2-3.1 4.1-5 6.2-11.2 7-17.9 6.9-23 8.3-32.5M1647.1 1931.8l3.5-2.3 2.7-2.8 5.6-8.8 5.5-13.1 5.5-17.2 11.1-44.2 26.3-121.3 2.8-11.2 3.4-8.5 14.6-28 14.5-23.7 13.2-17.9 32.5-40.4 6.9-7.4 4.8-3.5 4.2-1.4 9.7-1.3 5.5-2.4 4.9-4.1 4.8-6.6 6.9-13.8 7.6-21.2 8.3-29.4 8.3-34.8M1659.6 1931.8l5.5-9.5 4.8-10.5 4.9-13.2 4.8-15.8 11.1-44 22.8-102.2 4.9-17.9 4.8-12.1 14.6-28.8 12.4-20.9 11.1-15.1 31.1-38.6 7-7.4 4.8-3.4 4.1-1.3 10.4-1.2 5.6-2.3 5.5-4.9 4.8-6.7 7-13.9 7.6-21.1 8.3-28.9 9-36.6M1667.2 1931.8l5.5-9 4.2-8.4 4.1-10.7 4.2-12.9 11-42.2 25-108.6 4.8-14.1 9-21.1 11.8-24.2 10.3-17.4 9.7-13.1 31.2-38.3 5.5-5.7 4.8-3.2 4.2-1.3 10.4-1.1 5.5-2.3 5.6-4.6 5.5-7.6 7.6-15.6 8.3-23.7 9-32 9.7-40M1674.8 1931.8l2.8-1.3 2-1.8 4.2-5.7 4.8-10.4 4.9-14.2 10.4-39.6 24.9-109.1 7.6-25.7 8.3-21.5 8.3-16.5 10.4-16.4 9-11.8 31.1-37.9 4.8-4.6 4.9-2.9 4.1-1 9.7-.8 6.3-2.5 6.2-5.6 5.5-8 4.2-8.1 4.1-9.8 9-26.8 11.1-40.7 10.4-44.2M1710.1 1931.8l4.8-4.5 4.9-7.6 4.8-11 4.9-14 10.3-38.4 18.7-80.7 6.9-27.8 7-22.4 3.4-8.4 4.2-7.8 6.9-9.3 14.5-16.5 16.6-20.1 6.3-6.4 3.4-2.4 4.2-1.7 12.4-1.1 4.9-1.3 4.8-2.6 4.9-4.3 5.5-7.3 4.8-8.7 4.9-10.8 6.9-17.8 36-34.7 18-16.6 9-7.1 6.2-2.6 10.4-.7 2.1-1 2.7-2.4 4.9-7.2 5.5-12.7 4.9-14.9 5.5-20.8M1719.8 1931.8l5.5-4.1 4.9-6.9 4.8-10.3 4.8-13.6 10.4-38 25.6-109.7 6.3-20.3 3.4-8.4 3.5-6.4 5.5-7.5 13.2-14.5 15.9-19.2 5.5-5.4 3.5-2.4 4.1-1.5 12.5-1.2 4.8-1.1 4.9-2.5 4.8-4.2 4.9-5.9 4.1-6.8 4.8-9.8 7.7-17.8 5.5-9.3 6.9-7.7 31.8-29.8 12.5-11.2 7.6-5.5 5.6-2.1 11-1.1 3.5-1.9 3.4-3.2 5.6-8.6 6.2-14.6 6.2-19.7 7-27.1M1731.5 1931.8l5.6-8.9 4.8-9.8 4.2-10.5 4.8-14.7 10.4-38.8 22.8-97.1 6.3-20.1 5.5-11.8 5.5-7.5 12.5-13.1 14.5-17.5 5.6-5.3 3.4-2.1 3.5-1.2 12.4-.8 4.9-1.1 5.5-2.7 4.9-4.1 4.8-5.9 4.8-7.9 13.9-30.3 5.5-9.2 5.6-6.1 13.1-11.6 21.5-20.2 10.3-9.1 6.3-4.1 4.8-1.6 9-.6 3.5-.8 4.1-2.3 3.5-3.3 3.4-4.7 3.5-6.2 6.2-14.9 6.9-22 7.7-29.7M1766.8 1931.8l4.9-3.6 4.8-7.1 4.9-10.4 4.8-13.8 9.7-36.2 21.4-95 6.3-20.9 6.2-14 4.2-6.5 4.8-6 5.5-5.8 4.9-3.9 3.4-1.8 3.5-1 12.5-1 5.5-1.3 6.2-3.3 5.6-4.8 5.5-6.3 6.9-9.6 25.6-40.2 8.3-12.1 9.7-11.8 11.8-11.4 9-7.5 6.2-3.7 4.8-1.5 11.1-1.4 4.9-1.8 4.8-3.5 4.1-4.6 4.2-6.2 4.2-8 4.1-9.8 4.8-13.7 9.7-33.7 10.4-43.9M1778.6 1931.8l5.5-9 4.2-8.4 4.1-10.5 4.9-14.7 9-33.8 20.7-89 5.6-18.1 5.5-12.4 6.9-9.5 4.9-4.6 4.1-2.8 6.2-2.3 11.8-.8 5.5-1 5.6-2.5 5.5-4 6.2-6.6 7.7-10.4 33.2-52.4 6.2-8.1 6.9-7.7 12.5-11.4 9-6.7 6.2-2.6 11.8-1.5 4.8-1.4 5.5-3.3 5.6-5.8 4.8-7.4 4.2-8.2 4.8-11.7 4.9-13.9 10.3-36.6 11.1-46.9M1790.4 1931.8l6.9-15.8 6.9-21.7 8.3-32.4 20.1-87.4 5.5-18.7 5.5-12.5 6.3-8.4 4.1-3.6 4.2-2.6 6.2-2 11.8-.7 5.5-1 5.5-2.4 4.9-3.5 5.5-5.5 6.2-8.2 32.6-51.9 8.3-11.5 7.6-8.6 11.7-10.8 9.7-7.2 7-3 11.7-1.3 5.6-1.6 5.5-3.5 5.5-6 4.9-7.5 4.1-8.2 9-23.6 10.4-36 11.1-46M1824.3 1931.8l3.4-4.2 4.2-8 3.4-8.9 4.2-13.3 7.6-30.7 18-83.5 4.8-18 4.2-10.8 2.1-3.4 2.7-2.7 3.5-1.3 8.3-1.2 4.1-1.6 5.6-3.6 5.5-5.5 9.7-13.3 20.8-34.9 9.7-15.1 9-12 8.9-9.4 11.8-9.9 8.3-5.4 6.2-2.1 12.5-1.4 6.2-2.3 6.3-5 5.5-7 4.8-8.4 4.9-10.6 4.8-12.7 5.6-16.9 13.1-47.9 13.2-55.6M1842.3 1931.8l4.1-3.8 3.5-5.4 3.4-7.6 4.2-11.6 8.3-30.5 18-77.8 4.1-13.3 4.2-8.6 2.1-2.6 2.7-2.3 9-4.1 4.2-2.7 4.1-3.6 4.2-4.8 8.3-12.2 17.3-30.1 9-14.6 9-12.5 8.3-9.4 11.7-10.4 10.4-7 6.2-2.3 16-2.5 4.8-2.2 4.2-3.1 4.8-5.1 4.8-7.1 11.1-22.7 63.7-60.4 9.7-8.3 8.3-5 2.7-2.5 4.9-7.9 5.5-14.1 5.6-19.2 5.5-23.2M1852.6 1931.8l4.9-8.3 3.4-7.3 7-18.9 7.6-27.1 16.6-68.1 4.1-12.6 3.5-6.8 2.1-2.7 2.7-2.3 8.3-4.3 4.2-2.8 7.6-8.1 7.6-11.6 15.9-28.9 8.3-13.8 9-12.8 8.3-9.5 11.8-10.5 11.1-7.4 6.9-2.5 11.1-1.3 4.8-1.1 4.9-2.2 4.1-3 4.2-4.2 11.7-15.1 20.8-24.4 31.1-34.8 21.5-21.5 5.5-4.6 7.6-4.9 4.2-4 3.4-4.8 3.5-6.3 6.2-15.6 6.9-23.2 7-28.4M1860.2 1931.8l9-16.5 7-18.2 7.6-26 15.2-60.4 4.2-12.3 3.4-6.8 4.9-5.2 12.4-8.1 6.9-7.6 7.6-11.9 14.6-27.3 7.6-13 8.3-12.1 9-10.5 11.8-10.4 11-7.4 6.9-2.6 16.7-2.6 4.8-2.1 4.8-3.5 5.6-6 20.7-26.4 38.8-43.8 21.4-21.8 6.3-5.3 9.7-6.8 4.8-4.9 4.2-5.9 3.4-6.5 6.9-17.2 7.6-25.5 7.7-31.5M1874.8 1931.8l4.1-2.1 4.2-4.5 3.4-5.9 4.2-9.6 7.6-24.3 14.5-57.5 4.2-12.2 3.5-6.6 4.1-4.7 11.8-8.7 6.2-7.5 6.9-11.5 13.2-26.4 6.2-11.2 7.6-11.2 9-10.5 11.8-10.4 11.7-7.7 6.9-2.4 12.5-1.5 4.8-1.1 5.6-2.5 4.8-3.6 9-9.7 32.5-40.9 23.6-26.9 19.4-19.7 6.2-5.4 11.7-8.6 6.3-6.5 4.1-6.2 4.2-7.8 8.3-21.4 9-31.2 9-38.1M1886.5 1931.8l4.9-5.9 3.4-5.6 7-15.9 6.9-22.2 12.4-46.9 5.6-14.7 4.8-7.3 11.8-10.4 6.9-8.7 6.9-12 15.3-30.8 9.6-15 6.3-7.4 6.9-6.7 8.3-6.6 7.6-5.1 4.8-2.3 4.2-1.4 13.1-1.6 5.6-1.4 5.5-2.6 4.9-3.6 8.3-9 28.3-36.6 25.6-29.5 21.5-21.9 20.1-16 7.6-9.1 4.1-7 4.2-8.7 8.3-22.6 9-31.9 9-38.5M1904.5 1931.8l3.5-2.1 3.5-4 3.4-5.9 3.5-7.9 6.2-18.8 11.8-42.9 5.5-14.3 4.2-6.5 10.3-10.6 6.3-8.4 6.2-11.4 13.8-29.5 4.2-7.2 4.8-6.8 5.6-6.2 6.9-6.2 8.3-6.2 7.6-4.8 8.3-3.1 13.2-1.5 5.5-1.2 5.5-2.5 5.6-4 9-10 23.5-32.1 27-31.2 22.8-23.5 22.2-17.8 4.1-4.4 4.2-5.6 4.8-8.4 4.8-10.4 9-25.4 10.4-37.5 11.1-48M1930.1 1931.8l4.9-7.8 5.5-13 14.6-47 5.5-14.5 4.1-7.8 14.6-22.2 15.9-32.6 7.6-12.2 4.8-5.3 5.6-4.8 9-6.3 7.6-4.5 8.3-3 13.8-1.5 5.6-1.3 5.5-2.5 5.5-4.1 4.9-4.8 4.8-6.1 22.2-31.9 22.8-26.3 13.8-15 11.8-11.7 24.9-20.4 4.9-5.3 4.1-5.7 5.6-9.6 4.8-10.4 9.7-26.9 11.1-39.1 12.4-52" stroke="#6c60ff" stroke-width="1.4" fill="none" opacity=".66"/>
<path d="M1455.4 1931.8l8.3-15.8M1567.5 1713.9l16.6-39M1614.6 1599.5l6.2-13.7 4.9-7.3 4.8-3.3 11.8-1.7 3.4-1.4 2.8-1.8 3.5-3.4 3.4-4.7 6.2-12.4M1577.9 1708.8l16.6-39.3M1619.4 1607.9l6.3-13.4 4.8-6.8 4.8-3.1 12.5-1.6 3.5-1.3 3.4-2.4 4.2-4.3 3.4-5 7-14.1M1627.7 1632.7l6.3-13.5 5.5-8.4 2.8-2.4 2.7-1.5 13.2-2.6 3.4-1.4 3.5-2.3 4.2-4.1 3.4-4.7 7.6-14.6M1636.7 1634.9l5.6-10.7 4.8-5.3 4.9-2.3 9-1.6 4.1-1.3 4.2-2.3 3.4-2.8 6.9-8.9 7-13.5M1644.3 1638.1l4.2-7 4.1-3.7 3.5-1.3 9-1.2 4.2-1.2 4.1-2.1 4.2-3.4 4.1-4.8 4.2-6.3 4.1-8.1 4.2-9.7M1636 1931.8l6.3-10.4 4.8-10.3M1696.9 1707.2l9-16.1 40.9-69.1 35.3-57.9 4.1-5.7 3.5-3.3 2.7-1.4 8.3-2 4.9-3.4 5.5-7.3 4.9-9.8M1644.3 1931.8l6.3-10.1 4.8-9.9M1696.9 1749.6l16.6-35.3 31.9-64.1 20-38.4 17.3-30.7 6.3-9.6 4.1-4.6 3.5-2 10.4-3 5.5-4.3 6.2-8.9 5.6-11.9M1661 1931.8l6.2-10.9 4.8-10.6M1719.1 1739l7.6-16.3 18.7-34.7 29-57.4 18.7-33.5 4.9-6.8 4.1-3.8 3.5-1.7 10.4-2.5 6.2-4.3 3.4-4 3.5-5.3 6.2-13M1681.7 1931.8l5.5-11.6M1737.1 1741.5l6.2-13.5 18-32.9 25.6-51 15.2-26.9 4.9-6.4 4.1-3.7 4.2-2 11-3 3.5-1.9 3.5-2.8 4.1-4.8 3.5-5.3 6.9-14.5M1771 1734.3l6.2-13.5 25.6-50.2 7.6-14 6.3-9.8 4.8-5.8 4.1-3.2 4.2-1.8 11.8-3.4 4.1-2.3 3.5-2.8 4.1-4.6 4.2-6.1 7.6-15.5M1827 1688.2l4.9-10.5 2.7-3.9 2.8-2.7 4.9-2.6 10.3-2.6 4.9-1.9 4.8-3 4.2-3.9 59.5-73.4 20.1-23.4 3.4-3.1 3.5-2 3.4-.9 7.6-.5 4.9-2.2 2.8-2.6 2.7-3.7 4.9-9.1M1780 1931.8l8.3-17.2M1843.6 1701.2l3.5-6.8 4.2-4.6 3.4-1.8 9-2.3 4.9-2.1 4.8-3.2 5.5-5.1 9.7-10.7 13.9-16.8 51.2-65.2 4.1-4 4.2-2.6 3.4-1 9.7-1.4 3.5-1.5 2.7-2 4.2-4.4 3.5-5.2 6.9-14.7M1854 1931.8l6.2-10.5 4.9-10.5M1906.6 1755.8l5.5-9.3 14.6-16.6 18.7-25.4 36.6-47 4.9-4.7 4.8-2.9 4.2-1.2 12.4-1.5 4.2-1.5 4.1-2.6 4.9-4.7 4.1-5.5 4.2-7.2 4.1-8.7M1884.5 1931.8l5.5-12.5M1931.5 1770.6l3.5-6.9 3.4-5.2 13.2-16 36.7-48.2 7.6-9 4.1-3.6 4.2-2.3 4.1-1 9.7-.3 4.9-.8 5.5-2.3 4.8-3.6 27-31.3 56.1-70.1 4.1-4.1 3.5-2.2 3.5-1 9-.6 3.4-1.3 2.8-1.9 3.4-3.5 3.5-5 6.2-12.7M1890.7 1931.8l8.3-16.6M1937.8 1780.3l4.1-8.8 4.8-7.5 12.5-15.4 31.8-41.8 8.3-10 4.9-4.4 4.1-2.4 4.2-1 10.4-.5 4.8-.9 5.5-2.3 5.6-4.2 10.4-11.1 16.6-19.8 54.6-69.5 4.2-4 4.1-2.6 3.5-.8 9.7-1.1 3.5-1.5 2.7-2 3.5-3.6 3.4-5 7-14.3M1897.6 1931.8l6.2-9.6 4.9-9.9M1944.7 1788.6l4.1-9.1 5.6-8.8 40.1-51.9 9-10.8 4.8-4.5 4.2-2.5 4.8-1.3 10.4-.6 5.5-1.1 5.6-2.6 6.2-4.9 9.7-10.4 15.9-19.1 53.3-68.3 4.8-4.9 4.2-2.6 3.5-1.1 10.3-1.5 3.5-1.4 3.5-2.5 4.1-4.5 3.5-5.2 3.4-6.6 4.2-9.7M1975.8 1794.7l3.5-6.7 4.8-7.2 27.7-34.8 6.2-7.1 4.9-4.1 4.1-2.2 4.2-1 11-.6 5.6-1 6.2-2.7 6.2-4.8 9-10 59.5-77.3 9-10.9 4.9-4.6 4.1-2.5 4.2-1.3 11.8-2 4.1-1.9 3.5-2.4 4.1-4.2 4.2-5.7 7.6-14.7M1983.4 1803l4.2-8.7 4.8-7.5 29.8-36.5 4.8-4.3 4.2-2.2 4.8-1.3 11.1-.6 5.5-1.1 6.3-2.7 6.2-4.8 9-10.1 58.1-75.8 9-11 4.8-4.8 4.9-3.2 4.1-1.5 12.5-2.3 4.1-1.8 4.2-3 4.8-5.2 4.2-6 4.1-7.7 4.9-11.1M1991 1807.9l4.2-8.5 4.8-7.3 22.9-27.9 6.9-7 4.1-2.7 4.2-1.5 14.5-1.2 6.3-1.5 6.2-3.3 6.2-5.3 6.9-8 17.3-23.4 49.9-63.9 4.8-4.8 4.8-3.2 4.2-1.4 13.1-2.5 4.2-1.9 4.1-3 4.9-5.2 4.1-6 4.2-7.6 4.8-10.9" stroke="#ff5a64" stroke-width="1.5" fill="none" opacity=".7"/>
<path d="M1464.4 1931.8l6.3-11.1 4.8-11M1552.3 1721l52.6-114.5 15.9-32.8 4.2-6.7 3.4-3.8 2.8-1.8 9-3.7 4.8-3.9 4.9-6.7 4.8-9.7M1529.5 1931.8l6.2-11 4.8-11M1595.9 1707.1l33.2-73.9 10.4-20.4 3.5-4.9 4.1-4.1 3.5-2 9.7-4.3 6.2-5 6.2-8.2 6.2-12.2M1681 1684l2.8-6.1 3.4-5.2 3.5-3 11.1-7 9-9.1 21.4-25 52.6-64 4.2-3.8 3.4-1.9 11.8-1.8 5.5-2.8 3.5-3.5 2.8-3.8 6.2-12.1M1686.6 1931.8l8.3-16.1M1750.2 1710.7l7.6-16.3 9-14.5 8.3-10.9 31.2-37.8 5.5-5.5 4.9-3 4.1-1.1 11.8-1.2 3.4-1.3 3.5-2.1 4.1-3.9 4.2-5.5 7.6-14.6M1694.2 1931.8l6.2-10.7 4.8-10.5M1760.6 1710l6.2-12.4 6.9-10.5 38.1-46.1 4.9-4.6 4.8-2.9 4.1-1.1 12.5-1.6 4.2-1.7 3.4-2.3 4.9-5 4.1-5.9 4.2-7.6 4.1-9.3M1701.8 1931.8l6.2-10.2 4.9-10.2M1765.4 1719.1l5.6-12.1 6.2-9.8 38.8-46.5 4.8-4.6 4.8-2.8 4.2-1.1 12.5-1.3 4.1-1.6 4.2-2.8 4.8-5 4.2-6 4.1-7.6 4.2-9.1M1739.8 1931.8l7.7-11.5 6.2-13.4M1800.7 1734.3l3.5-6.8 4.1-6 13.2-14.3 11.8-13.9 4.8-4.7 3.5-2.3 4.1-1.5 12.5-1 5.5-1.3 5.5-2.8 4.9-4.1 4.8-5.5 4.9-6.7 29-45 7.7-10.2 7.6-9 15.9-15.8 12.4-10.2 7-3 12.4-1.5 3.5-1.4 2.7-2 4.2-4.3 3.5-5 3.4-6.4 4.2-9.6M1806.3 1747.1l4.1-9.3 4.9-7.5 27-29.8 3.4-2.4 4.2-1.8 13.8-1.4 5.5-1.4 5.6-3 4.8-4.1 10.4-12.7 31.1-47.6 7.7-10.4 6.9-8.2 14.5-14.3 11.1-8.7 6.2-2.7 13.8-2.2 6.3-3.5 4.1-4.2 3.5-4.9 4.1-7.7 3.5-7.8M1849.2 1757.6l5.5-11.2 3.5-4.2 3.4-2.7 3.5-1.6 3.5-.8 12.4-.8 6.2-1.3 6.3-3.1 5.5-4.5 4.8-5.4 5.6-7.5 29.7-48.3 7.6-11 7-8.4 12.4-12 12.5-9.3 6.9-2.8 11.1-1.2 4.1-1 4.2-1.9 3.4-2.4 4.9-5 4.1-6 4.2-7.5 4.8-10.8M1880.3 1766.6l2.8-4.5 2.8-2.6 3.4-1.5 8.3-2.1 4.2-2 4.8-3.6 5.5-5.8 9-12.9 27.7-46.1 8.3-11.6 8.3-9.5 11.8-10.5 10.4-7.2 6.9-2.5 14.5-2.1 4.2-1.6 4.1-2.7 4.9-4.8 4.1-5.6 4.9-8.6 4.1-8.9M1867.9 1931.8l6.2-9.8 4.8-9.8M1909.4 1807.6l2.7-5.6 3.5-4.6 13.8-9.7 7.7-8.6 6.9-11.2 13.1-25.6 6.9-12.3 7.7-11.4 8.3-10.1 11.7-10.9 12.5-8.6 7.6-2.9 12.5-1.5 4.8-1.1 5.5-2.7 5.6-4.3 6.9-7.7 29.7-37.1 27.7-31.5 20.1-20.3 6.2-5.4 10.4-7.5 4.8-4.7 6.3-9.2 6.2-13.4M1899 1931.8l5.5-11.9M1932.2 1831.1l4.9-7.9 12.4-11.5 6.9-8.9 6.3-11 16.6-34.2 5.5-8.7 6.2-7.6 12.5-11.4 13.1-8.8 8.3-3.1 12.5-1.4 5.5-1.2 6.3-3 5.5-4.3 7.6-8.5 24.9-33.2 28.4-32.7 20.8-21.2 6.9-6 12.4-9.4 6.3-6.2 6.9-10.2 6.9-14.4M1919.8 1931.8l2.7-6.5M1947.4 1848.4l5.6-9.9 11-12.8 6.3-9 5.5-10.2 14.5-30.6 4.9-7.9 4.8-6 4.9-4.8 6.9-5.6 7.6-5.3 6.2-3.6 8.3-2.9 13.2-1.4 5.5-1.3 6.3-3 6.2-5 8.3-9.8 14.5-20.9 7.6-10.1 27.7-31.8 21.5-22.1 7.6-6.6 13.1-10 6.9-6.9 4.2-5.6 4.1-6.8 7.7-16.4M1968.9 1856l4.8-9.8 13.9-23.2 14.5-29.3 4.2-6.7 4.1-5.2 9.7-8.2 14.5-8.9 8.3-2.8 13.2-1.4 6.2-1.4 6.2-3 6.3-4.9 9-10.7 14.5-22.1 6.9-9.5 21.5-24.6 14.5-15.8 11.1-11.1 8.3-7.3 15.2-11.7 6.9-7 8.3-12 7.6-15.7M1979.3 1859l4.8-10.5 22.2-42.4 4.8-8.1 4.8-6.1 9-7.6 14.6-8.6 8.3-2.8 13.1-1.4 6.3-1.4 6.9-3.4 6.2-5 9-10.9 19.4-29.3 12.4-15 21.5-23.5 11.7-12.1 10.4-9.3 16.6-13 7.6-7.9 4.9-6.7 4.1-7 8.3-17.9M2214.6 1587.2l35.2-33.7 9-7.9 6.3-4.7 4.1-2.1 3.5-.8 18.7-.4 3.4-1.4 2.8-2.6 2.8-4 5.5-11.8" stroke="#6c60ff" stroke-width="1.5" fill="none" opacity=".7"/>
<path d="M1415.3 1931.8l92-457.8M1443 1931.8l5.5-18 5.5-21.2 14.6-65.3 27.7-136.8 44.2-225M1463.7 1916l5.6-15 5.5-19 6.2-25.5 7-31.7 22.8-113.6 47.7-244.8M1509.4 1931.8l6.9-19.8 8.3-30.4 9-38 13.9-62.6 5.5-22.2 6.9-23.5 7.6-21.4M1584.1 1674.9l30.5-75.4M1661.6 1549.8l5.6-15.2 5.5-18.6 6.2-24.4 6.3-27.4M1519.8 1931.8l6.9-22.5 6.9-26.7 22.2-98.4 6.9-28.5 6.9-24.2 8.3-22.7M1594.5 1669.5l24.9-61.6M1669.3 1555.9l5.5-15.3 6.2-21.1 6.2-24.5 7-30.7M1541.9 1931.8l34.6-148.6 11.1-42.7 6.2-20.3 6.9-19.7 27-67.8M1680.3 1577.2l6.3-16.5 6.9-22.5 8.3-31.5 7.6-32.3M1564.8 1931.8l27.6-130.4 17.3-76 7.7-30 6.9-24.6 6.9-21.5 5.5-14.4M1686.6 1586.2l7.6-20.3 7.6-25 9.7-36.6 9-38.2M1583.4 1931.8l22.9-126.1 17.3-89.1 11.7-51.4 4.9-16.4 4.1-10.7M1694.2 1589.3l6.9-19.8 7.6-26 9-35 9.7-41.6M1647.1 1911.1l7.6-21.7 9-33.3 11.1-48.3 20.1-93.7 2-6.9M1816 1531.2l4.1-10.9 4.9-15.4 10.3-41.1M1655.4 1911.8l6.9-18.9 7.6-26.8 9.7-40.9 14.6-67.6 2.7-8M1824.3 1536.8l4.8-13.5 4.9-16.3 10.3-42.8M1672 1910.3l6.3-17.7 6.9-24.3 23.5-98.6 4.8-16 5.6-14.7M1835.3 1555.7l5.6-15.3 6.2-21.2 6.9-27.4 6.2-28M1687.2 1920.2l6.3-16.4 6.2-20.5 6.9-26.6 18.7-78.2 6.2-21.7 5.6-15.3M1847.8 1572.8l6.2-17.3 6.9-23.4 8.3-32.8 7.7-33.8M1726.7 1931.8l16.6-85.8 11.8-56.6 8.3-33.1 7.6-22M1865.1 1601.3l7.6-20.9 7.6-25.7 9-35 9.7-42.2M1766.1 1931.8l8.3-23 8.3-30.3 9.7-41.7 23.6-108.6 6.2-24.7 4.8-15.3M1979.3 1536.2l4.8-12.7 4.9-15.9 9.6-40.6M1788.3 1914.6l7.6-21.4 7.6-27.1 9-37.1 22.1-97.4 4.9-18.3 4.1-12.1M1995.9 1545.8l4.8-13.8 4.9-16.3 10.3-41.9M1865.1 1910.8l5.5-15.3 5.6-19 6.9-27.9 15.2-67 4.2-14.9 4.1-10.9M2033.9 1617l9-24.4 9-31.1 11.8-47.6 10.4-47.7M1890 1919.3l5.5-15.4 6.3-20.8 21.4-86.9 4.2-14.5 4.1-11.1M2155.7 1537.7l4.2-11.2 4.8-15.7 10.4-41.3M1899 1915.2l4.8-12.8 5.6-17.7 20.7-80.5 4.2-14.2 3.5-9.7M2162 1545.8l5.5-15.5 5.5-18.6 11.8-47.9M1908.7 1912.3l4.8-12.9 4.9-15.6 18.7-71.4 7.6-23.8M2168.9 1552.7l5.5-15.8 5.6-18.8 13.1-53.3M1937.1 1931.8l5.5-16.1 5.5-19.2 20.1-79.8 4.2-13.2 3.4-8.8M2186.2 1585l6.9-18.2 7.6-24.7 9-34 8.3-35.2M1950.2 1931.8l8.3-30.3 17.3-74.3 4.2-14.5 3.4-9.7M2193.8 1589.8l6.9-19.4 7.6-25.7 9-34.5 8.3-35.6M1955.1 1931.8l11-35.2 18-68.4 6.9-20.3M2198.6 1599.9l8.3-23.3 9-30.6 11.1-42.7 9-38.8" stroke="#ff5a64" stroke-width="1.85" stroke-dasharray="6.8 4" fill="none" opacity=".76"/>
<path d="M1414.6 1931.8l54.7-305.6 28.3-161.7M1423.6 1931.8l83-456.3M1434 1931.8l94.1-464.8M1475.5 1909.7l5.5-15.9 5.6-19.5 13.1-56.3 71.3-350.8M1496.9 1931.8l7-19.5 8.3-29.2 11-44.9 20.1-87 5.5-20.8 3.5-9.4M1654.7 1537.4l4.9-12.9 4.8-15.7 11.1-44.2M1540.5 1909.8l6.3-18.2 6.9-25 20.1-87.4 6.9-27.6 6.9-22.6 8.3-21.9M1678.9 1572.1l7-18.4 6.9-23.1 7.6-29.7 8.3-36.7M1622.9 1931.8l47-207.6 6.3-24.9 4.8-15.3M1822.2 1534.9l4.1-10.7 4.9-15.2 10.4-40M1694.9 1915.7l5.5-15.1 6.2-21.2 7.6-30 22.9-96.5 6.9-24.7 6.2-17.5M1855.4 1593l7.6-20.1 8.3-27.2 10.4-39.2 9.7-40.6M1705.2 1910.6l7-19.7 6.9-24.4 29.7-121.3 6.3-20.7 5.5-14.5M1863 1599l6.9-18.8 7.6-25 9-33.3 10.4-42.1M1712.9 1911.4l6.2-17.2 6.2-21.2 29.1-118 5.5-19.8 5.5-16.1M1867.9 1608.8l8.3-23 9-30.3 12.4-47.7 9.7-41.1M1753.7 1906.9l5.5-15.9 5.6-19 26.2-107.5 4.9-17.1 4.8-13.1M1997.3 1540l4.8-13.6 5.5-18.5 10.4-41.9M1759.2 1931.8l5.6-16.3 5.5-20 26.3-114.7 4.8-18.7 4.9-15M2002.8 1551.5l5.5-15.2 6.3-20.8 6.2-24 6.2-27.2M1807.7 1931.8l29.7-132.5 6.2-24.4 5.6-17.3M2026.3 1586.9l7.6-21.3 8.3-28.1 9.7-37.6 8.3-36M1836 1931.8l6.9-18.8 6.3-21.4 6.9-28.1 15.9-70.8 4.2-15.3 4.1-10.8M2035.3 1609.9l7.6-20.4 9-29.7 10.4-39.6 10.4-43.8M1878.9 1912.2l4.2-10.8 4.8-15.1 15.9-61.5 5.6-17.2M2158.5 1539.7l4.8-13.5 5.6-18.5 10.4-42.8M1904.5 1919.9l7.6-21.3 14.6-52.1 5.5-15.4M2175.8 1566.3l5.5-15 6.3-20.3 6.2-23.5 6.9-29.3M1922.5 1925.3l6.9-19.1 13.2-44.4 4.8-13.4M2188.3 1582.1l6.9-19.3 7.6-25.7 9-35.1 8.3-36.4M1949.5 1931.8l10.4-47.2 4.8-17.2 4.2-11.4M2198.6 1603.7l8.3-22.3 9-29.9 11.1-42.8 9.7-42.3M1959.9 1931.8l10.4-45 4.8-16.5 4.2-11.3M2206.2 1609.1l8.4-21.9M2305.9 1517.8l6.2-19 6.3-24" stroke="#6c60ff" stroke-width="1.85" stroke-dasharray="6.8 4" fill="none" opacity=".76"/>
</g>
<path d="M1414.3 1936.6H2238.0" stroke="#7f7fff" stroke-width="2.4" fill="none"/>
<path d="M1422.0 1932.4H2311.0" stroke="#ff6a6a" stroke-width="2.4" fill="none"/>
<path d="M1369.0 1960.5V1440.3" stroke="#cfcfcf" stroke-width="2.2" fill="none"/>
<path d="M1368.0 1440.3H2356.7" stroke="#adadad" stroke-width="2.2" fill="none"/>
<path d="M2355.7 1439.3V1960.5M1368.0 1960.5H2356.7" stroke="#6e6e6e" stroke-width="2.1" fill="none"/>
<path d="M1414.6 1959.5v4.5M1553.0 1959.5v4.5M1691.4 1959.5v4.5M1829.8 1959.5v4.5M1968.2 1959.5v4.5M2106.6 1959.5v4.5M2245.0 1959.5v4.5M1370.0 1463.8h-4.5M1370.0 1530.6h-4.5M1370.0 1597.5h-4.5M1370.0 1664.4h-4.5M1370.0 1731.2h-4.5M1370.0 1798.1h-4.5M1370.0 1864.9h-4.5M1370.0 1931.8h-4.5" stroke="#6a6a6a" stroke-width="2" fill="none"/>
<text transform="translate(1362.50,1425.20) scale(1.1227,1)" font-size="46.00">After-guidance permeability-40% Flow-1800veh/h</text>
<text transform="translate(1236.59,1595.90) rotate(90) scale(0.3984,0.4319)" font-size="100">Location(m)</text>
<svg x="0" y="0" width="2428" height="2059.0" viewBox="0 0 2428 2059.0"><text transform="translate(1811.00,2058.50) scale(1.0589,1)" font-size="42.00">Time(s)</text></svg>
<text transform="translate(1294.75,1481.13) scale(1.0890,1)" font-size="35.20">350</text>
<text transform="translate(1294.75,1547.43) scale(1.0890,1)" font-size="35.20">300</text>
<text transform="translate(1294.75,1613.53) scale(1.0890,1)" font-size="35.20">250</text>
<text transform="translate(1294.75,1680.03) scale(1.0890,1)" font-size="35.20">200</text>
<text transform="translate(1294.75,1746.23) scale(1.0890,1)" font-size="35.20">150</text>
<text transform="translate(1294.75,1812.83) scale(1.0890,1)" font-size="35.20">100</text>
<text transform="translate(1304.33,1879.13) scale(1.0890,1)" font-size="35.20">50</text>
<text transform="translate(1313.92,1945.23) scale(1.0890,1)" font-size="35.20">0</text>
<text transform="translate(1402.12,2010.53) scale(1.0890,1)" font-size="35.20">0</text>
<text transform="translate(1519.53,2010.53) scale(1.0890,1)" font-size="35.20">50</text>
<text transform="translate(1657.05,2010.53) scale(1.0890,1)" font-size="35.20">100</text>
<text transform="translate(1792.55,2010.53) scale(1.0890,1)" font-size="35.20">150</text>
<text transform="translate(1928.65,2010.53) scale(1.0890,1)" font-size="35.20">200</text>
<text transform="translate(2083.55,2010.53) scale(1.0890,1)" font-size="35.20">250</text>
<text transform="translate(2219.65,2010.53) scale(1.0890,1)" font-size="35.20">300</text>
</g>
<g>
<path d="M254.8 2155.7V2651.2M387.6 2155.7V2651.2M520.5 2155.7V2651.2M653.3 2155.7V2651.2M786.1 2155.7V2651.2M919.0 2155.7V2651.2M1051.8 2155.7V2651.2" stroke="#d9d9d9" stroke-width="1.5" fill="none"/>
<path d="M210.0 2178.0H1167.8M210.0 2241.5H1167.8M210.0 2305.0H1167.8M210.0 2368.5H1167.8M210.0 2432.0H1167.8M210.0 2495.5H1167.8M210.0 2559.0H1167.8M210.0 2622.5H1167.8" stroke="#cacaca" stroke-width="1.6" fill="none"/>
<g>
<path d="M283.4 2622.5l3.9-9 4-12 10-39.5 75-347.7 7.3-36.2M293.3 2622.5l5.3-11.5 5.3-15.4 6-21.5 6.7-27.7 77-365.9M302.6 2622.5l2.7-2.2 2.6-3.7 5.3-11.5 5.4-16.7 6.6-26.5 14.6-68 65.1-315.3M325.2 2622.5l4-3.5 2.6-3.3 5.4-9.8 5.9-16 6-20.7 14.6-61.8 41.2-189 5.3-21.5 4-12.4 2-4.5 2.7-4.2 1.9-1.8 2.7-1.4 4-.5 39.2-.2 5.3-1.8 4.6-4.1 3.4-4.7 3.3-6.2 6.6-17.2 7.3-25.3 8-33.5M339.8 2622.5l4.7-6 4.6-9.9 5.3-15.9 5.3-20.1 9.3-41.8 39.2-189.1 6.7-28.7 5.3-17.3 4-7.5 2.6-2.6 2.7-1.3 4.6-.5 37.2-.3 6-2.2 5.3-5 4-6 3.3-6.7 7.3-19.7 8-28.8 8-34.7M375 2622.5l4.7-6.2 5.3-11.1 5.3-15.2 6-21.1 13.3-56.5 31.8-148 5.3-21.6 4-12.4 4-7.6 2-2 2-1.2 4-.6 25.9-.1 4.6-.8 4-1.8 3.3-2.6 6.7-8.3 4-7.2 4-8.9 8.6-24.8 10-36.3 11.2-47.9M397.6 2622.5l3.3-1.5 2.7-2.3 5.3-7.9 6-14.1 5.9-19.3 11.3-46.8 29.3-137.6 4.6-19.1 4-12.8 4-8 2-2.2 2.6-1.7 4-.8 20.6-.2 4-.8 4-1.8 4-2.9 3.3-3.5 6.6-10 4-8 4.7-11.4 9.3-28.5 11.2-42.3 12.7-53.6M416.9 2622.5l5.3-5.8 5.3-9.5 5.3-13.7 5.3-17.6 11.3-47.1 26.6-125.8 4.6-17.6 4.7-11.6 3.3-4.3 4-2 18.6-.6 6.6-1.5 6-3.5 6-6.4 5.9-9.5 6-12.9 7.3-20.2 11.3-36.6 3.3-7.3 3.4-4.3 3.3-1.8 4-.7 47.1-.1 4.7-1.5 4-3.4 3.3-4.6 2.6-5 6-15.3 6.7-23.2 6.6-29M432.1 2622.5l5.3-3.9 5.4-8.2 4.6-11.1 5.3-16.9 10.7-43.8 25.2-119.2 4.6-17.5 4-10 3.3-4.4 3.4-1.6 17.2-.5 6-1.6 6-3.9 6-6.8 5.9-9.9 5.4-11.5 6.6-17.9 12.6-39.3 3.3-7.2 3.4-4.2 2.6-1.7 3.3-.6 48.5-.3 5.3-1.9 4.7-4.2 4-5.8 3.3-6.5 6.6-17.7 7.3-26 8.7-37.7M442.8 2622.5l5.3-7 4-7.4 4.6-11.7 4.7-14.7 10.6-41.7 25.2-111.1 4.7-16.6 4-9.7 3.3-4.6 3.3-2 3.3-.7 11.3-.6 6-2.1 6-4.4 5.3-6.3 6-10.1 6.6-14.8 18.6-54 3.3-6.5 3.3-3.8 3.4-1.7 3.9-.6 45.2-.3 3.3-.8 3.3-1.7 5.4-5.1 3.9-6 3.4-6.5 7.3-19.5 8.6-30.5 9.3-39.2M458.7 2622.5l3.3-2.2 2.7-2.6 5.3-8.2 5.3-12.2 5.3-15.9 10.6-41 20.6-93.8 4-14.7 4-10.1 2.7-3.9 3.3-2.4 11.9-1.1 6.7-2.6 6-4.9 5.3-6.7 5.3-9 5.3-11.5 6.6-17.5 12.7-37.9 3.3-7.1 3.3-4.4 2.7-1.8 3.9-.9 46.5-.4 4-1.1 3.3-1.9 3.4-2.8 3.3-3.9 4.6-7.4 4-8.2 8.7-23.8 9.2-33.7 10.7-46.1M469.3 2622.5l6-7.9 4.7-8.7 4.6-11.6 4.7-14.4 9.9-38.9 19.3-86.5 4-14.3 3.3-8.4 2.6-4.2 3.4-2.7 2.6-.8 10-1.3 6-2.9 5.3-4.6 5.3-6.9 6-10.6 5.9-13.5 18-51.6 3.3-6.8 3.3-4.1 3.3-2 4-.7 39.9 0 5.9-.6 4-1.3 3.4-2 3.9-3.6 3.4-4.2 4.6-7.7 4-8.5 4.6-12 4.7-14.2 10.6-39.5 10.6-46.9M478 2622.5l5.9-8.8 4.7-8.8 4.6-11.4 4.7-14 10-36.6 19.2-80.6 4-13.4 3.3-8.1 2.7-4.2 3.3-2.7 10.6-2.9 6-3.2 5.3-5.2 5.3-7.4 5.3-9.8 6-13.7 17.3-49.3 3.3-6.9 3.3-4.4 3.3-2.1 4-.8 39.9 0 6-.7 3.9-1.4 4-2.5 4-3.9 3.3-4.3 4.7-7.8 4.6-10 9.3-26.2 11.3-40.9 12-50.4M485.9 2622.5l5.3-7.4 4-7.3 4-9.3 4.7-13.4 9.3-33.6 19.2-79.9 4-13.5 3.3-8.1 2.7-4.1 2.6-2.4 2.7-1.3 9.3-2.6 5.3-3.2 5.3-5.5 4.7-6.7 5.3-10 6-13.9 17.2-49 3.4-6.7 3.3-4.2 2.6-1.8 4-.9 39.9-.1 5.9-.6 4.7-1.6 4-2.7 4-3.9 3.3-4.4 4.6-7.8 4.7-10 9.3-26.1 10.6-37.8 12.6-51.9M494.6 2622.5l5.3-8.2 4-7.7 4-9.9 3.9-11.9 8.7-31.5 17.2-72 4-13.5 3.3-8 2.7-4.1 3.3-2.9 10.6-3.5 5.4-3.2 5.3-5.5 4.6-6.7 5.3-10 6-14 17.3-49 3.3-6.6 3.3-4 2.7-1.7 4-.9 39.8-.1 6-.6 4.6-1.8 4-2.7 4-4 4-5.3 5.3-9.5 4.7-10.6 9.9-29.1 13.3-49.3 12.6-54.6M509.2 2622.5l4.6-3.8 4-5.7 4-8.1 4.6-12.4 8.7-30 15.9-65.1 6-18.3 2.7-4.9 3.3-3.7 10.6-4.8 5.3-3.9 4.7-5.3 4-6.1 4.6-9 4.7-10.8 16.6-47.5 3.3-7.7 2.6-4.4 3.4-3.3 4.6-1.5 45.2-.5 5.9-2.1 5.4-3.8 3.9-4.4 4-5.8 8-15.8 8-21.4 11.3-36.2 4.6-9.6 3.3-3.2 3.3-1.1 49.9-.2 3.9-.7 3.4-2.1 3.3-3.5 2.6-4.1 6-13.2 6-18.6 6.6-25.7M529.1 2622.5l4-4 4-6.4 4-8.7 3.9-10.9 7.4-24.8 13.9-54.9 6-18.1 2.6-5.1 2.7-3.4 10-7.1 4.6-4.3 4-5.1 4-6.7 4.6-9.6 4.7-11.5 14.6-42.3 2.6-6.1 2.7-4.5 3.3-3.4 4.7-1.6 39.8-.1 5.3-.5 6-2.3 6-4.6 7.3-9.6 6.6-12.7 8-20.1 13.9-41.5 3.4-6.8 4-4.3 2.6-1.2 2.7-.3 47.1-.2 5.3-1.6 4.7-3.5 4-5.1 4-6.9 7.3-18.1 7.9-26.5 9.3-37.7M553 2622.5l4.7-5.6 3.9-6.2 7.4-16.1 6.6-20.1 12-42.6 4.6-12.9 4.7-8.4 14.6-15 3.9-5.6 4-7 8-18.4 12.6-36.4 2.7-6.2 2.6-4.6 4-3.8 4.7-1.3 37.8-.2 5.3-.4 6.7-2.5 6-4.7 7.3-9.5 6.6-12.5 8-19.7 13.9-40.7 4-7.9 4-4.2 2.7-1.2 3.9-.5 45.2-.4 6.6-2.4 6-5.1 4.7-6.3 4.6-8.6 4.7-10.9 4.6-13.1 10.6-37.5 10.7-45.6M586.2 2622.5l3.3-1.9 2.7-2.8 5.3-8.9 6-15.4 10-32.6 4.6-12.8 4.7-8.7 12.6-16 6.6-11.3 6.7-15.1 11.9-32.6 2.7-5.5 2.6-3.9 3.3-2.8 4.7-1.2 35.9-.1 5.3-.4 6.6-2.4 6-4.6 7.3-9.2 7.3-13.5 8-19.4 13.9-39.7 4-8 4-4.6 2.6-1.4 4-.7 39.9 0 6-.6 4.6-1.6 4-2.6 4-3.8 4-5.2 4.6-8 5.3-11.6 10-28.7 13.3-48.6 13.3-56.4M596.9 2622.5l5.9-8.7 5.3-11 13.3-38.9 4.7-11.5 4.6-8.3 12-16.4 5.3-9.4 6-13.3 11.9-31.6 2.7-5.3 2.6-3.9 3.4-2.7 4.6-1.4 34.5-.2 6-.5 6-2 6-4.1 4-4.3 3.9-5.4 8-14.6 7.3-17.7 14-39.3 3.3-7.2 3.3-4.7 4-3 4.6-1 43.9-.5 6-1.9 5.3-3.5 4-4.2 3.9-5.5 8-15.4 8.6-23.2 10.7-35 2-4.8 2.6-4.4 3.3-3 4.7-1.3 49.1-.1 2-.4 2-1.2 4.7-5.6 5.3-11.5 5.3-16.5 6-23.7M604.2 2622.5l5.9-5.8 5.3-9.1 5.4-12.8 9.3-27.5 3.9-10.1 4-7.8 10.7-15.9 5.3-9.4 5.9-13.3 10.7-27.7 2.6-5.5 2.7-3.9 3.3-2.8 4-1.1 41.2-.4 5.9-2 6-4.3 4-4.2 4-5.5 8-14.8 7.9-19.5 13.3-37.9 3.3-7.2 2.7-4 3.3-2.8 4.7-1.3 45.1-.3 6-1.9 6-4.2 4-4.4 4-5.7 7.9-15.8 7.3-19.4 11.3-35.9 2.7-6.5 2.6-4.6 3.4-3 3.3-1 49.1-.2 3.3-.6 3.4-2 3.3-3.4 2.6-3.9 6-12.6 6.7-20.2 6.6-25.8M612.8 2622.5l3.3-1.3 2.7-2.3 5.3-8.2 4.6-11.1 9.3-27.9 4-10.4 4-8.1 13.9-24 5.4-11.8 9.9-25.3 2.7-5.3 2.6-3.8 3.4-2.7 3.9-1.1 35.9-.1 5.3-.4 6.7-2.5 5.9-4.7 7.3-9.3 6.7-12.1 8-18.9 15.2-42.7 4-7.6 4-4 2.7-1.2 3.3-.4 43.8-.3 6.7-2.1 6.6-5 7.3-9.6 6.6-12.8 8-20.5 12.6-38.7 3.4-7.2 3.9-4.8 2.7-1.4 3.3-.4 47.2-.2 4.6-1.4 4-3 3.3-4.1 3.4-5.6 3.3-7.2 4-10.8 7.9-27.4 7.3-31.3M624.7 2622.5l5.4-8.9 3.9-8.3 12-32.1 4.6-11.1 15.3-28.2 14.6-34.3 2.7-4.9 2.6-3.5 3.4-2.2 3.3-.7 41.2-.3 6.6-2.4 6-4.7 7.3-9.4 7.3-13.6 8-19.2 14.6-41.1 4-7.7 3.3-3.7 2.6-1.3 3.4-.5 45.1-.3 6.7-2.2 6-4.6 7.3-9.6 7.3-14.2 7.3-18.6 13.3-40 3.3-7.2 3.3-4.1 2.6-1.5 3.4-.5 47.8-.2 5.3-1.8 5.3-4.6 4-5.7 3.3-6.4 7.3-18.8 8-27.4 9.3-38.6M631.4 2622.5l2.6-1.8 2.7-2.8 5.3-9 4-9.5 13.3-36.2 13.9-28.4 11.3-26.1 2.7-5 2.6-3.6 3.4-2.4 3.3-.7 41.8-.3 6-2.1 6-4.5 7.3-9.3 7.3-13.5 8-19 15.2-42.8 3.4-6.5 3.9-4.4 2.7-1.2 2.7-.3 45.8-.3 6-1.9 5.9-4.4 7.3-9.4 7.3-13.9 8-20.2 13.3-39.6 3.3-7.1 3.3-4.1 2.7-1.5 3.3-.5 47.8-.2 6-2.1 5.3-4.9 4-5.8 3.3-6.3 8-20.8 8.6-29.8 10-41M641.3 2622.5l5.4-5.4 5.3-9.4 18.6-48.3 17.9-40.2 3.3-6.1 2.7-3.5 3.3-2.5 4-1 36.5-.1 5.3-.5 6-2.2 6-4.7 6.6-8.4 7.3-13.3 8-18.8 15.3-42.4 4-7.7 4-4.2 2.6-1.2 4-.5 43.8-.3 6.7-2.2 5.9-4.5 7.4-9.6 6.6-12.6 8-19.7 13.2-39 4-8.4 3.4-4.1 3.3-1.8 4-.6 45.8-.3 6-2.1 5.9-5.2 4-5.7 4-7.4 8-20.5 8.6-29.1 10.6-42.3M659.3 2622.5l5.3-7.3 5.3-10 23.3-58.3 5.3-11 4.6-6.7 3.3-2.5 4.7-1.3 37.2-.1 6-.8 3.9-1.5 4-2.5 4-3.7 3.3-4 6-9.4 6-12.1 6.6-16.4 14-38.9 3.3-6.9 3.3-4.5 3.3-2.3 3.4-.8 43.1-.2 5.3-.9 5.4-2.6 4.6-3.8 4-4.7 4-6 4.6-8.6 8.7-20.6 14.6-41.9 3.3-6.8 3.3-4.2 2.7-1.7 4-.9 46.5-.5 3.3-.9 3.3-1.7 6-5.4 4.6-6.6 4.7-8.9 4.6-11.2 4.7-13.4 11.3-39.6 11.9-49.5M667.3 2622.5l5.9-8.6 4.7-8.5 5.3-12.3 15.9-41.1 4.7-9.2 4-5.1 3.3-2.3 4-1 37.2-.1 5.9-.6 4-1.4 4-2.3 4-3.5 3.3-3.9 6-9.1 6.6-13.3 6.7-16.5 13.3-37.4 4-8.5 3.3-4.4 3.3-2.2 4-.8 40.5 0 5.3-.5 4-1.2 3.3-1.9 6.7-6 6.6-9.6 6.6-13.2 7.3-18.6 12.7-36.6 3.9-8.5 3.4-4.2 2.6-1.7 4-.9 46.5-.4 3.3-.9 3.3-1.7 3.4-2.5 3.3-3.6 4.6-6.8 4.7-9 4.6-11.2 5.3-15.4 11.3-40.1 13.3-55.7M675.9 2622.5l5.3-8 4.6-8.8 18-45.4 4-7.9 4-5.2 3.3-2.2 4-1 37.8 0 5.3-.5 4-1.3 4-2.4 4-3.4 3.3-3.9 6-9 6-11.8 7.3-17.9 13.9-39.1 4-8.1 3.3-4.1 2.7-1.6 4-.9 45.8-.4 4-1.1 3.3-1.8 6.6-6 6.7-9.5 6.6-13.1 7.3-18.4 13.3-38.2 3.3-7.1 3.4-4.4 3.3-2.2 3.3-.6 46.5-.3 3.3-.9 3.3-1.6 3.3-2.5 3.4-3.4 5.3-7.8 4.6-9.1 5.3-13 5.4-15.7 12.6-45 13.9-58.3M691.2 2622.5l2.6-1.3 2.7-2.1 5.3-7.5 5.3-11.4 10-26.2 2.6-5.1 3.3-3.8 2.7-1.4 2.7-.4 43.1-.4 4-1.2 3.3-1.8 6.7-6.1 6.6-9.6 6.7-13.1 7.3-18.1 13.9-39.5 4-8.1 3.3-4 2.7-1.5 3.3-.6 46.5-.3 6.6-2.2 6.7-5.6 6.6-9.1 6.7-12.9 7.9-19.8 13.3-38.6 4-8.4 3.3-3.9 2.7-1.5 3.3-.6 47.1-.3 6-2 6-4.9 4-5.1 3.3-5.3 6.7-14 8.6-24.2 10.6-36.5 2.7-5.8 2.6-3.2 2.7-1.5 3.3-.5 51.8-.1 2.7-.9 2.6-2.1 5.3-8 6-14.6 6-20.3 6.6-28.2" stroke="#ff5a64" stroke-width="1.4" fill="none" opacity=".66"/>
<path d="M254.8 2622.5l2.7-3.6 3.3-6.1 6-15.6 5.9-20.7 7.3-30.6 22.6-108.2 51.2-256.9M262.8 2622.5l3.3-3.3 3.3-4.8 6.7-14.6 6.6-20.7 8-31.1 23.9-109.7 53.8-259.9M325.2 2622.5l2.7-3.2 2.6-4.4 5.3-12.4 5.3-17.1 6-23.9 11.3-54.3 37.9-197.2 5.9-27.2 4.7-15.3 4-7.4 2-1.8 2.6-1.2 46.5-.3 4-.9 4-2.9 3.3-4.2 2.7-4.5 5.9-14.2 6.7-22.1 6.6-27.6M331.8 2622.5l3.4-2.5 2.6-3.1 5.3-10 6-17.2 6-22.6 13.3-62.2 36.5-187 5.3-24.1 4.7-15.8 4-7.9 2.6-2.6 2.7-1.1 3.9-.5 38.6-.1 4.6-1.3 4.7-3.7 3.3-4.3 3.3-5.9 6.7-16.7 6.6-22.7 7.3-30.8M348.4 2622.5l3.4-3.5 3.3-4.6 6-12 5.9-16.9 6.7-23.8 14.6-64.4 34.5-168.4 4.7-19.7 4-12.9 4-7.6 3.9-3.2 4-.6 33.9-.3 6-2.4 6-5.9 3.9-6.3 3.4-6.7 7.3-19.5 7.9-28.2 8.7-36.8M357.1 2622.5l6.6-8.1 5.3-10.5 6-16.7 6-21.2 15.3-66.3 33.8-161.3 4.7-19.4 4-12.7 4-7.8 2-2.1 2.6-1.5 4.7-.8 25.9 0 4.6-.5 3.3-1.1 3.4-2.1 5.9-6.4 4-6.5 3.3-6.8 8-21.8 8.6-30.9 9.3-39.7M366.4 2622.5l7.3-10.9 5.3-11.2 6-16.8 6-20.8 14.6-61.6 32.5-151.4 4.7-19.2 3.9-13 4-8.2 2-2.5 2.7-1.8 4.6-1 22.6-.1 6-.8 4-1.7 3.3-2.3 3.3-3.4 3.3-4.5 4-7 4-8.8 8-22.6 9.3-33.7 9.3-39.7M375 2622.5l6.7-10.8 5.3-12 5.3-15.5 6-21 15.2-63.6 31.9-144 4.7-18.6 3.3-10.5 4-8.2 2-2.3 2-1.3 3.3-.8 23.2-.1 5.3-.8 4-1.8 3.3-2.5 4-4.4 3.4-4.9 3.9-7.4 4-9.1 8.7-25.2 9.3-33.9 10.6-44.7M398.3 2622.5l6.6-9.2 4.7-9 5.3-14 5.9-19.9 12.7-51.3 29.9-133.5 4.6-18.2 3.3-10.4 4.7-9.3 2-2.2 2.6-1.7 4.7-1 17.9-.4 4.7-1.1 3.9-1.9 4-3.1 3.3-3.6 6.7-10.3 4-8.2 4.6-11.6 9.3-28.8 12-45.2 11.3-49.1M414.9 2622.5l5.3-6.4 5.3-9.8 5.3-13.6 5.3-17.2 12-47.5 29.2-129.4 5.3-19.6 4-10 3.3-4.7 4-2.3 17.9-.6 6.7-1.7 6-4 5.9-6.7 6-9.8 6-13.2 6.6-18.4 11.3-36.3 3.3-7.6 3.4-4.3 2.6-1.7 4-.7 48.5-.1 4-1.3 3.3-2.6 5.3-7.5 5.3-12 5.3-16.1 6-22.5M423.5 2622.5l6-6 5.3-9.1 5.3-12.9 6-18.8 11.9-48 26.6-122 4.7-17.3 3.9-10.2 3.4-4.6 3.3-2 3.3-.6 13.9-.2 6.7-1.8 6-4 5.9-6.7 6-9.8 6-13 6.6-18.1 12-37.4 3.3-7.2 3.3-4.2 2.7-1.5 3.3-.6 47.8-.2 5.4-1.7 5.3-4.7 3.3-4.6 3.3-6.1 6.6-16.6 6.7-22.2 7.3-30.2M433.5 2622.5l5.3-5.9 4.6-8.2 5.3-13.1 5.4-16.7 11.9-46.7 26.6-116.9 4.6-16.9 4.7-11.5 3.3-4.3 3.3-1.9 14.6-1 6.7-2.2 5.9-4.5 5.4-6.2 5.9-9.9 5.4-11.4 6.6-17.5 12.6-38.2 3.3-7.1 4-4.9 2.7-1.5 4-.7 45.8-.3 6-2 3.3-2.6 2.6-2.8 3.4-4.7 3.3-6.1 7.3-18.2 8-26.6 7.9-32.4M458 2622.5l6-8.3 4.7-8.6 4.6-11.3 5.3-16.1 11.3-41.9 23.3-97.4 3.9-14 4-10 2.7-4.1 3.3-2.6 3.3-.9 9.3-1.1 6-2.5 6-5.1 5.3-6.8 6-10.4 6.6-14.9 18-50.9 3.3-6.6 3.3-4 3.3-1.8 4-.6 39.8-.1 5.4-.4 3.9-1.2 3.4-1.8 3.3-2.8 3.3-3.8 4.7-7.3 3.9-8 8.7-22.9 9.3-31.9 10.6-43M482.6 2622.5l5.3-4.9 4.7-7 4.6-10.1 5.3-15 10-36.1 20.6-86.6 4-13.3 3.3-7.7 2.7-3.7 2.6-2 11.3-2.4 5.3-2.6 5.3-4.8 5.3-7.1 6-10.8 6-13.7 17.9-50.8 3.3-6.6 2.7-3.4 2.7-1.9 3.9-.8 41.9-.1 5.3-.6 4-1.4 4-2.6 4-3.9 3.3-4.3 4.6-7.6 4.7-9.7 4.6-11.7 5.3-15.7 12-42.6 12.6-52.6M491.9 2622.5l5.3-5.7 4-6.4 4.7-10.5 4.6-13.6 9.3-34.6 17.9-77.5 4-14.1 3.3-8.3 2.7-4.2 2.7-2.3 2.6-1.1 9.3-1.8 5.3-2.8 5.3-5.2 4.7-6.4 6-11.1 5.9-13.9 17.3-49.3 3.3-6.9 3.4-4.2 2.6-1.7 3.3-.6 42.5-.1 4.7-.4 4-1.3 4-2.5 3.9-3.7 4-5.1 5.3-9.1 4.7-10.1 5.3-13.9 5.3-16.3 12-43.4 13.3-56M501.9 2622.5l5.3-7.9 4-7.5 4-9.7 3.9-11.9 8.7-31.7 16.6-70.5 3.3-11.5 2.7-7.2 2.6-5 2.7-3.2 3.3-2 9.3-2.8 4.6-2.7 5.4-5.1 5.3-7.6 4.6-8.6 5.3-12 16.6-47.1 3.4-7.9 2.6-4.6 3.3-3.6 4.7-1.9 45.1-.6 6.7-1.9 6-4.3 3.9-4.5 4-5.8 7.3-14.5 8-21.2 10.6-34.4 4.7-9.7 4-3.8 4.6-1.4 47.8-.2 2-.4 2.7-1.7 2.6-3.2 2.7-4.5 5.3-13.1 6-21 6-26.2M510.5 2622.5l4-5.7 4-7.6 4-9.8 3.9-11.8 8-28.8 16-65.7 5.9-19.2 2.7-5.4 2.6-3.5 3.4-2.3 8.6-2.9 4.7-2.8 5.3-5.4 5.3-7.8 4.6-8.9 4.7-10.7 16.6-47.1 3.3-7.8 2.7-4.7 3.3-3.5 4-1.7 45.1-.5 6.7-1.8 5.9-4.1 4-4.3 4-5.6 7.3-14.1 8-20.6 11.3-35.1 3.3-7.9 2.7-4.2 3.3-2.8 4-1.2 46.5-.1 3.3-.7 3.3-1.9 3.3-3.6 2.7-4.1 5.3-11.7 6-18.6 6.6-26.1M517.8 2622.5l4-2.7 4-5.3 4-8 4.6-12.5 8-28.1 15.9-66.1 6-18.6 2.7-5.1 2.6-3.2 3.3-2.3 7.3-3.2 4-2.7 5.3-5.6 4.7-7.1 4.6-9 4.7-10.9 15.9-45.4 3.4-7.9 2.6-4.8 3.3-3.6 4-1.8 45.8-.7 6.7-2 6-4.4 3.9-4.5 3.4-4.7 7.3-13.9 7.3-18.5 12.6-38.1 3.3-7.5 3.3-4.8 3.4-2.4 3.9-.8 46.5-.4 5.4-2.2 4.6-4.7 5.3-9.2 6-15.2 6-20 5.9-24M526.4 2622.5l4.7-2.9 4-5 4-7.7 4-10.2 7.9-27.1 15.3-61.4 6-18.5 2.6-5.3 2.7-3.6 13.9-10.3 4.7-5.6 4.6-7.5 4.7-9.6 4.6-11.4 15.3-43.4 5.3-10.5 4-3.9 4.7-1.6 39.1-.1 6-.6 6-2.2 5.3-3.9 7.3-9.1 6.7-12.3 7.9-19.5 14-40.6 4-7.9 3.9-4.2 2.7-1.1 4-.6 43.2-.2 5.3-1.6 4.6-3.6 4-5.1 3.3-5.9 6.7-16.2 7.9-26.4 8.7-35.3M537.1 2622.5l4-2.2 3.9-4.9 4-7.6 4-10.4 7.3-25 14.6-59.2 5.3-16.3 4.7-8.2 13.3-11.8 4.6-6.1 4-6.9 8.6-20 14-40.2 5.3-11.2 3.3-3.8 4-1.9 45.2-.6 6.6-1.9 6.7-4.9 7.3-9.3 6.6-12.4 7.3-17.8 14.6-42.1 4-7.8 4-4 2.7-1.2 3.3-.3 43.8-.3 5.3-1.6 4.7-3.6 4-5 3.9-6.9 7.3-18 8.7-28.9 9.9-40.5M547.7 2622.5l4-3.8 4-6 3.3-6.9 4-10.4 6.6-22.4 13.3-52.8 5.3-15.9 2.7-5.3 2.6-3.9 9.3-9.4 4-4.8 6.7-11.1 7.9-18.7 13.3-38.2 5.3-10.9 4-4.1 4.7-1.6 39.1-.2 5.4-.4 5.9-2.1 6-4.4 7.3-9.1 6.7-12.2 7.9-19.3 14-40.1 4-8 3.9-4.4 2.7-1.3 4-.6 43.2-.3 5.9-2 5.4-4.3 3.9-5.2 4-7.1 4-8.9 4.7-12.9 9.3-32 9.9-41.5M564.3 2622.5l4-2 4-4.1 3.3-5.1 4-8.4 7.3-20.9 13.3-48.8 5.3-16.3 4.6-10.1 12-18.6 6-11.4 6.6-16.1 10.6-29.9 5.3-10.8 3.4-3.5 4.6-1.6 39.2-.2 5.3-.5 6-2.1 6-4.5 7.3-9.1 7.3-13.4 7.3-17.7 14.6-41.5 3.3-6.6 4-4.6 2.7-1.4 3.3-.5 43.8-.4 6.7-2.4 5.9-5.2 4.7-6.3 4.6-8.6 4.7-10.9 4.6-13.2 10.7-37.1 11.9-50.3M575.6 2622.5l3.3-2.4 3.3-3.9 3.4-5.6 3.3-7.4 6.6-19.6 12.6-47.3 5.4-16.3 4.6-10.2 10.6-17.8 5.3-10.4 6-14.4 10-27.6 4.6-9.7 4-4.3 4-1.5 40.5-.2 4.7-.5 5.9-2.2 6-4.5 7.3-9.3 6.7-12.1 7.9-19.2 14.7-41.5 3.3-6.5 4-4.4 2.6-1.3 3.3-.4 43.9-.4 6.6-2.5 6-5.1 4.6-6.4 4.7-8.5 4.6-10.7 5.4-15 11.2-39.7 12.7-53.4M586.2 2622.5l3.3-3.8 3.4-5.3 5.9-13.9 6-18.7 12-43.3 5.3-15.4 4-8.9 13.9-26.7 15.3-39.2 2.7-5.6 2.6-4.1 3.3-2.9 3.4-1.1 42.5-.3 5.3-1.1 4.6-2.3 4.7-3.9 4-4.7 4.6-7 4-7.3 8.6-20.1 14.6-41.3 3.4-6.9 3.3-4.4 2.6-1.8 4-1 40.5 0 5.3-.6 4-1.6 4-2.7 4-4 3.3-4.6 4.7-8.1 4.6-10.4 9.3-26.7 11.3-40.7 12.6-52.4M601.5 2622.5l4-2.7 3.3-3.9 3.3-5.4 4-8.5 6.7-18.9 11.9-41.7 6-18.1 23.2-55.4 3.4-6.9 2.6-4.1 3.3-3.1 4.7-1.5 43.8-.5 6-2 6-4.3 4-4.4 3.9-5.6 7.3-13.6 8-19.3 13.3-37.8 3.3-7 2.7-3.9 3.3-2.6 4-1 43.8-.4 6-1.8 5.3-3.7 4-4.3 4-5.7 8-16 8.6-23.8 9.9-34.1 2-5.1 2-3.2 3.4-3 3.9-1 51.8-.1 2.7-.6 2.7-1.7 2.6-2.8 3.3-5.1 6-13.7 6-19 6.6-26.6M612.8 2622.5l3.3-3.6 3.3-4.9 6-12.7 6-17.4 11.9-42 6.7-20.4 17.3-42.3 3.9-8.2 3.4-5 3.3-2.9 4.6-1.4 43.9-.4 5.9-2 6-4.3 4-4.3 4-5.6 7.3-13.6 8-19.3 13.2-37.8 3.4-7.1 3.3-4.6 3.3-2.2 3.3-.8 40.5-.1 5.4-.6 3.9-1.4 3.4-2 4-3.6 3.3-4 6-9.7 5.9-13 6.7-18.2 11.3-36.3 2.6-6.1 3.3-4.6 2.7-1.8 4-.8 49.8-.1 4.6-1.5 4.7-4.1 6-9.7 5.9-14.8 6-19.8 6.7-27M620.8 2622.5l3.9-3.5 3.4-4.3 3.3-6 3.3-7.6 6-17.4 13.3-46.2 6.6-20.6 10.6-27.5 4-8.3 3.3-5 4-3.6 4.7-1.4 39.2-.1 5.3-.5 6-2.2 5.9-4.5 7.3-9.2 7.3-13.3 8-19.1 14-39.1 3.9-7.9 4-4.3 2.7-1.3 4-.6 41.8-.3 6.7-2.1 5.9-4.5 4-4.5 3.3-4.9 6.7-12.7 8-20.3 12.6-38.7 3.3-7.3 4-4.9 2.6-1.4 4-.6 47.2-.1 4.6-1.2 4.7-3.2 4-4.8 3.3-5.6 6.6-15.6 8-25.9 8-32.2M630.7 2622.5l6.7-9.2 6.6-14.8 6-17.9 12.6-44.1 6.6-21.1 7.4-19.3 3.3-6.7 2.6-4 4-3.6 4.7-1.5 39.8-.2 5.3-.5 6-2.2 6-4.5 7.3-9.2 7.3-13.4 8-19.1 13.9-38.9 4-7.9 4-4.4 2.6-1.3 3.4-.5 42.5-.3 6.6-2.2 6-4.4 7.3-9.4 6.6-12.6 8-20.1 13.3-39.8 3.3-7 4-4.6 2.6-1.3 3.4-.5 47.1-.2 5.3-1.5 4.7-3.3 4-4.8 4-6.7 7.3-17.5 7.9-26 9.3-37.2M638.7 2622.5l4-2.6 4-4.8 3.3-5.8 4-9.1 7.3-22.2 17.9-64.1 4.7-12.5 4.6-7.9 3.3-2.9 4-1.2 42.5-.3 5.3-1 5.3-2.6 4.7-3.9 4-4.6 4-5.9 4.6-8.3 8.6-19.9 15.3-42.2 3.3-6.6 3.4-4.2 2.6-1.7 4-.9 43.2-.4 6-1.9 5.9-4.3 7.3-9.1 7.3-13.7 7.4-18.2 13.9-41.1 3.3-7 4-4.7 2.7-1.3 3.3-.5 47.1-.3 5.4-1.6 5.3-4 4-4.8 3.9-6.7 7.3-17.1 8-25.2 8.6-33.2M648.7 2622.5l3.9-3.1 4-5.1 3.3-5.9 4-9.3 7.3-22.3 16-57.6 4-10.7 3.9-6.7 3.4-2.7 4-1.1 37.8-.1 5.3-.4 6.7-2.4 5.9-4.6 7.4-9.1 6.6-11.9 8-18.6 15.2-41.9 4-7.4 4-4 2.7-1.2 3.3-.4 41.8-.4 6.7-2.2 5.9-4.4 7.4-9.2 7.3-13.7 7.3-18.1 13.9-40.5 3.3-6.9 4-4.8 2.7-1.4 4-.6 45.8-.3 6-1.9 5.9-4.6 4.7-6.1 4-7 4-8.8 4.6-12.4 10-33.3 9.9-40.5M665.9 2622.5l4-2 3.3-3.3 3.4-5 3.9-8.2 7.3-20.9 14-50 3.3-8.5 4-5.8 2.7-1.8 3.9-.8 39.2-.5 6.7-2.3 6.6-5 7.3-9.2 7.3-13.2 8-18.9 13.9-38.6 4-7.8 4-4.5 2.7-1.4 3.9-.6 41.2-.4 6.7-2.1 6.6-4.8 7.3-9.1 7.3-13.5 7.3-17.8 14-40.1 4-8.1 3.3-3.9 2.6-1.6 4-.8 41.2-.1 5.3-.4 4-1.2 3.3-1.9 3.3-2.6 3.4-3.7 4.6-6.9 4.7-9.1 4.6-11.3 4.7-13.3 10.6-37.3 10.6-44.4M677.9 2622.5l6.6-10.4 5.3-12.1 5.3-16 12-41.8 3.3-8.3 3.3-5.2 2.7-2 4-1 34.5 0 4.7-.4 6.6-2.5 6-4.6 7.3-9.1 6.6-11.9 8-18.4 15.3-41.8 4-7.5 4-4.1 2.6-1.2 3.3-.4 41.9-.4 6.6-2.3 6.7-5.1 7.3-9.4 6.6-12.3 8-19.5 13.9-39.8 3.3-6.7 4-4.7 2.7-1.4 3.3-.6 46.5-.4 4-1.2 3.3-1.8 6.6-6.2 4.7-6.7 4.6-8.9 4.7-11 5.3-15.1 11.3-39.4 12.6-52.7M684.5 2622.5l3.3-2 3.4-3.5 3.3-5.2 3.3-6.9 6-16.6 11.3-38 2.6-6.6 2.7-4.6 3.3-3 4-1.1 31.9-.1 5.3-.6 6.6-2.6 6-4.9 7.3-9.4 7.3-13.5 7.3-17.3 14-38.4 4-8.1 3.3-4.3 3.3-2.1 4-.7 41.8-.4 6.7-2.2 5.9-4.4 7.4-9 7.3-13.2 7.9-19.2 14-39.6 4-8 3.9-4.4 2.7-1.3 3.3-.5 45.9-.4 3.9-1.2 3.4-1.7 3.9-3.2 3.4-3.7 5.3-7.9 4.6-9.2 4.7-11.3 5.3-15.2 11.9-41.8 13.3-54.9M694.5 2622.5l3.3-1.6 2.7-2.5 2.6-3.7 3.3-6.2 6-15.7 10.6-34.3 2.7-6.2 3.3-5 2.7-2.1 4-1.1 28.5-.2 6.7-.9 3.9-1.5 4-2.6 4-3.6 4-4.8 5.3-8.2 6-11.8 6.6-16 13.3-36.4 4-8.3 3.3-4.4 3.3-2.3 4.7-1 36.5-.1 6-.6 4-1.3 3.3-1.9 4-3.1 3.3-3.5 6.7-9.5 5.9-11.6 7.3-17.9 13.3-37.5 4-8.1 3.3-4.2 3.4-2.1 3.9-.8 39.9-.1 6-.6 3.9-1.2 3.4-1.9 4-3.3 3.3-3.7 5.3-8.1 5.3-10.7 5.3-13.3 5.3-15.7 13.3-47.3 13.3-55.6" stroke="#6c60ff" stroke-width="1.4" fill="none" opacity=".66"/>
<path d="M311.3 2622.5l5.9-10.2 4.7-10.3M396.3 2266.7l2-5 2.6-4.4 2.7-2.4 3.3-1.3 53.1-.7 2.7-1.6 2.6-2.7 5.4-9.3M318.6 2622.5l5.9-9 4.7-9.4M408.9 2274.1l2-4 2.6-3.6 2.7-1.9 2.7-.9 41.8-.4 4.6-.9 3.4-2.1 3.3-3.6 6-10.8M347.8 2622.5l8-14.8M427.5 2302.1l4-7.1 2.6-2.5 2.7-1.2 4.6-.5 31.9-.1 4-.5 3.3-1.2 4-2.7 4-4.2 4-6.2 4-8M355.1 2622.5l6-10.4 4.6-10.4M432.1 2314.3l2-4.9 2.7-4.6 2-2.1 2.6-1.5 4-.5 33.2-.1 4-.7 4-1.7 4.6-3.8 4-5.1 4.7-8.2 4-9.1M365.7 2622.5l2.7-5.8M440.1 2320.4l4-7.4 2-1.9 2.6-1.2 34.6-.4 4-.5 3.9-1.6 4.7-3.6 4.6-5.7 4.7-8 4-8.8M383.6 2622.5l6-10.4 4.7-10.5M458 2342.4l2-4.6 2.7-4.3 2-2 2.6-1.5 5.3-.8 21.3-.3 4.7-1 3.9-2 4.7-3.9 4-5 4-6.6 3.9-8.3M391 2622.5l5.9-10 4.7-10.1M465.3 2348.1l4-6.3 4-2.5 4-.7 21.3-.2 4.6-1.1 4.7-2.4 4.6-4.3 4.6-6.2 4.7-8.4 4.6-10.5M409.6 2622.5l5.9-9.6 4.7-10M476 2369.9l4-7.7 1.9-2.1 2.7-1.5 4-.6 19.9-.3 4.7-1.3 3.9-2.2 4.7-4.1 4-5.1 4.6-7.7 4-8.3M555.7 2263.2l2-4.2 2-2.8 2.6-2 2.7-.8 52.4-.2 2-.4 2.7-1.8 2.6-3.1 5.4-10.5M426.2 2622.5l5.9-9.3 4.7-10M489.9 2384.7l3.3-5 3.4-2.3 3.3-.6 17.9-.3 4.7-1.4 4.6-2.7 4.7-4.4 4.6-6.2 4.7-8.1 4.6-10.2M567 2281l3.9-6.1 2.7-1.9 2.7-.8 47.8-.2 5.3-1.1 4-2.6 3.3-3.7 4-6.5 3.3-7.3M451.4 2622.5l6-9.3 4.6-9.3M509.8 2419.1l4-8.6 4-4.1 4-1.3 8-.3 4.6-.8 4.7-2 4.6-3.4 4.7-5.2 4-5.8 7.9-15.8M581.6 2311.8l4.6-7.9 2.7-2.2 3.3-1.2 44.5-.3 4-.4 3.3-1.1 4.7-2.8 3.9-4.1 4.7-7 4-8M502.5 2622.5l6-9.6 4.7-9.8M550.4 2470.6l2.6-4.8 3.3-3.5 2.7-1.5 10-3.7 6.6-5.5 7.3-10.3 7.3-15.1M608.8 2374l3.3-7.6 2.7-4.4 2.6-2.8 3.4-1.6 3.9-.5 40.6-.1 5.3-1 4.6-2.1 5.3-4.4 5.3-6.8 5.4-9.3 5.3-12M715.1 2263l2-4.1 2-2.7 2.6-2 2.7-.8 54.4-.6 2.7-1.6 2.6-2.9 5.4-9.6M519.1 2622.5l6-8.5 4.7-9M564.3 2487.2l2.7-4.7 2.6-3.1 12-7.2 6.6-6.6 6.7-10.5 6.6-14.5M620.1 2388.8l2.7-5.5 2.6-3.9 2.7-2.4 3.3-1.4 5.3-.5 37.2-.1 5.3-.8 4.7-2 5.3-4 5.3-6.3 5.3-8.7 5.3-11.2M726.4 2281.4l2-3.7 2.6-3.4 2.7-1.9 2.6-.8 46.5-.4 6-1 4-2.4 3.3-3.4 4-6 3.3-6.8M539.1 2622.5l7.9-15.3M578.9 2501.7l2.7-4.8 2.6-3.4 10.7-7.9 5.3-5.7 5.3-8.2 5.3-10.9M629.4 2408.1l2.7-6.1 2.6-4.4 2.7-2.7 2.6-1.2 44.5-.4 4.7-.8 4-1.6 5.3-4 5.3-6.1 5.3-8.6 5.3-10.9M735.7 2301l4.6-8.3 2.7-2.2 2.6-.9 47.8-.2 3.4-.4 3.3-1.1 4.6-3.1 4.7-5.4 4.6-7.9 4-8.9M546.4 2622.5l6-9.9 4.6-9.8M583.6 2514.8l2.6-5.9 3.3-5.1 3.4-3.4 8.6-7.1 6-7.1 5.3-9 5.3-11.7M634 2419.8l2.7-6.3 2.7-4.6 2.6-3 3.3-1.8 5.3-.6 38.6-.1 5.3-.9 4.6-2.2 6-5.1 5.3-6.9 5.3-9.2 6-13.3M740.3 2312.5l2.7-5.5 2.6-3.8 2.7-2.2 2.6-1 4.7-.4 41.8 0 4-.5 3.3-1 4.7-3 4.6-5.1 4.7-7.4 4-8.3M562.3 2622.5l6-9.2 4.6-9.5M596.9 2529l2.6-5.9 3.3-5.5 12-12.3 4.6-6.1 4.7-7.9 4.6-9.9M644.7 2437.1l2.6-6.2 2.7-4.5 2.6-2.8 3.4-1.7 3.9-.5 38.6 0 4.6-.8 4.7-1.9 5.9-4.7 5.4-6.4 5.3-8.8 5.3-11M750.9 2329.2l4.7-7.9 2.6-2.3 2.7-1.1 45.8-.4 4.7-.6 4-1.5 5.3-3.9 5.3-6.5 4.6-8 5.4-11.9M570.3 2622.5l6-9.3 4.6-9.2M604.8 2533l5.3-9.2 10.7-11.5 4.6-6.1 4.7-7.9 3.9-8.4M650 2446.4l2.6-6.1 2.7-4.5 2.7-2.8 3.3-1.6 4-.4 38.5-.1 4.6-.9 4.7-2.1 6-4.8 5.3-6.6 5.3-8.9 5.3-11.2M756.3 2338.1l4.6-7.6 2.7-2.1 2.6-1 45.8-.4 4-.5 4-1.5 5.3-3.7 5.3-6.3 5.4-8.9 5.3-11.7M578.3 2622.5l7.3-11.2 5.9-13M610.1 2542.4l2.7-5.5 3.3-5.3 10.6-12.1 5.4-7.4 5.3-9.7 4.6-10.6M655.3 2455.2l2.7-5.8 2.6-4.2 2.7-2.6 2.6-1.3 4.7-.6 37.2-.1 5.3-.9 4.6-2.1 6-4.8 5.3-6.6 5.3-8.9 6-12.7M758.9 2353l3.3-7.5 2.7-4.1 2.6-2.6 3.4-1.5 4.6-.5 41.2-.1 4.6-.7 4.7-2 5.3-4.3 5.3-6.8 4.7-8.1 5.3-11.9M651.3 2622.5l7.3-11.5 6-12.6M680.5 2558.1l12.7-28.7 3.9-6.8 3.4-3.6 3.3-1.9 3.3-.8 37.9-.2 4.6-.7 4.7-1.8 5.9-4.5 6-7.1 6-9.9 6.6-14.2M797.4 2427.5l3.4-7 2.6-3.9 2.7-2.4 3.3-1.4 4.6-.5 39.9-.1 4.6-.8 4.7-1.8 6-4.7 5.3-6.4 5.3-8.8 5.3-11.2M906.4 2320.3l4.6-7.3 2.7-2.1 3.3-1.1 44.5-.4 4-.5 4-1.4 5.3-3.7 4.6-5.5 4.7-7.8 4.6-10.2M684.5 2622.5l7.3-12.1 6-12.9M708.4 2570.6l3.4-7.1 2.6-4.3 2.7-2.8 3.3-1.8 4-.6 39.8-.1 4.7-.8 4.6-2.1 6-5 5.3-6.7 5.3-9 6-12.7M814.7 2466.6l5.3-11 2.7-3.1 3.3-1.9 4-.5 43.1-.1 4.7-.8 4-1.8 6-4.8 5.9-7.7 5.3-9.3 6-13.2M923.6 2360.3l2.7-5.6 2.6-4 2.7-2.2 2.7-1.1 46.4-.3 4-.5 4-1.5 5.3-4 4.7-5.5 5.3-8.8 4.6-10" stroke="#ff5a64" stroke-width="1.5" fill="none" opacity=".7"/>
<path d="M274.7 2622.5l5.3-11.9M397.6 2260.5l2-4.5 2.6-4 2.7-2.3 3.3-1.2 51.8-.7 2.7-1.6 3.3-3.7 2.7-4.5 3.3-7.3M341.8 2622.5l8-14.7M424.2 2281.7l3.3-4.6 4-1.9 37.8-.2 6-1.1 4-2.5 4-4.4 4-6.5 3.3-7.1M383 2622.5l6-9.4 4.6-9.5M460 2335.8l4-7.5 2-2.1 2.7-1.5 4.6-.8 21.3-.4 4.6-1.1 4-2.2 4.7-4.2 4.6-6.2 4-7.1 4.6-10.4M391 2622.5l5.9-9.1 4.7-9.4M465.3 2346.2l4-7.6 2-2.2 2.7-1.6 4.6-.8 20.6-.3 4.7-1.3 4.6-2.6 4.7-4.4 4.6-6.4 4.7-8.5 3.9-9.1M406.9 2622.5l6-8.5 4.6-9M478.6 2363.8l4-7.1 4-3.1 4-.9 18.6-.5 4.6-1.5 4.7-2.8 4.6-4.5 4.7-6.3 4.6-8.4 4.7-10.4M555.7 2259.9l2-4.6 2.6-4 2.7-2.1 2.6-.8 53.8-.7 2.7-1.6 2.6-2.9 5.4-9.7M442.8 2622.5l5.9-9.5 4.7-9.5M506.5 2398.5l3.3-5.8 3.4-2.7 3.3-.8 9.3-.1 4-.6 4.6-1.8 4.7-3.1 4.6-4.9 4.7-6.5 4-7 4.6-10M578.3 2294.9l1.9-3.9 2.7-3.5 2-1.6 2.7-1 46.4-.4 6.7-1.3 4.6-2.9 4-4.2 4.7-7 4-8.1M450.1 2622.5l7.3-10.9 6-12.5M513.8 2406.8l2.7-4.6 3.3-2.9 3.3-1 8.7-.2 3.9-.7 4.7-2 4.6-3.5 5.4-6 4.6-7.2 4.7-8.9 4.6-10.7M582.9 2305.5l4.7-8.2 2.6-2.3 2.7-1 46.5-.4 3.9-.5 3.4-1.2 4.6-3.1 4.7-5.2 4.6-7.5 4.7-9.8M466.7 2622.5l7.3-10.7 6-12.3M525.1 2429.2l3.3-6.6 4-4.1 3.3-1.3 8-1 4-1.2 4.7-2.6 3.9-3.4 4.7-5.6 4-6.2 7.9-16.2M591.5 2328.7l3.4-7.5 2.6-4.2 2.7-2.6 3.3-1.5 4.6-.5 39.9-.1 4.6-.6 4.7-1.8 5.3-3.9 4.7-5.5 4.6-7.7 4.7-9.8M476 2622.5l5.9-9.8 4.7-9.5M531.8 2439.9l3.3-7.4 4-4.9 3.3-1.7 8-1.4 3.9-1.4 4.7-3 4-3.7 4-5.1 3.9-6.3 8.7-18.2M598.2 2334.8l2.6-5.6 2.7-3.9 2.6-2.4 2.7-1.2 4-.4 40.5-.1 4.7-.7 4.6-1.8 5.3-3.9 5.3-6.4 5.3-8.9 4.7-10M557 2622.5l6-8.9 4.6-9.4M594.2 2514.3l2.7-6 3.3-5.5 9.9-11.5 4.7-6.4 4.6-8.2 4-8.7M642 2417.1l4.7-7.5 2.6-2.2 2.7-1.1 4.6-.5 37.9-.1 5.3-.9 4.6-1.9 6-4.6 5.3-6.4 5.4-8.8 5.9-12.6M745.6 2318.9l2.7-5.9 2.6-4.3 2.7-2.7 3.3-1.6 4.7-.6 39.2 0 4.6-.7 4-1.6 4.6-3.4 4.7-5.6 4.6-8 4.7-10.4M594.9 2622.5l5.9-10.2 4.7-10.1M632.1 2520.4l12.6-26 5.9-13.7M658.6 2460.3l3.3-7.5 2.7-4.6 2.7-2.9 3.3-1.9 4-.5 39.8 0 4.7-.9 4.6-2 6-4.9 5.3-6.6 5.3-8.9 6-12.6M764.9 2355.9l2.6-5.9 2.7-4.4 2.7-2.7 3.3-1.6 44.5-.4 4.6-.8 4-1.8 5.3-4.3 5.3-6.8 4.7-8.1 5.3-11.8M659.3 2622.5l6-9 4.6-9.2M696.5 2519.2l2-4.2 2.6-3.9 2.7-2.3 2.6-1 41.2-.6 5.3-.9 4.7-2.1 6-4.7 5.9-7.3 6-10.1 6-12.7M800.1 2419.2l2.6-5.5 2.7-3.9 2.7-2.5 3.3-1.5 4.6-.5 37.2 0 5.3-.9 4.7-1.9 6-4.5 5.3-6.4 5.3-8.6 5.3-11.1M903.7 2320l3.3-7.7 2.7-4.3 2.6-2.7 3.4-1.6 4.6-.5 41.2-.1 4.6-.6 4-1.4 4.7-3.1 4.6-5.1 4.7-7.2 4.6-9.5" stroke="#6c60ff" stroke-width="1.5" fill="none" opacity=".7"/>
<path d="M255.5 2622.5l85.6-441.7M262.1 2622.5l47.2-215.9 48.4-228.4M266.8 2622.5l15.9-61.1 19.9-84.6 31.2-139.6 33.9-156.2M279.4 2622.5l16.6-80.1 76.4-347.4M321.9 2602l4-11.3 4.6-15.8 10.6-44.1 53.2-256.5 2-7.6M470.7 2239.3l3.9-10.1 4-12.7 9.3-38.3M329.2 2604.1l8-22.9 9.9-38.1 16.6-72.9 34.6-158.5 5.9-24 4.7-13.6M478 2245.9l3.9-10.2 4.7-14.8 10.6-42.6M355.8 2607.7l3.9-10.1 4-12.3 8.7-33.2 10.6-48.3 33.9-162.3 5.9-25.1 4.7-14.3M496.6 2267.9l5.3-13.9 6-19.6 6.6-25.7 6.6-29.7M365.7 2601.7l8-24.5 8.6-34.4 10.6-48.6 29.9-143.6 5.3-22.8 4-13.5M503.9 2272l5.3-15 6-20.5 6.6-26.6 6.6-29.8M368.4 2616.7l4.6-11.8 4.7-14.1 10.6-39.6 13.3-58.7 29.9-140.5 4.6-19.1 4-12.5M509.2 2281.3l6-16.5 6.6-22.6 7.3-29 7.3-32.4M394.3 2601.6l7.3-22 8.6-32.7 12-51.2 27.2-122.1 4.7-18.5 3.9-12.7M519.1 2302.1l7.3-19.2 8-26.2 10-38 9.3-39.7M401.6 2602.4l6.6-19.2 8-29.2 11.3-47.6 28.5-127.2 5.4-20.2 3.9-10.9M526.4 2305.5l7.4-20.7 7.9-27.3 10-38.8 9.3-40M420.2 2602.9l6.6-19.6 7.3-27.7 9.3-41.2 23.9-112.7 4.7-19.2 4-12.6M534.4 2329l9.3-25.2 12-40.6M630.1 2237.4l3.3-9.4 4-13.8 7.9-34.8M436.8 2603.2l6.6-19.5 6.7-25.1 8.6-38.1 22.6-107 4.6-18.1 4-10.7M545.7 2343.5l6-15.9 11.3-36.2 4-10.4M644 2250.8l4.7-13 4.6-16 10-42.8M462 2603.9l7.3-20 7.3-25.8 8.7-35.7 17.9-79.6 6.6-23.7M560.3 2371.8l6.7-17.2 10.6-32.3 4-10.5M661.3 2276.8l6-15.5 6.6-21.7 7.3-28.4 7.3-31.9M513.2 2603.1l5.3-14.3 5.3-17.7 19.9-80.1 3.3-11.5 3.4-8.9M590.2 2426.2l6.7-17.3 11.9-34.9M696.5 2321.4l7.9-22.7 10.7-35.7M789.5 2238.7l6.6-18.9 8-31.3M529.8 2605l4.6-12 4.7-14.7 18.6-71.5 3.3-11.1 3.3-8.5M601.5 2440.6l18.6-51.8M705.1 2342l6.7-17.3 10.6-33 4-10.3M803.4 2251.6l4.7-12 5.3-17.2 10.6-43.1M547 2607.2l4.7-11.8 5.3-16.2 15.9-59.9 6-17.6M610.8 2460.8l6.6-17.2 12-35.5M714.4 2361.3l7.3-18.9 14-41.4M818 2262.6l5.3-14.6 5.3-17.6 12.7-51.1M557 2602.8l8-22.7 13.9-51.1 4.7-14.2M618.1 2465.5l15.9-45.7M721.7 2365.8l5.3-14.1 13.3-39.2M822.7 2274.3l5.9-15.9 6.7-21.9 7.3-28.2 6.6-29M572.9 2603.8l7.3-20 12-41 4.7-13.8M628.7 2481.4l5.3-13.7 10.7-30.6M729.7 2387.8l6.6-16.8 14.6-41.8M836 2285.1l6.6-18.8 6.6-22.4 8-30.5 8-33.5M580.9 2604l6.7-17.4 12.6-41.1 4.6-12.5M634 2489.9l5.4-13.3 10.6-30.2M735 2396.4l6-15.1 11.3-33 4-10.2M841.3 2294.4l6.6-18.5 7.3-24.3 9.3-35.3 8.6-36.1M591.5 2598.3l5.4-15.1 9.2-30 4-10.8M642 2491.8l13.3-36.6M740.3 2404.6l6.7-17.1 11.9-34.5M846.6 2302.9l7.3-20.5 8-27 9.9-38.4 8.7-36.7M664.6 2598.4l15.9-40.3M778.8 2477.9l18.6-50.4M885.1 2378.5l6-15.1 11.3-33.1 4-10M988.7 2280.3l6.7-18.5 6.6-22.3 8-30.4 7.3-31M697.8 2597.5l10.6-26.9M796.1 2517.6l6.6-17 12-34M905 2412.4l18.6-52.1M1008.6 2316.8l7.3-19.8 8-26.4 10-37.8 10.6-44.3" stroke="#ff5a64" stroke-width="1.85" stroke-dasharray="6.8 4" fill="none" opacity=".76"/>
<path d="M280 2610.6l6-16.7 6-20.4 14.6-60.2 27.9-129.7 42.5-203.8M288.7 2622.5l43.1-185.5 56.5-258.4M294 2622.5l17.3-63.4 21.2-87 32.6-141.4 33.2-149.7M305.3 2622.5l6-20.7 7.3-30.4 87-390.5M315.2 2622.5l8-37.6 71.1-313 3.3-11.4M472 2230.7l6.6-20.1 8-32.4M349.8 2607.8l4-10.3 3.9-12.5 9.3-36.6 13.3-62.6 33.2-166.1 6-25.2 4.7-12.8M490.6 2253.4l4.6-12.5 5.3-17.6 10.7-44.3M393.6 2603.6l8-22.8 8.6-32.1 12.6-53.8 28.6-128.3 4.6-18.5 4-12.3M521.1 2292.3l6.7-18.5 7.3-24.7 9.3-36.2 8-34.7M401.6 2604l7.3-20.4 8.6-31.7 10.6-45.6 28.6-129.2 4.7-18.6 3.9-12.3M526.4 2301.4l7.4-20.7 7.3-25.1 9.3-36.5 8.6-37.9M417.5 2605l7.3-19.8 8-28.5 10.6-44.6 26.6-118.6 4.6-18 4-11.7M537.1 2318.3l7.9-22.5 10.7-35.9M630.1 2233.5l3.3-8.7 4-12.8 7.9-32.3M453.4 2603.5l7.3-20.1 7.3-25.7 9.3-38.2 21.3-94.3 3.9-15.3 4-11.4M557 2355.2l6.6-17.3 10.7-32.5 4-10.5M658 2261l5.3-13.5 5.9-19 6-22.2 6.7-28.1M463.4 2599.1l6.6-18.6 7.3-25.6 9.3-37.9 19.3-84.3 3.9-14.9 4-11M564.3 2359.1l18.6-53.6M665.3 2266.3l5.3-14.1 6-19.2 6.6-24.8 6.6-27.9M480 2599.5l6.6-18.6 6.6-23.2 8-32.1 16.6-71.5 4-15 3.3-9.9M572.9 2381l6.7-17.2 11.9-35.1M676.6 2283l6.6-17.7 6.6-21.7 8-30.1 8-34.1M486.6 2603.2l7.3-19.3 7.3-24.3 8-30.7 16.6-68.7 6-20.3M579.6 2386.8l18.6-52M683.2 2289.5l6.6-17.9 7.3-23.8 8.7-32.4 8.6-36.2M567.6 2604.2l8-22.9 13.3-50.4 5.3-16.6M623.4 2468l18.6-50.9M727 2370.5l6-15.3 12.6-36.3M828 2274.1l5.3-14.9 6-20 13.3-54M605.5 2602.2l7.3-20.9 13.3-45 6-15.9M650.6 2480.7l8-20.4M746.3 2407l6-15.1 12.6-36M849.9 2307.3l7.3-20.5 8-27 9.9-38.2 10-42M669.9 2604.3l8-21.8 13.9-49.6 4.7-13.7M781.5 2469.4l18.6-50.2M885.1 2371.9l6.6-16.9 12-35M988.7 2276.2l6.7-17.5 6.6-21.6 7.3-27.6 7.3-31.1" stroke="#6c60ff" stroke-width="1.85" stroke-dasharray="6.8 4" fill="none" opacity=".76"/>
</g>
<path d="M255.0 2627.2H1042.8" stroke="#7f7fff" stroke-width="2.4" fill="none"/>
<path d="M262.0 2623.7H1122.5" stroke="#ff6a6a" stroke-width="2.4" fill="none"/>
<path d="M210.0 2651.2V2155.7" stroke="#cfcfcf" stroke-width="2.2" fill="none"/>
<path d="M209.0 2155.7H1168.8" stroke="#adadad" stroke-width="2.2" fill="none"/>
<path d="M1167.8 2154.7V2651.2M209.0 2651.2H1168.8" stroke="#6e6e6e" stroke-width="2.1" fill="none"/>
<path d="M254.8 2650.2v4.5M387.6 2650.2v4.5M520.5 2650.2v4.5M653.3 2650.2v4.5M786.1 2650.2v4.5M919.0 2650.2v4.5M1051.8 2650.2v4.5M211.0 2178.0h-4.5M211.0 2241.5h-4.5M211.0 2305.0h-4.5M211.0 2368.5h-4.5M211.0 2432.0h-4.5M211.0 2495.5h-4.5M211.0 2559.0h-4.5M211.0 2622.5h-4.5" stroke="#6a6a6a" stroke-width="2" fill="none"/>
<text transform="translate(166.40,2138.30) scale(1.1237,1)" font-size="46.00">Pre-guidance permeability-40% Flow-2200veh/h</text>
<text transform="translate(70.72,2311.00) rotate(90) scale(0.3986,0.4473)" font-size="100">Location(m)</text>
<text transform="translate(657.30,2759.80) scale(1.0726,1)" font-size="42.00">Time(s)</text>
<text transform="translate(126.85,2197.43) scale(1.0890,1)" font-size="35.20">350</text>
<text transform="translate(126.85,2264.43) scale(1.0890,1)" font-size="35.20">300</text>
<text transform="translate(126.85,2331.13) scale(1.0890,1)" font-size="35.20">250</text>
<text transform="translate(126.85,2397.33) scale(1.0890,1)" font-size="35.20">200</text>
<text transform="translate(126.85,2463.73) scale(1.0890,1)" font-size="35.20">150</text>
<text transform="translate(126.85,2529.93) scale(1.0890,1)" font-size="35.20">100</text>
<text transform="translate(136.43,2596.13) scale(1.0890,1)" font-size="35.20">50</text>
<text transform="translate(146.02,2662.93) scale(1.0890,1)" font-size="35.20">0</text>
<text transform="translate(255.12,2703.53) scale(1.0890,1)" font-size="35.20">0</text>
<text transform="translate(371.93,2703.53) scale(1.0890,1)" font-size="35.20">50</text>
<text transform="translate(489.45,2703.53) scale(1.0890,1)" font-size="35.20">100</text>
<text transform="translate(625.55,2703.53) scale(1.0890,1)" font-size="35.20">150</text>
<text transform="translate(761.65,2703.53) scale(1.0890,1)" font-size="35.20">200</text>
<text transform="translate(897.25,2703.53) scale(1.0890,1)" font-size="35.20">250</text>
<text transform="translate(1013.95,2703.53) scale(1.0890,1)" font-size="35.20">300</text>
</g>
<g>
<path d="M1419.7 2150.0V2658.2M1571.6 2150.0V2658.2M1723.5 2150.0V2658.2M1875.4 2150.0V2658.2M2027.2 2150.0V2658.2M2179.1 2150.0V2658.2M2331.0 2150.0V2658.2" stroke="#d9d9d9" stroke-width="1.5" fill="none"/>
<path d="M1374.0 2172.9H2357.5M1374.0 2237.8H2357.5M1374.0 2302.7H2357.5M1374.0 2367.6H2357.5M1374.0 2432.5H2357.5M1374.0 2497.4H2357.5M1374.0 2562.3H2357.5M1374.0 2627.2H2357.5" stroke="#cacaca" stroke-width="1.6" fill="none"/>
<g>
<path d="M1471.3 2627.2l3.1-3.6 3-5 6.1-14.4 6.1-19.7 7.6-30.7 13.6-63.9 63.8-313.5M1494.1 2627.2l6.1-9.6 5.3-10.8 5.3-13.5 5.3-16 13-46.4 23.5-95.1 3.8-12.5 4.6-11.8 5.3-10.7 6.8-11.3 68.4-106.1 9.1-13.5 9.8-13.1 4.6-7.6 6.1-13 6-16.8 6.1-20 6.9-26M1510.1 2627.2l6-6.5 5.4-8.6 5.3-11.8 5.3-14.8 11.4-39.4 23.5-93 5.3-18.3 3.8-10.5 8.4-16.4 12.1-20.2 47.9-75.7 12.1-18.4 14.5-20.3 6.8-11.6 6.8-14.9 6.9-18.6 7.6-24.7 7.6-28.5M1538.2 2627.2l6-6.1 6.1-9.5 5.3-11.3 6.1-16.4 11.4-38.2 23.5-89.6 6.1-19.7 5.3-14 4.6-9.6 5.3-9.2 17.5-26.4 30.4-47.7 22-32 9.8-17.2 8.4-18.6 8.4-23 9.8-31.8 9.1-33.7M1548.8 2627.2l3-1.3 3.1-2.2 6.1-7.6 6-11.7 6.1-15.8 5.3-16.8 6.1-22 23.5-95.3 5.4-18 5.3-14.4 4.5-9.5 4.6-7.8 17.4-26.1 26.6-41.7 22.1-32.1 10.6-18.6 9.1-20.6 9.1-25.5 9.9-32.4 9.1-34.2M1571.6 2627.2l6.1-9.5 5.3-10.4 4.5-11.2 5.3-15.5 9.9-34.7 22-86.4 5.4-17.7 4.5-12.4 4.6-9.8 4.5-7.8 16.7-24.6 22.8-35.7 20.5-29.9 6.1-9.9 6.1-11.4 8.3-18.7 9.1-24.7 9.9-31.4 9.9-35.4M1600.4 2627.2l4.6-5.4 4.6-8.3 4.5-11 5.3-16.1 9.1-34.2 21.3-90.6 5.3-19.2 5.3-15.7 4.6-10.4 6.1-11.1 22.8-35.2 22.7-33.6 7.6-13.1 6.9-13.7 9.8-24 9.9-28.6 11.4-37.7 9.9-37M1611.1 2627.2l4.5-4 4.6-7.2 4.5-10.4 5.4-15.9 9.1-34.7 22-96.7 5.3-19.6 4.6-13.6 4.5-10.6 6.1-10.9 42.5-63.9 6.9-12.4 6.8-14.5 10.6-27.1 10.7-32.1 12.1-41.7 9.9-38.8M1633.9 2627.2l4.5-8.3 3.8-8.7 4.6-12.6 4.5-14.9 9.1-34.9 20.5-86.2 5.4-19.4 5.3-15.8 4.5-10.5 5.3-9.6 27.4-39.7 12.9-22.2 11.4-25.1 15.2-41.8 3.8-8.6 4.5-6.4 2.3-1.6 3-1 57-.3 4.6-1.1 3.8-2.4 3.8-4.1 3.8-5.9 6.8-15.1 7.6-23.3 8.3-32M1646.8 2627.2l4.5-5.4 4.6-8.3 4.5-11.2 4.6-13.8 9.9-36.8 18.2-78 7.6-30.1 6.8-22.2 3.8-9.7 3.8-8 6.1-10.1 14.4-20.9 64.6-79.4 15.2-17.5 4.5-3.8 4.6-1.8 19-.3 4.5-.9 5.3-3.1 4.6-5 6.8-11.9 6.9-17.2 7.6-24.8 8.3-32.4M1664.2 2627.2l3.8-5.9 3.8-8.1 8.4-24.3 9.1-33.9 27.3-110.8 7.6-25.8 6.9-18.1 7.6-10.4 69.1-89.2 13.6-16.4 3.8-3 4.6-1.8 18.2-.5 5.3-1 5.3-3 5.4-5.5 6.8-11.4 6.8-16.3 7.6-23.3 9.1-32.8M1673.3 2627.2l5.4-4.7 5.3-8.6 5.3-12.2 5.3-15.6 10.6-38.6 25.9-105.7 5.3-18.7 4.5-12.7 8.4-13.3 20.5-28.7 42.5-57.1 12.9-15.9 4.6-3.8 4.5-2 4.6-.5 14.4-.2 6.1-1.2 6.1-3.7 6.1-6.8 3.8-6 3.8-7.5 7.5-19 8.4-26.4 9.1-33.5M1689.3 2627.2l5.3-4.8 5.3-8.3 5.3-11.7 6.1-17.4 11.4-41.5 24.3-101.8 6.8-23.3 3.8-8.8 11.4-20.1 15.2-23.3 32.7-44.6 12.9-16 4.5-3.8 5.4-2.2 18.9-.5 6.9-1.5 3.8-2 3-2.3 6.9-8.2 3.7-6.3 4.6-9.3 9.1-24.2 9.9-33 9.9-38.6M1699.2 2627.2l6.8-6.8 5.3-8.3 5.3-11.6 6.1-16.9 11.4-40.7 24.3-100.8 6.8-21.9 5.4-12.1 10.6-18.8 12.9-19.7 29.6-40.5 11.4-13.8 4.6-3.6 4.5-1.9 4.6-.5 15.9-.2 6.9-1.7 3.8-2 3.8-3 6.8-8.3 4.5-7.7 4.6-9.5 9.1-24.3 10.6-35.7 10.7-41.8M1718.9 2627.2l6.1-7.3 5.3-8.7 5.3-11.5 6.1-16.5 11.4-38.3 27.3-104.1 6.9-21.3 6.8-16.3 6.1-10.8 7.6-11 28.1-37.5 9.8-11.1 4.6-3.1 4.6-1.4 19.7-.4 7.6-1.6 4.5-2.4 3.8-3 7.6-9.1 4.6-7.6 5.3-11 10.6-28.2 12.2-40.4 12.9-49M1728.8 2627.2l6.1-8.2 5.3-9.4 5.3-12.2 5.3-14.9 11.4-38.8 25.8-98.5 6.9-21.4 6.8-16.2 5.3-9.5 6.8-9.9 28.1-36.8 8.4-9.1 4.6-3.1 4.5-1.4 20.5-.4 7.6-1.6 4.6-2.5 3.8-3 4.5-4.9 3.8-5.4 4.6-7.8 5.3-11.2 10.6-28.4 12.9-42.8 14.5-54.8M1736.4 2627.2l6.1-4.2 5.3-7 5.3-10.4 6.1-15.9 11.4-38.4 27.3-105.5 6.8-21.2 6.1-14.3 4.6-8.1 6-8.7 25.9-33.3 8.3-8.8 3.8-2.4 4.6-1.5 21.2-.4 7.6-1.7 4.6-2.4 4.5-3.7 4.6-5.2 3.8-5.4 5.3-9.4 5.3-11.6 10.7-28.8 13.6-45.5 15.2-57.4M1757.6 2627.2l5.4-6.2 5.3-8.7 4.5-9.8 5.3-14.1 11.4-38.2 20.5-80.2 6.9-24.7 7.6-21.7 3.8-7.9 3.8-6.4 25.8-32.1 4.5-4.9 3.8-3.1 3.8-1.9 3.8-.8 20.5-.1 5.4-.6 6-2.3 5.3-3.7 5.4-5.7 5.3-7.5 4.5-8.2 8.4-17.4 6.1-8.7 5.3-5.1 45.5-37.4 7.6-5.6 6.1-3.3 5.3-1.3 13.7-.6 3.8-1.7 3.8-3.2 3.8-4.8 3-5.1 7.6-17.6 7.6-23.8 7.6-29.2M1767.5 2627.2l6.1-9.3 4.5-8.4 4.6-10.3 5.3-14.4 11.4-38.5 25.1-97.2 6.8-20 3.8-8.1 3.8-6.3 5.3-6.9 19.8-23 3.8-3.9 3.8-2.9 3-1.3 3.8-.7 21.3 0 5.3-.6 6-2.1 5.4-3.8 5.3-5.6 5.3-7.6 14.4-28.2 6.1-8.9 4.6-4.5 14.4-11 31.1-25.8 6.9-4.8 5.3-2.7 5.3-1.2 14.4-.6 4.6-1.9 4.5-3.7 3.8-4.7 3.8-6.1 6.9-15.1 7.6-22.4 8.3-30.5M1775.1 2627.2l5.3-4.2 5.3-7.3 4.6-9 5.3-13.3 11.4-36.7 22-82.9 6.9-23.9 6.8-19 3.8-7.9 3.8-6.3 6.1-7.9 12.1-13.9 4.6-4.5 3.8-2.6 3-1.2 3.8-.6 25.8-.5 6.1-2 6.1-4 5.3-5.6 5.3-7.5 15.2-29.2 6.8-10 4.6-4.4 14.4-10.9 30.4-25 6.1-4.2 5.3-2.5 4.5-1 10.7-.2 4.5-.6 5.4-2.2 4.5-3.7 4.6-5.7 3.8-6.2 8.3-18.9 9.1-27.6 10.7-39.1M1795.6 2627.2l4.6-3.8 4.5-6.5 4.6-9.3 4.5-11.9 9.9-32.2 21.3-79.6 6.8-23.9 6.8-19.1 6.9-12.8 4.5-6 6.9-7.3 5.3-4.7 4.5-2.6 6.1-1.3 25.8-.4 5.4-1.4 5.3-3 6-5.5 6.1-7.5 21.3-32.3 9.1-12.6 7.6-8.6 9.1-8.4 20.5-17.1 10.6-7.2 3.8-1.7 3.8-.9 13-.3 5.3-.9 5.3-2.5 4.5-3.9 4.6-5.6 3.8-6.2 4.5-9.2 4.6-11 9.9-29.2 12.1-42.7M1814.6 2627.2l5.3-5.7 5.3-8.2 4.6-9.3 5.3-13.5 10.6-34.2 23.6-87 6.1-17 6-11.7 6.9-8 3.8-2.9 4.5-2.2 6.9-1.1 25-.3 6.1-1.5 5.3-2.8 6.8-6 6.9-8.5 21.2-33.5 8.4-12 6.8-8 7.6-7.2 21.3-17.3 9.9-6.6 7.6-2.7 14.4-.5 6.1-1.2 6-3.1 6.1-5.6 5.3-7.3 5.3-9.7 5.4-12.1 5.3-14.2 12.9-41.8 12.9-49.5M1823.7 2627.2l5.3-4.1 4.6-5.9 4.5-8.5 5.4-13.1 9.8-31.2 24.3-89 6.1-17.3 6.1-11.7 5.3-6 3-2 3.8-1.6 6.1-.9 25.8-.5 6.1-1.5 5.3-2.9 6.1-5.1 6.1-7.2 6.8-9.9 22-35.1 7.6-9.6 8.4-8.1 22-17.7 9.9-6.4 7.6-2.5 14.4-.6 6.1-1.2 6-3.1 6.1-5.5 5.3-7.2 5.4-9.4 5.3-11.7 5.3-13.8 12.1-37.9 14.5-52.7M1851.1 2627.2l5.3-4.9 4.5-6.4 4.6-8.8 4.5-11.1 9.9-30.7 21.3-76.9 4.5-12.6 4.6-8.1 3-2.9 3.8-1.4 31.9-.3 5.3-1.1 5.4-2.7 6-5.1 6.9-8.3 6.8-10.7 19.7-34.7 6.9-9.2 7.6-7.5 25.8-19.7 8.3-5.2 7.6-2.1 15.2-.2 5.3-.8 6.1-2.6 6.1-4.9 4.6-5.2 3.7-5.6 8.4-15.9 9.9-25.2 12.1-38 2.3-4.4 2.3-2.5 3-1.6 3.1-.3 62.2-.1 2.3-.6 3-2.1 3.1-3.4 3-4.8 6.1-13.6 6.8-21.1 7.6-28.9M1878.4 2627.2l6.1-7.8 4.5-7.1 8.4-17.9 9.1-26.4 16.7-56.6 3.8-9.9 3.8-6.5 3-2.8 3.8-1.5 29.6-.6 6.1-1.6 5.3-3.2 6.1-5.9 6.1-8.4 6.8-12.1 16.7-33.1 6.1-8.9 6.1-6.3 29.6-21 6.1-3.5 6.8-1.8 21.3-.6 5.3-1.6 4.5-2.6 9.2-8.6 55.4-65.4 14.4-16.4 7.6-7.6 4.6-3.1 3.8-1.3 18.2-.4 4.6-.6 4.5-1.9 4.6-3.5 4.5-5.3 4.6-7.4 8.3-18.7 9.1-27.4 9.9-36.5M1886.7 2627.2l5.4-5.2 3.8-5 3.8-6.5 4.5-9.9 9.1-25.8 16-54.1 4.5-11.4 3.8-5.9 3.8-2.9 3.8-1.1 23.6-.2 5.3-.5 5.3-1.8 4.6-2.8 6-5.9 6.1-8.4 6.8-12.1 16.7-33.7 6.1-9 6.1-6.2 28.9-20.1 6.8-3.9 6.8-1.6 20.5-.6 5.3-1.5 5.4-2.8 6-5.1 7.6-8.1 56.2-67.2 9.9-11.2 6.1-6 4.5-3.1 4.6-1.5 17.5-.5 5.3-.8 5.3-2.3 4.5-3.7 4.6-5.4 4.6-7.4 4.5-9.3 4.6-11.2 9.8-30.3 10.7-40M1897.4 2627.2l4.5-4.3 3.8-5.1 3.8-6.6 3.8-8.3 8.4-23.4 15.2-51.4 4.5-10.8 3.8-5.2 3.1-2 3-.7 23.5-.2 4.6-.4 5.3-1.8 4.6-2.8 6-5.9 6.1-8.4 6.9-12.3 16.7-34.7 5.3-8.1 6.1-6.4 29.6-20.1 6-3.4 6.9-1.5 21.2-.6 5.4-1.6 5.3-2.9 6.1-5.1 7.5-8.1 54-65.5 10.6-12.2 6.1-6.1 4.5-3.3 4.6-1.7 19-.6 6-1 6.1-3.1 5.3-5 4.6-6.1 4.6-8.1 4.5-9.9 4.6-11.8 10.6-33.8 10.6-41M1916.4 2627.2l7.6-10.4 6.8-13.8 6.8-18.5 12.2-38.5 3-7.6 3.1-5.3 3-3 3.8-1.4 23.5-.2 5.3-.6 5.4-2.1 5.3-4.1 5.3-6.1 6.1-9.5 6-11.8 15.2-33.5 4.6-7.6 4.5-5.4 5.4-4.1 12.9-7.3 13.6-9.4 5.4-2.8 6-1.3 22.8-.5 5.3-1.4 5.3-2.9 4.6-3.8 5.3-5.6 22-28.2 27.4-33.3 15.2-18 8.3-8.6 5.3-3.6 4.6-1.5 20.5-.3 6.1-1 6.1-3.2 6-5.9 5.3-7.6 4.6-8.4 5.3-12.1 5.3-14.4 11.4-36.9 12.9-49.6" stroke="#ff5a64" stroke-width="1.4" fill="none" opacity=".66"/>
<path d="M1419.7 2627.2l3-3.1 3.8-5.5 3.8-7.3 3.8-9.1 7.6-22.8 9.1-34.2 24.3-107.1 56.2-264.1M1428.1 2627.2l4.5-4 3.8-4.8 3.8-6.4 3.8-8.1 7.6-21.1 9.1-32.5 9.9-41.2 12.9-57.9 57.7-269.5M1438.7 2627.2l4.5-2.5 3.8-3.9 3.8-5.6 3.8-7.4 7.6-19.8 9.1-30.9 10.7-42 15.2-64.2 60.7-265.3M1450.1 2627.2l4.5-3.8 3.8-4.5 6.9-12.4 7.6-20.2 8.3-28.1 12.2-46.7 18.9-77.6 59.3-249.6M1461.5 2627.2l4.5-5.4 3.8-5.5 7.6-15.3 7.6-21 9.1-31.5 16.7-67.7 70.7-302M1470.6 2627.2l3.8-3.6 3.8-5 6.8-13.3 7.6-20.9 8.4-29.3 15.1-62.1 73.7-317.6M1497.2 2627.2l3-1.3 3-2.2 6.1-7.5 6.1-11.8 6.1-15.9 12.1-40.7 25.1-95.9 5.3-18 3-7.6 6.9-13.8 11.4-20.9 29.6-50.9 31.9-52.2 7.6-11.6 12.1-16.9 6.1-10.2 6.1-13 6-16 6.9-21.3 6.8-24.4M1510.1 2627.2l3-1.3 3-2.3 5.4-6.7 5.3-10.2 6.1-15.5 11.3-37.6 25.9-98.1 6.8-21.9 6.1-16 6.1-12.4 9.1-16.6 34.1-58.8 20.5-33.5 19.8-28.6 6.8-11.6 6.1-12.9 6.8-17.7 6.9-20.7 7.6-26M1522.2 2627.2l6.9-6.4 5.3-7.9 5.3-11 6.1-16.2 10.6-35.9 25.1-97.3 6-19.5 6.1-15.6 5.3-11.3 6.9-12.6 34.1-58 19.8-32 19.7-28.7 7.6-13.3 6.9-14.9 7.5-20.2 7.6-23.6 7.6-27.1M1533.6 2627.2l6.1-8.3 5.3-9.2 5.3-12.1 5.3-14.8 10.7-36.5 22.8-89.2 6-20.2 5.3-14.2 5.4-11.5 6-11.4 31.9-53.9 20.5-33.3 21.3-31.1 8.4-15 7.5-17.1 7.6-20.7 8.4-26.7 7.6-27.8M1542.7 2627.2l6.9-9.6 4.5-8.2 5.3-12.2 5.4-14.9 10.6-35.7 24.3-90.7 6.1-19.5 6-16.1 4.6-10.1 6.1-11.4 29.6-49.6 17.5-28.1 20.5-30 9.1-16.1 7.6-16.7 8.3-22.3 8.4-26 8.3-29.3M1550.3 2627.2l6.1-5.1 5.3-7.4 5.3-10.4 6.1-15.6 11.4-37.4 25.8-97 6.1-19.5 6.1-16.2 6-12.9 7.6-13.3 35.7-58.3 25.1-37.2 9.1-16.4 8.4-18.7 8.3-22.6 9.1-28.5 9.1-32.1M1570.1 2627.2l6-6.6 5.4-8.5 5.3-11.6 5.3-14.6 10.6-35.9 23.6-89.6 6-20 5.4-14.4 5.3-11.5 6-10.8 34.2-54.8 24.3-36 11.4-21 9.1-21.4 9.9-27.8 10.6-34.7 9.1-33.5M1592.1 2627.2l4.5-5.7 4.6-8.3 4.6-11 4.5-13.5 9.1-32.5 22.8-90.5 5.3-18.1 5.3-14.8 4.6-10.1 4.6-8.2 34.1-53.4 21.3-31.4 6.8-11.7 6.9-13.6 9.8-23.8 9.9-28.5 11.4-37.7 10.6-39.5M1642.2 2627.2l4.6-2.7 4.5-5.9 4.6-8.9 4.5-11.8 9.9-33.5 19-76.2 7.6-27.9 7.6-22.6 8.3-17.7 7.6-12.4 29.6-44.8 5.4-7.2 5.3-5.9 59.2-57.9 12.9-11.9 3.8-2.8 3.8-2 11.4-1.9 4.6-1.6 5.3-3.7 4.5-5.2 3.8-5.9 3.8-7.4 7.6-18.9 8.4-26.4 8.3-31.1M1658.9 2627.2l4.6-3.2 4.5-6.5 4.6-9.8 4.5-12.9 9.2-33.5 17.4-77 6.9-27.9 7.6-24.5 7.5-16.6 6.9-11 35.7-46.9 10.6-11.5 35.7-35.6 17.5-16.9 7.6-6.3 6-3 10.7-1.5 4.5-1.5 5.3-3.6 4.6-5 3.8-5.6 3.8-7.1 7.6-18.4 8.3-26 9.9-36.5M1675.6 2627.2l4.6-5.8 4.5-8.5 4.6-11.3 5.3-16.3 9.1-34.9 17.5-77.7 6.1-25 6.8-22.7 6.1-13.9 8.3-12.9 18.3-24.3 8.3-10.2 9.1-9.6 48.6-48 7.6-6.9 5.3-3.8 5.4-2.1 9.8-1.2 5.3-1.6 5.4-3.4 5.3-5.8 4.5-7 3.8-7.4 8.4-21 9.9-32.3 9.8-38.5M1690.8 2627.2l5.3-4.1 5.3-7.4 4.6-9.3 5.3-14.1 5.3-17.2 6.1-22.6 25.8-106.1 4.6-12.1 9.1-18.7 11.4-19.4 6.1-8.7 6-7.4 57.8-57.1 7.6-6.5 5.3-3.1 4.5-1.2 11.4-1.1 5.3-2 6.1-4.5 5.3-6.5 4.6-7.5 4.5-9.4 9.2-24.2 10.6-35.6 12.1-47.4M1701.4 2627.2l5.4-4.1 4.5-6.5 4.6-9.5 5.3-14.6 9.9-35.4 23.5-98.7 6.8-21.2 8.4-18.9 9.9-16.3 11.4-14.3 58.4-57.3 6.1-5 5.3-2.9 4.6-1.2 10.6-.8 6.1-2 6.1-4.5 5.3-6.2 4.5-7.3 4.6-9.2 4.6-11 5.3-15 10.6-35.6 12.1-47M1712.1 2627.2l5.3-3.7 4.6-6 5.3-10.6 5.3-14.3 9.9-34.2 25.8-102 7.6-24 7.6-17.7 6-10 8.4-10 58.5-56.6 5.3-4 5.3-2.5 14.4-1.8 6.1-2 6.8-5 6.1-7.4 4.6-7.6 5.3-11.1 9.9-26.6 12.1-40.7 12.9-49.4M1723.5 2627.2l3-1.3 2.3-1.7 5.3-6.5 5.3-10.3 6.1-16.1 10.6-36.6 26.6-104.4 6.8-21.6 6.1-14.3 4.6-7.5 5.3-6.3 16.7-15.3 26.6-26.5 12.9-11.8 5.3-3.7 4.6-2 14.4-1.6 6.8-2.2 6.9-5 6.8-8.5 4.5-7.8 5.4-11.3 10.6-28.9 13.7-45.9 14.4-54.8M1734.9 2627.2l5.3-3.9 5.3-6.9 5.3-10.5 5.3-13.8 10.7-36 21.2-85 6.9-25.2 6.8-20.1 3-6.6 3.8-6.4 6.1-7 14.4-12.8 25.9-25.8 12.9-11.5 4.5-2.9 4.6-1.8 13.6-1.4 6.1-1.6 5.3-3.1 5.4-4.9 7.5-10.8 6.9-13.6 6.8-17.3 10.6-31.3 11.4-10 11.4-8.4 7.6-3.5 5.3-.5 42.6-.1 3-1 3-2.2 3.1-3.6 3-4.9 6.1-13.6 6.1-18.3 6.8-25.2M1763.7 2627.2l6.1-6.3 5.3-8.2 5.3-10.9 5.3-13.8 11.4-37.6 23.6-91.6 6.1-17.9 5.3-10.2 5.3-6 15.9-13.3 20.5-21 9.1-7.5 4.6-2.4 3.8-1.2 13.7-.7 5.3-1 5.3-2.2 5.3-3.9 6.1-6.4 19-23.3 39.5-45.7 12.1-13.5 6.9-6.3 3.8-2.2 3.8-.9 18.9-.2 4.6-.5 5.3-2.2 4.6-3.7 4.5-5.6 3.8-6.1 8.4-18.5 9.1-27.5 9.1-34M1778.1 2627.2l4.6-4 4.6-6.7 4.5-9.4 5.3-14.1 10.7-36 23.5-91.7 6.1-18.2 6.1-12.1 5.3-6.4 12.9-11.7 15.9-16.4 9.9-8.2 4.6-2.5 4.5-1.4 13.7-.8 6.1-1.2 6-2.9 5.4-4 10.6-11.5 56.9-68.1 8.4-9.3 5.3-4.8 3.8-2.3 4.6-1.2 19-.3 5.3-.8 5.3-2.3 5.3-4.4 4.6-5.7 3.8-6.2 4.5-9.2 4.6-11.1 9.8-29.8 10.7-39.1M1803.2 2627.2l3-1.3 3.1-2.1 5.3-6.3 5.3-9.6 5.3-12.7 5.3-15.7 5.4-18.2 22-85.1 5.3-15.1 5.3-9.9 4.6-5.4 22-20.7 7.6-5.8 3.8-1.7 3.8-.9 14.4-.5 6.1-1.1 6.1-2.6 6-4.5 9.2-9.8 24.3-31 28.8-35.2 9.9-11.3 6.8-6.3 3.8-2.3 4.6-1.3 21.2-.3 6.1-1 6.1-2.8 6.1-5.4 5.3-7.1 4.5-8 5.4-11.4 5.3-13.8 11.4-35.9 12.1-45.5M1835.1 2627.2l5.3-6.8 4.6-7.5 4.5-9.4 4.6-11.4 9.9-30.2 20.5-72.2 5.3-14 5.3-9.5 3.8-4.7 5.3-5 8.4-6.6 6-3.7 6.9-1.8 14.4-.3 6.1-.9 6.8-2.8 6.1-4.4 9.1-10 19.7-27.8 12.2-15.5 25.8-30.7 6.1-6.4 4.6-3.8 3.8-2.1 4.5-1.2 22.8-.3 6.1-.9 3.8-1.3 3.8-2.2 6.8-6.2 6.1-8.4 5.3-9.6 5.3-11.7 6.1-15.8 13.6-43 16-59M1864 2627.2l3-1.2 2.3-1.7 4.5-5.2 4.6-7.8 4.5-10.4 9.2-27.6 18.9-69.1 5.4-14.1 5.3-8.8 5.3-4.8 6.1-2.8 6-1 19.8-.4 6.1-1.9 5.3-3.2 5.3-4.8 6.1-7.2 19-29.3 9.1-12.4 28.1-32.9 8.3-8.5 5.3-3.7 4.6-1.4 29.6-.5 5.3-1.3 4.6-2.4 4.5-3.7 9.9-10.3 55.5-64.3 9.8-10.9 6.1-5.9 3.8-2.6 3.8-1.2 22-.7 3.8-1.4 3.8-2.7 3.8-4.2 3.8-5.8 7.6-16.5 8.4-25.1 9.1-33.8M1876.9 2627.2l4.5-2.4 3.8-4.1 4.6-7.8 4.5-10.6 8.4-26 18.2-67.8 5.3-14.3 4.6-7.3 3.8-3.3 3.8-1.4 25-.8 6.1-1.8 5.3-3.2 6.1-5.7 6.1-7.6 18.2-29.1 8.4-11.6 28.8-33.5 8.4-8.4 4.5-3.1 4.6-1.4 30.4-.5 5.3-1.1 4.5-2.3 4.6-3.7 4.6-4.7 56.9-66.6 12.2-13.6 6.8-6.7 4.6-3 3.8-1.1 18.9-.2 3.8-.4 4.6-1.8 3.8-3 3.8-4.4 3.8-5.9 7.6-16.6 8.3-24.8 9.9-35.9M1887.5 2627.2l4.6-3.2 3.8-4.6 3.8-6.5 4.5-10.5 8.4-25.8 16.7-62.1 4.5-12.5 4.6-7.5 3-2.5 3.8-1.2 19.8-.1 5.3-.7 4.5-1.6 4.6-2.8 6.1-5.6 6-7.8 18.3-29.8 8.3-11.8 28.9-33.1 7.6-7.7 4.5-3.2 4.6-1.6 31.1-.4 5.3-1.1 4.6-2.1 3.8-2.9 4.6-4.6 18.9-23.4 30.4-35.4 18.2-20.7 8.4-8.3 4.6-3.1 3.8-1.2 19.7-.2 4.6-.6 4.5-1.9 3.8-2.9 4.6-5.3 3.8-6.1 4.5-9.4 4.6-11.5 9.1-28.4 10.6-40.1M1898.1 2627.2l4.6-4.2 4.6-6 3.7-6.7 4.6-10.2 8.4-24.1 15.9-55.8 3.8-9.9 3.8-6.3 3-2.6 3.1-1 18.2-.3 5.3-.8 6.1-2.6 5.3-4.2 4.6-5 5.3-7.4 17.4-30 7.6-11.2 29.7-33.5 8.3-7.8 3.8-2.1 4.6-1.1 28.1-.2 5.3-.4 6.1-2.1 5.3-3.7 6.8-7.3 14.4-19.5 9.2-11.1 37.2-42.8 12.1-12.3 3.8-2.4 4.6-1.3 19.7-.2 5.3-.7 5.3-2.3 4.6-3.7 4.6-5.6 4.5-7.5 4.6-9.5 4.5-11.5 9.9-30.8 11.4-43.6M1907.3 2627.2l4.5-2.6 4.6-4.6 3.8-5.7 4.5-9.1 8.4-22.9 15.9-54.1 3.8-9.2 3.8-5.7 3.1-2.3 3-1.1 15.2-.4 5.3-1 6.1-2.7 5.3-4.3 4.5-5.1 5.4-7.5 17.4-30.8 7.6-11.3 6.1-7.4 22.8-24.9 7.6-7.1 4.5-2.5 4.6-1 28.1-.2 5.3-.5 6.1-2 6-4.2 7.6-8.3 14.5-20.3 8.3-10.4 36.5-41.7 11.4-11.4 3.8-2.5 4.5-1.5 20.5-.4 6.1-.9 6.1-2.9 6.1-5.7 4.5-6.3 3.8-6.8 4.6-9.8 4.5-11.7 9.1-28.2 10.7-39.1M1920.2 2627.2l3.8-3.5 3.8-5.2 6.8-14 6.8-19.6 13.7-46.7 3-7.9 3.1-5.5 3-3.2 3.8-1.7 15.2-.3 6.1-1.2 5.3-2.8 4.5-3.8 4.6-5.2 5.3-7.7 17.5-31.5 6.8-10.5 6.9-8.3 25-26.9 6.1-5.1 5.3-2.2 4.6-.4 29.6-.2 5.3-1.1 5.3-2.5 4.6-3.6 5.3-5.9 15.9-22.9 8.4-10.6 36.4-41.5 9.9-10 4.6-3.1 4.5-1.5 22-.4 5.4-.8 6-2.9 6.1-5.6 4.6-6.3 4.5-8.1 4.6-10 5.3-13.9 10.6-33.9 11.4-43.2M1929.3 2627.2l3.8-3.3 3.8-4.8 3-5.2 3.8-8.3 6.1-17.1 12.1-40.7 3.1-7.9 3-5.4 3-3.2 3.1-1.3 14.4-.5 6.1-1.3 5.3-3 4.6-4 4.5-5.4 5.3-7.9 16.7-31 6.9-10.8 6.8-8.4 25.1-26.4 6-4.9 5.4-2.1 34.1-.5 5.3-1 5.4-2.5 5.3-4.3 5.3-6 15.9-23.7 7.6-9.9 36.5-41.3 9.1-9.1 5.3-3.6 4.6-1.4 22-.3 6.1-1 6.1-3 6-5.9 5.3-7.6 5.4-10.1 5.3-12.6 5.3-14.8 12.9-43.5 12.2-48.6" stroke="#6c60ff" stroke-width="1.4" fill="none" opacity=".66"/>
<path d="M1488 2627.2l6.1-12.5M1551.8 2408.1l82.8-129.9 12.2-18.2 9.1-11.6 5.3-10.1M1501.7 2627.2l6.9-9.7 5.3-10M1571.6 2411l4.5-9.1 5.4-8.9 66-102.3 19-26.9 8.4-15.3M1519.9 2627.2l6.9-9 5.3-9.6M1589.8 2418.1l5.3-10.6 7.6-12.9 50.9-80 24.3-35.4 9.1-16.7M1529.1 2627.2l6.8-8.9 5.3-9.2M1598.9 2420.7l4.6-9.3 6.1-10.6 49.3-77.1 24.3-35.5 9.9-17.8M1561.7 2627.2l6.8-8.8 5.4-9.3M1628.5 2422.1l8.4-15.1 15.9-23.6 25.1-39.3 22.8-33.3 6.8-11.8 6.1-12.3M1648.3 2424.6l8.3-14.6 32.7-50.1 22-32.4 6.9-11.7 6-12.1M1684 2419.3l3.8-8 5.3-9.1 34.9-51.5 6.9-12 6.8-14M1766 2260l4.6-7.2 3-2.2 3-.9 60-.5 3.1-1.5 3.8-3.8 3.8-5.7 3.8-7.6M1709.8 2627.2l8.4-11.1 6.8-12.9M1779.7 2411.3l6.8-13.4 10.6-16.4 29.7-40.5 12.1-15 5.3-4.5 4.6-2 4.5-.6 18.3-.3 4.5-1.1 4.6-2.2 5.3-4.1 5.3-6.3 5.3-8.5 4.6-9.1M1748.5 2627.2l6.9-9.2 5.3-9.6M1818.4 2417.5l4.6-9.3 6-9.4 22.8-29 7.6-8.2 3.8-2.7 4.6-1.7 25-1 6.1-1.8 5.3-3.2 6.1-5.8 6.1-8.4 6-11.1 7.6-17.2 1.6-1.8 45.5-38.5 18.2-14.1 4.6-2.6 3.8-1.4 13.7-.6 4.5-2 4.6-5 4.5-8M1786.5 2627.2l6.8-9.3 5.4-9.9M1853.3 2430.7l4.6-7.9 6.1-8 10.6-11.6 6.1-4.8 3.8-1.7 3.8-.6 21.2-.2 5.3-.5 6.1-2 5.3-3.4 5.4-5.1 6-7.6 28.9-42 6.1-7.3 6.8-6.9 22.8-19.6 7.6-5.8 6-3.8 3.8-1.6 3.8-.8 16-1 3.8-1.2 3.8-2.3 4.5-4.3 3.8-5 7.6-14.1M1806.2 2627.2l6.9-9.9 5.3-10.3M1867 2445.5l4.6-8.5 5.3-7.3 6.8-6.9 6.1-4.2 3.8-1.5 3.8-.6 22-.1 5.3-.6 6.1-1.9 5.3-3.4 6.1-5.9 6.1-7.6 28.8-43.2 6.1-7.4 6.8-6.9 23.6-19.7 11.4-7.6 7.6-2.3 16.7-1 3.8-1.2 3.8-2.1 4.5-4 3.8-4.6 4.6-7.2 3.8-7.4M1835.1 2627.2l6.8-9.7 5.4-9.7M1892.8 2460.9l3.1-5.9 3-4.2 3-2.8 3.8-2 6.1-1 28.1-.5 6.8-2.1 6.1-3.8 5.3-5 6.1-7.6 25.8-42.1 6.9-9.1 6.8-7.2 25.1-20.1 10.6-6.8 7.6-2.2 17.5-1 4.5-1.3 4.6-2.5 5.3-4.5 4.5-5.4 5.4-8.4 4.5-8.9M1843.5 2627.2l6.8-9.4 5.3-9.5M1901.2 2465l4.5-6.8 2.3-1.9 3-1.4 4.6-.7 28.9-.3 6.8-1.8 6.1-3.7 5.3-5 6.1-7.5 6.8-10.7 18.2-31.5 6.9-9.4 6.8-7.3 6.8-5.9 19-14.5 9.9-6.4 7.6-2.4 14.4-.3 4.6-.6 4.5-1.4 4.6-2.6 5.3-4.6 4.6-5.5 5.3-8.3 4.5-8.9M1861.7 2627.2l6.8-9.9 5.3-9.9M1913.3 2481.7l3.8-6.1 2.3-2 2.3-1.1 34.2-.5 5.3-1.3 5.3-3 6.1-5.6 6-8 6.9-11.3 17.4-32.6 6.1-8.8 6.1-6.6 6.1-5 23.5-17.2 7.6-4.7 3.8-1.4 3.8-.6 19-.4 4.5-1.2 4.6-2.3 5.3-4.3 4.6-5.3 5.3-8 4.5-8.5M2132 2270.1l4.6-8.1 2.3-2.1 3-1.2 60.8-.2 4.5-.7 4.6-2.3 3.8-3.7 3.8-5.2 3.8-6.9M1870 2627.2l6.9-9.7 5.3-9.8M1918.6 2493.4l4.6-8.2 2.3-2.2 2.3-1.2 3.8-.6 30.3-.3 5.3-1.4 5.4-3.3 5.3-5.1 6.1-8.2 6.8-11.7 17.5-33.4 6-8.7 6.1-6.4 29.6-21.7 6.9-4.1 6.8-1.8 21.3-.7 5.3-1.7 4.5-2.8 3.8-3.3 11.4-12.3 53.9-62.8 16.7-18.2 4.6-3.6 3.8-1.7 20.5-.6 6.1-1.8 4.5-3.5 3.8-4.4 3.8-6.1 3.8-7.6M1908 2627.2l6.8-10.2 5.4-10.4M1947.5 2527l3.8-5.6 2.3-1.8 2.3-.9 28.1-.6 5.3-1.4 4.5-2.6 6.1-5.7 5.3-7 6.1-10.5 6.1-12.5M2026.5 2458.3l6.8-12.6 6.9-8.1 4.5-3.5 13.7-8.2 15.2-10.4 3.8-1.7 4.5-1.1 19-.2 5.3-.6 6.1-2.1 5.3-3.5 9.9-9.9 50.9-62.6 12.1-14.3 7.6-8 5.3-4.1 4.6-1.8 3.8-.5 18.2-.2 4.6-.9 3.8-1.7 5.3-4 4.5-5.1 4.6-7 4.5-8.7M1925.5 2627.2l6.8-9.5 5.3-9.7M1958.9 2550.2l4.5-7.7 2.3-2.1 2.3-1.1 3.8-.6 22.8-.2 5.3-1.3 4.6-2.5 5.3-4.8 5.3-6.9 5.3-8.9 5.3-10.7M2037.9 2475.4l6-11.6 6.1-7.3 5.3-3.9 13.7-7.4 14.4-9.6 3.8-1.6 3.8-.8 25.1-.6 6.1-2 5.3-3.4 4.5-4.1 4.6-5.1 27.3-35.8 30.4-36.7 12.2-13.3 5.3-4.2 5.3-2.1 23.5-.6 4.6-.9 3.8-1.6 5.3-3.9 4.6-5.1 5.3-8 4.5-8.7" stroke="#ff5a64" stroke-width="1.5" fill="none" opacity=".7"/>
<path d="M1480.5 2627.2l6.8-9.5 5.3-9.6M1544.2 2420l16.8-27.8 69.8-112.3 15.2-23.4 9.9-12.6 3.8-6.7M1489.6 2627.2l6.8-9.2 5.3-9.4M1562.5 2408.9l9.8-17.7 50.2-80.3 25-39.5 14.5-20 6.8-12.6M1562.5 2627.2l6.8-10.3 5.3-10.5M1632.3 2416l7.6-14.1 34.2-55.4 28.9-43.2 6-10.8 5.4-10.9M1586.8 2627.2l3-6.4M1650.6 2418.4l6.8-12.1 31.1-49.2 25.1-37.2 6.8-12 6.1-12.4M1601.2 2627.2l9.1-15.5M1665 2429.8l9.1-16.5 28.9-44.8 21.2-31.7 6.9-11.9 6.8-13.8M1612.6 2627.2l3-6M1673.3 2431.6l7.6-13.6 49.4-74.9 7.6-13.6 10.6-22.1 49.4-41.8 19.7-15.7 8.4-4.7 3-.7 6.9-.3 4.5-2.2 4.6-5 4.5-7.8M1681.7 2435.3l6.8-12.2 42.6-63.7 11.4-18.8 50.8-50.8 30.4-29.2 6.8-4.7 3.1-1 9.1-1.2 3.8-1.8 3-2.4 6.1-7.9 5.3-10.2M1629.3 2627.2l6.1-12.5M1687 2443.9l4.6-9.3 4.5-7.5 16.7-24.2 32.7-50.1 6.1-7.8 75.2-73.5 4.5-3.7 3.8-2.2 3.8-1 9.1-1.2 5.3-2.6 3.8-3.3 3.1-3.7 6-10.3M1684 2627.2l5.3-8.7 3.8-7.5M1747.8 2416.2l3.8-7.1 4.5-6.8 22.8-29 8.4-9 37.9-37.5 16.7-16 7.6-5.9 6.1-2.4 12.9-1.6 3.8-1.5 3.8-2.5 3.8-3.7 3.8-4.9 6.8-12.2M1747 2627.2l6.8-9.5 5.4-9.6M1813.8 2425.5l3.8-6.5 4.6-5.6 15.9-14.1 22.8-22.9 11.4-10.1 5.3-3.3 4.6-1.7 13.7-1.3 5.3-1.3 4.5-2.1 3.8-2.8 4.6-4.5 3.8-5 8.3-14.7M1944.5 2282.9l4.5-8.4 4.6-5.6 6.8-5.9 9.1-5.6 4.6-1.7 4.5-.7 41-.1 5.4-.7 4.5-2.4 3.8-3.6 4.6-6.4 3.8-7.1M1755.4 2627.2l6.8-9.5 5.3-9.5M1819.2 2433.8l3.8-7.4 4.5-5.9 16.7-14 21.3-21.7 10.6-9.4 5.3-3.4 4.6-1.7 14.4-1.1 5.3-1.1 5.3-2.5 4.6-3.4 67.6-77.9 9.9-10.9 6-5.8 3.8-2.5 3.1-1 21.2-.3 3.8-.7 3.1-1.4 4.5-3.5 3.8-4.4 3.8-6 3.8-7.5M1790.3 2627.2l6.1-11.2M1845 2453.4l4.5-9.1 5.4-7.1 14.4-13.3 14.4-14.7 6.8-5.8 5.4-3.2 4.5-1.6 16-1.2 6-1.5 6.1-3.1 6.1-4.9 12.1-13.3 51.7-62.8 8.3-9.5 5.4-5.1 4.5-3.1 4.6-1.6 22-.7 4.5-1 3.8-1.7 4.6-3.3 4.6-5 4.5-6.7 4.6-8.7M1797.1 2627.2l9.1-16.1M1854.9 2453.9l3.7-6.4 3.8-4.5 13-11.5 14.4-14.6 6.1-4.9 4.5-2.5 4.6-1.4 15.2-.8 6-1.3 6.1-2.9 6.1-4.7 11.4-12.4 52.4-64.4 8.3-9.5 6.1-5.8 3.8-2.6 4.6-1.5 22.7-.6 4.6-1 4.6-2 5.3-4.3 4.5-5.4 4.6-7.2 5.3-10.7M1816.1 2627.2l8.4-11.4 6.8-13.2M1873.8 2463.6l4.6-8.3 4.5-5.6 17.5-16.2 6.1-4.7 3.8-2 4.5-1.2 15.2-.5 6.1-1 6.8-3 6.1-4.6 9.1-10.1 22.1-29.2 22.7-28 14.5-17 8.3-8.3 3.8-2.5 4.6-1.6 25-.6 4.6-.9 4.5-2 5.4-4 5.3-6 5.3-8.3 5.3-10.5M1828.3 2627.2l6-11M1882.9 2466.7l3.8-6.5 5.4-6.4 12.9-11.5 6.8-5.1 3.8-1.8 3.8-.9 15.2-.5 6.1-.9 6-2.5 5.4-3.7 4.5-4.2 5.3-6.2 20.5-27.7 15.2-19 21.3-25.5 9.1-9.6 5.3-4 5.3-2 25.1-.6 5.3-1.1 4.6-2 6-4.9 5.4-6.4 5.3-8.5 5.3-10.8M1846.5 2627.2l6.1-11.1M1895.1 2483.8l4.6-8.9 4.5-6 6.8-6 9.2-6.2 4.5-2.2 3.8-1 16.7-.3 6.1-1 6.8-3 6.1-4.6 9.1-10.4 17.5-25.6 9.9-13 28.1-33.4 9.8-10 4.6-3 4.5-1.5 26.6-.5 4.6-.8 4.5-1.9 5.4-3.7 5.3-5.6 5.3-7.6 5.3-9.8M2129 2252.1l3.8-5.3 2.3-1.5 3-.8 60.8-.1 2.2-.4 3.1-1.6 3-3 3.1-4.4 3.8-7.2M1904.2 2486.3l3.8-6.3 4.6-5.1 6-4.7 7.6-4.4 7.6-2.2 15.2-.2 5.3-.5 6.1-2.1 5.3-3.4 5.3-4.8 6.1-7.3 18.2-27.1 9.9-13.2 26.6-31.4 9.1-9.7 5.3-4 5.3-2 28.1-.6 4.6-.9 4.6-1.9 6-4.7 5.3-6.1 5.4-8.1 5.3-10.3M2135.1 2261.7l3.8-4.9 2.3-1.4 3-.8 57.7-.1 3.8-.4 3.8-1.7 3.8-3.3 3.8-5.1 3-5.5" stroke="#6c60ff" stroke-width="1.5" fill="none" opacity=".7"/>
<path d="M1422.7 2627.2l102.6-440.7M1433.4 2627.2l106.3-451.4M1440.2 2627.2l11.4-42.4 19.7-80 75.2-316.2M1456.2 2627.2l18.9-82.7 83.6-355.2M1482 2627.2l6.8-15.9 6.1-17.6 6.8-23.7 7.6-29.5 29.6-125.1 55.5-241M1494.1 2614.7l8.4-21.6 9.8-32.5 13.7-52 22.8-92.2 3-8.3M1661.2 2238.3l8.4-23 9.8-35.8M1513.9 2607.5l6.8-17 7.6-23.9 9.9-36.3 21.2-83.8 6.1-20 6.1-15.5M1674.9 2248.5l5.3-12.8 6.1-17.6 12.1-43.5M1532.1 2608.6l6.1-14.6 6.8-20.7 9.1-32.2 22.8-86.8 6.1-19.2 6.8-17M1687 2262.5l6.9-16.2 6.8-19.5 7.6-25.1 7.6-28.3M1541.2 2609.1l6.8-16 7.6-22.8 8.4-29.3 22-83.1 6.8-21.7 6.1-15.5M1693.1 2270.4l6.8-15.8 6.9-18.9 7.6-24.1 7.6-27.1M1573.9 2609.1l6.8-16.5 6.8-21.3 8.4-31 20.5-82.5 6.1-20.2 6-15.5M1713.6 2286.7l8.4-20.2 9.1-26.4 9.1-30.5 9.1-34.4M1587.5 2627.2l7.6-19.3 8.4-26.9 33.4-125.7 6.1-18.3 5.3-12.4M1724.2 2303.7l9.1-21.5 9.2-25.7 10.6-34.3 9.9-35.9M1629.3 2627.2l7.6-22.7 7.6-28.2 28.8-124.3 5.4-18.4 5.3-14.3M1741.7 2324.7l9.9-24.1 14.4-40.6M1851.1 2230.6l3.8-9.6 4.5-13.8 8.4-31.3M1725 2603.2l6.8-17.5 7.6-24.5 8.4-31.7 20.5-84.6 5.3-17.7 6.1-15.9M1901.2 2287.3l7.6-19 7.6-23.4 9.1-32.6 9.1-36.8M1760.7 2608.4l6.8-16.6 6.9-20.8 9.1-32 23.5-88 6.1-19.6 5.3-13.9M2031 2234.7l3.8-8.9 4.6-13.1 10.6-38.2M1798.7 2608l6-15 6.1-18.4 31.1-112.8 6.1-18.6 5.3-12.5M2062.9 2261.6l6.1-15.1 6.1-18.2 7.6-25.7 7.6-28.5M1818.4 2607l5.3-13.3 6.1-18.6 26.6-98.7 5.3-17.3 5.3-13.6M2073.6 2282.4l7.6-18.5 7.6-22.9 10.6-37 7.6-30.5M1847.3 2607.8l6-14.5 6.9-20.3 24.3-88.2 4.5-14.3 3.8-9.6M2093.3 2306.5l8.4-20.5 9.8-29.9 12.2-42.7 9.9-38.8M1855.6 2608.3l6.1-14.1 6.1-17.5 7.6-25.5 17.4-63.4 4.6-13.9 3.8-8.9M2098.6 2315.6l9.1-22.4 9.9-29.9 12.2-42.1 12.1-46.5M1873.8 2607.4l6.1-14.6 6.1-17.9 20.5-73.6 3.8-12 3-7.6M2107.7 2335.9l9.9-23.5 14.4-42.3M2223.2 2239.7l4.5-10.5 4.6-12.7 9.1-31.3M1882.2 2607.7l6.1-14.4 6-17.8 19-66.4 5.3-15.7M2231.5 2244l8.4-22 9.9-33.8M1920.2 2606.6l7.6-19.4 14.4-46.5 5.3-13.7M2017.4 2478.4l9.1-20.1M2257.3 2277.5l6.9-16.5 6.8-20.1 7.6-25.8 8.4-31.7M1937.6 2608l6.9-16.4 14.4-41.4M2025.7 2503.4l12.2-28M2268.7 2297.1l7.6-18.3 8.4-24.8 9.9-33.9 10.6-40.8" stroke="#ff5a64" stroke-width="1.85" stroke-dasharray="6.8 4" fill="none" opacity=".76"/>
<path d="M1492.6 2608.1l8.4-20.9 9.1-29.9 12.1-47.5 19-81 3-8.8M1659.7 2237.2l3.8-8.4 4.5-12.4 8.4-28.3M1501.7 2608.6l8.4-20.3 8.3-26.4 9.1-33.3 16.7-66.5 5.4-19.2 6-18.1 6.9-15.9M1668.8 2238.8l4.5-10.9 4.6-12.9 9.1-30.9M1574.6 2606.4l6.9-17.7 7.6-24.3 31.1-115.7 6.1-18.2 6-14.5M1714.4 2281.6l8.3-20.2 8.4-23.8 9.8-32.1 8.4-30.5M1589.8 2620.8l7.6-19.7 8.4-26.9 32.6-123.6 6.1-18.2 6.1-14M1726.5 2295.5l9.1-22 9.9-28.5 10.6-35 9.9-36.6M1610.3 2611.7l6.1-14.5 6.8-20.7 7.6-27.1 22-84.9 6.1-19.5 6.1-15.2M1737.9 2311.1l10.6-26.1 10.7-31.2 12.1-40.5 10.6-40.2M1615.6 2621.2l6.9-16.3 7.6-22.7 9.1-32.1 22-84 6.1-19.5 6-15M1849.5 2229.2l7.6-18.6 7.6-25.1M1624 2627.2l6.8-17.3 7.6-23.4 9.1-32.5 22.1-84.5 6-19.3 6.1-14.9M1860.9 2231.4l4.6-11.2 4.5-13.4 9.2-32.8M1635.4 2614.7l6.8-16.9 7.6-23.2 7.6-26.8 19.7-75 5.4-17 4.5-11.9M1866.2 2243.5l5.4-12.1 5.3-15.1 5.3-17.6 6.1-22.9M1693.1 2611l6.8-17.4 6.9-22.3 8.3-32.3 21.3-89.1 6.1-20.5 5.3-13.2M1890.5 2276.1l6.9-16.5 7.6-22.9 8.3-29.6 8.4-33.3M1759.2 2608.1l6.8-16.4 7.6-23.2 8.3-30.1 21.3-82.7 5.3-17.2 5.3-13M1926.2 2329.6l6.9-16 11.4-30.7M2041.7 2234.7l8.3-21.2 8.4-28M1767.5 2608.2l7.6-18.1 7.6-23.3 9.1-33.1 18.2-72 4.6-15.6 4.6-12.3M2050 2240.3l4.6-10.9 5.3-15.3 9.9-35M1796.4 2616l6.8-16.2 7.6-23.1 7.6-27.3 18.2-70.5 4.6-15.2 3.8-10.3M2069.8 2265.4l6.8-16.4 6.8-20.1 7.6-26 7.6-29.3M1806.2 2611.1l6.1-14.7 6.1-18.1 7.6-26.1 19.7-73.2 4.6-14.2 4.6-10.9M2076.6 2271l6.1-15.1 6.8-20.2 7.6-25.5 8.4-31.1M1831.3 2602.6l6.1-15.3 6.1-18.6 22-81.1 4.5-14.5 3.8-9.5M2089.5 2287.5l7.6-18.7 8.4-25.3 9.8-34.3 9.1-35.4M1834.3 2616.2l6.9-15.9 6.8-19.5 8.4-27.6 17.4-62.1 4.6-13.7 4.5-10.7M2095.6 2294.4l7.6-18.9 8.3-24.8 9.9-33.3 9.9-36.4M1852.6 2616.1l6.8-15.9 6.8-19.7 22.1-77.1 6.8-19.6M2104.7 2317.8l9.9-23.5 12.1-36.8 2.3-5.4M2214.1 2227.8l3.8-9.3 4.5-13.6 8.4-31.1M1858.6 2627.2l5.4-12.4 6-17.2 7.6-24.9 17.5-61.8 4.6-13.9 4.5-10.7M2110.8 2325.3l7.6-18 12.1-35.1 4.6-10.5M2220.1 2238.5l4.6-10.5 4.5-13 11.4-40.8" stroke="#6c60ff" stroke-width="1.85" stroke-dasharray="6.8 4" fill="none" opacity=".76"/>
</g>
<path d="M1419.8 2633.2H2283.2" stroke="#7f7fff" stroke-width="2.4" fill="none"/>
<path d="M1434.3 2628.5H2312.3" stroke="#ff6a6a" stroke-width="2.4" fill="none"/>
<path d="M1374.0 2658.2V2150.0" stroke="#cfcfcf" stroke-width="2.2" fill="none"/>
<path d="M1373.0 2150.0H2358.5" stroke="#adadad" stroke-width="2.2" fill="none"/>
<path d="M2357.5 2149.0V2658.2M1373.0 2658.2H2358.5" stroke="#6e6e6e" stroke-width="2.1" fill="none"/>
<path d="M1419.7 2657.2v4.5M1571.6 2657.2v4.5M1723.5 2657.2v4.5M1875.4 2657.2v4.5M2027.2 2657.2v4.5M2179.1 2657.2v4.5M2331.0 2657.2v4.5M1375.0 2172.9h-4.5M1375.0 2237.8h-4.5M1375.0 2302.7h-4.5M1375.0 2367.6h-4.5M1375.0 2432.5h-4.5M1375.0 2497.4h-4.5M1375.0 2562.3h-4.5M1375.0 2627.2h-4.5" stroke="#6a6a6a" stroke-width="2" fill="none"/>
<text transform="translate(1356.30,2134.00) scale(1.1259,1)" font-size="46.00">After-guidance permeability-40% Flow-2200veh/h</text>
<text transform="translate(1247.31,2330.30) rotate(90) scale(0.3986,0.4516)" font-size="100">Location(m)</text>
<svg x="0" y="0" width="2428" height="2756.2" viewBox="0 0 2428 2756.2"><text transform="translate(1811.00,2756.70) scale(1.0589,1)" font-size="42.00">Time(s)</text></svg>
<text transform="translate(1297.55,2190.63) scale(1.0890,1)" font-size="35.20">350</text>
<text transform="translate(1297.55,2257.33) scale(1.0890,1)" font-size="35.20">300</text>
<text transform="translate(1297.55,2323.53) scale(1.0890,1)" font-size="35.20">250</text>
<text transform="translate(1297.55,2389.73) scale(1.0890,1)" font-size="35.20">200</text>
<text transform="translate(1297.55,2456.03) scale(1.0890,1)" font-size="35.20">150</text>
<text transform="translate(1297.55,2522.03) scale(1.0890,1)" font-size="35.20">100</text>
<text transform="translate(1307.13,2588.43) scale(1.0890,1)" font-size="35.20">50</text>
<text transform="translate(1316.72,2654.53) scale(1.0890,1)" font-size="35.20">0</text>
<text transform="translate(1418.42,2708.53) scale(1.0890,1)" font-size="35.20">0</text>
<text transform="translate(1554.63,2708.53) scale(1.0890,1)" font-size="35.20">50</text>
<text transform="translate(1691.45,2708.53) scale(1.0890,1)" font-size="35.20">100</text>
<text transform="translate(1846.95,2708.53) scale(1.0890,1)" font-size="35.20">150</text>
<text transform="translate(2001.85,2708.53) scale(1.0890,1)" font-size="35.20">200</text>
<text transform="translate(2157.35,2708.53) scale(1.0890,1)" font-size="35.20">250</text>
<text transform="translate(2293.55,2708.53) scale(1.0890,1)" font-size="35.20">300</text>
</g>
<path d="M652 2865.3H914" stroke="#ff1a1a" stroke-width="3.4"/>
<path d="M1409 2865.3H1674" stroke="#0a9bd0" stroke-width="3.4"/>
<text transform="translate(969.00,2880.50) scale(1.0805,1)" font-size="47.00" font-weight="bold">Lane “E0-1”</text>
<text transform="translate(1742.50,2880.50) scale(1.0805,1)" font-size="47.00" font-weight="bold">Lane “E0-0”</text>
</svg></body></html>
